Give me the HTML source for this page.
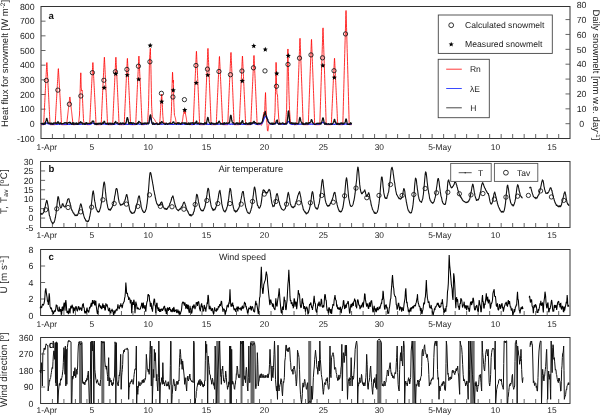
<!DOCTYPE html>
<html><head><meta charset="utf-8"><style>
html,body{margin:0;padding:0;background:#fff;width:600px;height:415px;overflow:hidden}
svg{display:block;filter:blur(0.3px)}
text{font-family:"Liberation Sans",sans-serif;text-rendering:geometricPrecision}
</style></head><body>
<svg width="600" height="415" viewBox="0 0 600 415">
<rect x="41.0" y="6.5" width="529.00" height="132.00" fill="none" stroke="#333" stroke-width="1"/>
<path d="M52.41 138.5v-4.5M63.91 138.5v-4.5M75.42 138.5v-4.5M86.93 138.5v-4.5M98.43 138.5v-4.5M109.94 138.5v-4.5M121.45 138.5v-4.5M132.95 138.5v-4.5M144.46 138.5v-4.5M155.97 138.5v-4.5M167.47 138.5v-4.5M178.98 138.5v-4.5M190.48 138.5v-4.5M201.99 138.5v-4.5M213.50 138.5v-4.5M225.00 138.5v-4.5M236.51 138.5v-4.5M248.02 138.5v-4.5M259.52 138.5v-4.5M271.03 138.5v-4.5M282.54 138.5v-4.5M294.04 138.5v-4.5M305.55 138.5v-4.5M317.06 138.5v-4.5M328.56 138.5v-4.5M340.07 138.5v-4.5M351.58 138.5v-4.5M363.08 138.5v-4.5M374.59 138.5v-4.5M386.10 138.5v-4.5M397.60 138.5v-4.5M409.11 138.5v-4.5M420.62 138.5v-4.5M432.12 138.5v-4.5M443.63 138.5v-4.5M455.13 138.5v-4.5M466.64 138.5v-4.5M478.15 138.5v-4.5M489.65 138.5v-4.5M501.16 138.5v-4.5M512.67 138.5v-4.5M524.17 138.5v-4.5M535.68 138.5v-4.5M547.19 138.5v-4.5M558.69 138.5v-4.5" stroke="#555" stroke-width="0.9" fill="none"/>
<text x="46.85" y="149.50" text-anchor="middle" font-size="8.4" fill="#222">1-Apr</text>
<text x="91.80" y="149.50" text-anchor="middle" font-size="8.4" fill="#222">5</text>
<text x="148.15" y="149.50" text-anchor="middle" font-size="8.4" fill="#222">10</text>
<text x="206.45" y="149.50" text-anchor="middle" font-size="8.4" fill="#222">15</text>
<text x="264.50" y="149.50" text-anchor="middle" font-size="8.4" fill="#222">20</text>
<text x="323.35" y="149.50" text-anchor="middle" font-size="8.4" fill="#222">25</text>
<text x="379.30" y="149.50" text-anchor="middle" font-size="8.4" fill="#222">30</text>
<text x="439.80" y="149.50" text-anchor="middle" font-size="8.4" fill="#222">5-May</text>
<text x="495.40" y="149.50" text-anchor="middle" font-size="8.4" fill="#222">10</text>
<text x="551.90" y="149.50" text-anchor="middle" font-size="8.4" fill="#222">15</text>
<rect x="40.6" y="161.5" width="529.40" height="66.00" fill="none" stroke="#333" stroke-width="1"/>
<path d="M52.41 227.5v-4.5M63.91 227.5v-4.5M75.42 227.5v-4.5M86.93 227.5v-4.5M98.43 227.5v-4.5M109.94 227.5v-4.5M121.45 227.5v-4.5M132.95 227.5v-4.5M144.46 227.5v-4.5M155.97 227.5v-4.5M167.47 227.5v-4.5M178.98 227.5v-4.5M190.48 227.5v-4.5M201.99 227.5v-4.5M213.50 227.5v-4.5M225.00 227.5v-4.5M236.51 227.5v-4.5M248.02 227.5v-4.5M259.52 227.5v-4.5M271.03 227.5v-4.5M282.54 227.5v-4.5M294.04 227.5v-4.5M305.55 227.5v-4.5M317.06 227.5v-4.5M328.56 227.5v-4.5M340.07 227.5v-4.5M351.58 227.5v-4.5M363.08 227.5v-4.5M374.59 227.5v-4.5M386.10 227.5v-4.5M397.60 227.5v-4.5M409.11 227.5v-4.5M420.62 227.5v-4.5M432.12 227.5v-4.5M443.63 227.5v-4.5M455.13 227.5v-4.5M466.64 227.5v-4.5M478.15 227.5v-4.5M489.65 227.5v-4.5M501.16 227.5v-4.5M512.67 227.5v-4.5M524.17 227.5v-4.5M535.68 227.5v-4.5M547.19 227.5v-4.5M558.69 227.5v-4.5" stroke="#555" stroke-width="0.9" fill="none"/>
<text x="46.85" y="237.60" text-anchor="middle" font-size="8.4" fill="#222">1-Apr</text>
<text x="91.80" y="237.60" text-anchor="middle" font-size="8.4" fill="#222">5</text>
<text x="148.15" y="237.60" text-anchor="middle" font-size="8.4" fill="#222">10</text>
<text x="206.45" y="237.60" text-anchor="middle" font-size="8.4" fill="#222">15</text>
<text x="264.50" y="237.60" text-anchor="middle" font-size="8.4" fill="#222">20</text>
<text x="323.35" y="237.60" text-anchor="middle" font-size="8.4" fill="#222">25</text>
<text x="379.30" y="237.60" text-anchor="middle" font-size="8.4" fill="#222">30</text>
<text x="439.80" y="237.60" text-anchor="middle" font-size="8.4" fill="#222">5-May</text>
<text x="495.40" y="237.60" text-anchor="middle" font-size="8.4" fill="#222">10</text>
<text x="551.90" y="237.60" text-anchor="middle" font-size="8.4" fill="#222">15</text>
<rect x="40.6" y="249.5" width="529.40" height="66.00" fill="none" stroke="#333" stroke-width="1"/>
<path d="M52.41 315.5v-4.5M63.91 315.5v-4.5M75.42 315.5v-4.5M86.93 315.5v-4.5M98.43 315.5v-4.5M109.94 315.5v-4.5M121.45 315.5v-4.5M132.95 315.5v-4.5M144.46 315.5v-4.5M155.97 315.5v-4.5M167.47 315.5v-4.5M178.98 315.5v-4.5M190.48 315.5v-4.5M201.99 315.5v-4.5M213.50 315.5v-4.5M225.00 315.5v-4.5M236.51 315.5v-4.5M248.02 315.5v-4.5M259.52 315.5v-4.5M271.03 315.5v-4.5M282.54 315.5v-4.5M294.04 315.5v-4.5M305.55 315.5v-4.5M317.06 315.5v-4.5M328.56 315.5v-4.5M340.07 315.5v-4.5M351.58 315.5v-4.5M363.08 315.5v-4.5M374.59 315.5v-4.5M386.10 315.5v-4.5M397.60 315.5v-4.5M409.11 315.5v-4.5M420.62 315.5v-4.5M432.12 315.5v-4.5M443.63 315.5v-4.5M455.13 315.5v-4.5M466.64 315.5v-4.5M478.15 315.5v-4.5M489.65 315.5v-4.5M501.16 315.5v-4.5M512.67 315.5v-4.5M524.17 315.5v-4.5M535.68 315.5v-4.5M547.19 315.5v-4.5M558.69 315.5v-4.5" stroke="#555" stroke-width="0.9" fill="none"/>
<text x="46.85" y="326.70" text-anchor="middle" font-size="8.4" fill="#222">1-Apr</text>
<text x="91.80" y="326.70" text-anchor="middle" font-size="8.4" fill="#222">5</text>
<text x="148.15" y="326.70" text-anchor="middle" font-size="8.4" fill="#222">10</text>
<text x="206.45" y="326.70" text-anchor="middle" font-size="8.4" fill="#222">15</text>
<text x="264.50" y="326.70" text-anchor="middle" font-size="8.4" fill="#222">20</text>
<text x="323.35" y="326.70" text-anchor="middle" font-size="8.4" fill="#222">25</text>
<text x="379.30" y="326.70" text-anchor="middle" font-size="8.4" fill="#222">30</text>
<text x="439.80" y="326.70" text-anchor="middle" font-size="8.4" fill="#222">5-May</text>
<text x="495.40" y="326.70" text-anchor="middle" font-size="8.4" fill="#222">10</text>
<text x="551.90" y="326.70" text-anchor="middle" font-size="8.4" fill="#222">15</text>
<rect x="40.6" y="337.5" width="529.40" height="66.00" fill="none" stroke="#333" stroke-width="1"/>
<path d="M52.41 403.5v-4.5M63.91 403.5v-4.5M75.42 403.5v-4.5M86.93 403.5v-4.5M98.43 403.5v-4.5M109.94 403.5v-4.5M121.45 403.5v-4.5M132.95 403.5v-4.5M144.46 403.5v-4.5M155.97 403.5v-4.5M167.47 403.5v-4.5M178.98 403.5v-4.5M190.48 403.5v-4.5M201.99 403.5v-4.5M213.50 403.5v-4.5M225.00 403.5v-4.5M236.51 403.5v-4.5M248.02 403.5v-4.5M259.52 403.5v-4.5M271.03 403.5v-4.5M282.54 403.5v-4.5M294.04 403.5v-4.5M305.55 403.5v-4.5M317.06 403.5v-4.5M328.56 403.5v-4.5M340.07 403.5v-4.5M351.58 403.5v-4.5M363.08 403.5v-4.5M374.59 403.5v-4.5M386.10 403.5v-4.5M397.60 403.5v-4.5M409.11 403.5v-4.5M420.62 403.5v-4.5M432.12 403.5v-4.5M443.63 403.5v-4.5M455.13 403.5v-4.5M466.64 403.5v-4.5M478.15 403.5v-4.5M489.65 403.5v-4.5M501.16 403.5v-4.5M512.67 403.5v-4.5M524.17 403.5v-4.5M535.68 403.5v-4.5M547.19 403.5v-4.5M558.69 403.5v-4.5" stroke="#555" stroke-width="0.9" fill="none"/>
<text x="46.85" y="413.00" text-anchor="middle" font-size="8.4" fill="#222">1-Apr</text>
<text x="91.80" y="413.00" text-anchor="middle" font-size="8.4" fill="#222">5</text>
<text x="148.15" y="413.00" text-anchor="middle" font-size="8.4" fill="#222">10</text>
<text x="206.45" y="413.00" text-anchor="middle" font-size="8.4" fill="#222">15</text>
<text x="264.50" y="413.00" text-anchor="middle" font-size="8.4" fill="#222">20</text>
<text x="323.35" y="413.00" text-anchor="middle" font-size="8.4" fill="#222">25</text>
<text x="379.30" y="413.00" text-anchor="middle" font-size="8.4" fill="#222">30</text>
<text x="439.80" y="413.00" text-anchor="middle" font-size="8.4" fill="#222">5-May</text>
<text x="495.40" y="413.00" text-anchor="middle" font-size="8.4" fill="#222">10</text>
<text x="551.90" y="413.00" text-anchor="middle" font-size="8.4" fill="#222">15</text>
<text x="34.6" y="141.70" text-anchor="end" font-size="8.8" fill="#222">-100</text>
<text x="34.6" y="127.03" text-anchor="end" font-size="8.8" fill="#222">0</text>
<text x="34.6" y="112.37" text-anchor="end" font-size="8.8" fill="#222">100</text>
<text x="34.6" y="97.70" text-anchor="end" font-size="8.8" fill="#222">200</text>
<text x="34.6" y="83.03" text-anchor="end" font-size="8.8" fill="#222">300</text>
<text x="34.6" y="68.37" text-anchor="end" font-size="8.8" fill="#222">400</text>
<text x="34.6" y="53.70" text-anchor="end" font-size="8.8" fill="#222">500</text>
<text x="34.6" y="39.03" text-anchor="end" font-size="8.8" fill="#222">600</text>
<text x="34.6" y="24.37" text-anchor="end" font-size="8.8" fill="#222">700</text>
<text x="34.6" y="9.70" text-anchor="end" font-size="8.8" fill="#222">800</text>
<path d="M41.0 123.83h4.5M41.0 109.17h4.5M41.0 94.50h4.5M41.0 79.83h4.5M41.0 65.17h4.5M41.0 50.50h4.5M41.0 35.83h4.5M41.0 21.17h4.5" stroke="#555" stroke-width="0.9" fill="none"/>
<text x="33.5" y="230.70" text-anchor="end" font-size="8.8" fill="#222">-5</text>
<text x="33.5" y="221.27" text-anchor="end" font-size="8.8" fill="#222">0</text>
<text x="33.5" y="211.84" text-anchor="end" font-size="8.8" fill="#222">5</text>
<text x="33.5" y="202.41" text-anchor="end" font-size="8.8" fill="#222">10</text>
<text x="33.5" y="192.99" text-anchor="end" font-size="8.8" fill="#222">15</text>
<text x="33.5" y="183.56" text-anchor="end" font-size="8.8" fill="#222">20</text>
<text x="33.5" y="174.13" text-anchor="end" font-size="8.8" fill="#222">25</text>
<text x="33.5" y="164.70" text-anchor="end" font-size="8.8" fill="#222">30</text>
<path d="M40.6 218.07h4.5M40.6 208.64h4.5M40.6 199.21h4.5M40.6 189.79h4.5M40.6 180.36h4.5M40.6 170.93h4.5" stroke="#555" stroke-width="0.9" fill="none"/>
<text x="33.5" y="318.70" text-anchor="end" font-size="8.8" fill="#222">0</text>
<text x="33.5" y="302.20" text-anchor="end" font-size="8.8" fill="#222">2</text>
<text x="33.5" y="285.70" text-anchor="end" font-size="8.8" fill="#222">4</text>
<text x="33.5" y="269.20" text-anchor="end" font-size="8.8" fill="#222">6</text>
<text x="33.5" y="252.70" text-anchor="end" font-size="8.8" fill="#222">8</text>
<path d="M40.6 299.00h4.5M40.6 282.50h4.5M40.6 266.00h4.5" stroke="#555" stroke-width="0.9" fill="none"/>
<text x="33.5" y="406.70" text-anchor="end" font-size="8.8" fill="#222">0</text>
<text x="33.5" y="390.20" text-anchor="end" font-size="8.8" fill="#222">90</text>
<text x="33.5" y="373.70" text-anchor="end" font-size="8.8" fill="#222">180</text>
<text x="33.5" y="357.20" text-anchor="end" font-size="8.8" fill="#222">270</text>
<text x="33.5" y="340.70" text-anchor="end" font-size="8.8" fill="#222">360</text>
<path d="M40.6 387.00h4.5M40.6 370.50h4.5M40.6 354.00h4.5" stroke="#555" stroke-width="0.9" fill="none"/>
<text x="581.6" y="126.90" text-anchor="middle" font-size="8.8" fill="#222">0</text>
<text x="581.6" y="112.03" text-anchor="middle" font-size="8.8" fill="#222">10</text>
<text x="581.6" y="97.15" text-anchor="middle" font-size="8.8" fill="#222">20</text>
<text x="581.6" y="82.28" text-anchor="middle" font-size="8.8" fill="#222">30</text>
<text x="581.6" y="67.40" text-anchor="middle" font-size="8.8" fill="#222">40</text>
<text x="581.6" y="52.53" text-anchor="middle" font-size="8.8" fill="#222">50</text>
<text x="581.6" y="37.65" text-anchor="middle" font-size="8.8" fill="#222">60</text>
<text x="581.6" y="22.78" text-anchor="middle" font-size="8.8" fill="#222">70</text>
<text x="581.6" y="7.90" text-anchor="middle" font-size="8.8" fill="#222">80</text>
<path d="M570 123.70h-4.5M570 108.83h-4.5M570 93.95h-4.5M570 79.08h-4.5M570 64.20h-4.5M570 49.33h-4.5M570 34.45h-4.5M570 19.58h-4.5" stroke="#555" stroke-width="0.9" fill="none"/>
<text transform="translate(7.8,63.5) rotate(-90)" text-anchor="middle" font-size="9.5" fill="#222">Heat flux for snowmelt [W m<tspan dy="-3.2" font-size="6.5">-2</tspan><tspan dy="3.2">]</tspan></text>
<text transform="translate(593.2,74.9) rotate(90)" text-anchor="middle" font-size="9.5" fill="#222">Daily snowmelt [mm w.e. day<tspan dy="-3.2" font-size="6.5">-1</tspan><tspan dy="3.2">]</tspan></text>
<text transform="translate(7.0,191.5) rotate(-90)" text-anchor="middle" font-size="9.6" letter-spacing="0.35" fill="#222">T, T<tspan dy="1.0" font-size="6.6">av</tspan><tspan dy="-1.0"> [ºC]</tspan></text>
<text transform="translate(7.2,274.6) rotate(-90)" text-anchor="middle" font-size="9.8" fill="#222">U [m s<tspan dy="-3.4" font-size="6.8">-1</tspan><tspan dy="3.4" dx="0.6">]</tspan></text>
<text transform="translate(7.3,369.8) rotate(-90)" text-anchor="middle" font-size="9.9" fill="#222">Wind direction [º]</text>
<text x="218.5" y="171.8" font-size="9.4" fill="#222">Air temperature</text>
<text x="218.9" y="259.8" font-size="8.95" fill="#222">Wind speed</text>
<polyline points="40.90,124.71 41.02,124.71 41.14,124.71 41.26,124.71 41.38,124.71 41.50,124.71 41.62,124.71 41.74,124.71 41.86,124.71 41.98,124.71 42.10,124.71 42.22,124.71 42.34,124.71 42.46,124.71 42.58,124.71 42.70,124.71 42.82,124.71 42.94,124.71 43.06,124.71 43.18,124.71 43.30,124.71 43.42,124.71 43.54,124.71 43.66,124.71 43.78,122.44 43.90,119.80 44.02,117.23 44.14,114.71 44.26,112.23 44.38,109.77 44.50,107.33 44.62,104.91 44.74,102.50 44.86,100.11 44.98,97.73 45.10,95.37 45.21,93.01 45.33,90.66 45.45,88.32 45.57,85.99 45.69,83.66 45.81,81.34 45.93,79.03 46.05,76.73 46.17,74.43 46.29,72.13 46.41,69.85 46.53,67.56 46.65,65.28 46.77,63.01 46.89,62.55 47.01,64.83 47.13,67.11 47.25,69.39 47.37,71.68 47.49,73.97 47.61,76.27 47.73,78.57 47.85,80.88 47.97,83.20 48.09,85.52 48.21,87.85 48.33,90.19 48.45,92.54 48.57,94.89 48.69,97.26 48.81,99.64 48.93,102.02 49.05,104.43 49.17,106.84 49.29,109.28 49.41,111.73 49.53,114.21 49.65,116.72 49.77,119.28 49.89,121.90 50.01,124.71 50.13,124.71 50.25,124.71 50.37,124.71 50.49,124.71 50.61,124.71 50.73,124.71 50.85,124.71 50.97,124.71 51.09,124.71 51.21,124.71 51.33,124.71 51.45,124.71 51.57,124.71 51.69,124.71 51.81,124.71 51.93,124.71 52.05,124.71 52.17,124.71 52.29,124.71 52.41,124.71 52.53,124.71 52.65,124.71 52.77,124.71 52.89,124.71 53.01,124.71 53.13,124.71 53.25,124.71 53.37,124.71 53.49,124.71 53.61,124.71 53.72,124.71 53.84,124.71 53.96,124.71 54.08,124.71 54.20,124.71 54.32,124.71 54.44,124.71 54.56,124.71 54.68,124.71 54.80,124.71 54.92,124.71 55.04,124.71 55.16,124.71 55.28,122.66 55.40,120.28 55.52,117.96 55.64,115.69 55.76,113.45 55.88,111.23 56.00,109.03 56.12,106.84 56.24,104.67 56.36,102.52 56.48,100.37 56.60,98.23 56.72,96.11 56.84,93.99 56.96,91.87 57.08,89.77 57.20,87.67 57.32,85.58 57.44,83.50 57.56,81.41 57.68,79.34 57.80,77.27 57.92,75.21 58.04,73.14 58.16,71.09 58.28,69.04 58.40,68.63 58.52,70.68 58.64,72.73 58.76,74.79 58.88,76.86 59.00,78.93 59.12,81.00 59.24,83.08 59.36,85.16 59.48,87.25 59.60,89.35 59.72,91.45 59.84,93.56 59.96,95.68 60.08,97.81 60.20,99.94 60.32,102.09 60.44,104.24 60.56,106.41 60.68,108.59 60.80,110.79 60.92,113.00 61.04,115.24 61.16,117.50 61.28,119.81 61.40,122.17 61.52,124.71 61.64,124.71 61.76,124.71 61.88,124.71 62.00,124.71 62.12,124.71 62.24,124.71 62.35,124.71 62.47,124.71 62.59,124.71 62.71,124.71 62.83,124.71 62.95,124.71 63.07,124.71 63.19,124.71 63.31,124.71 63.43,124.71 63.55,124.71 63.67,124.71 63.79,124.71 63.91,124.71 64.03,124.71 64.15,124.71 64.27,124.71 64.39,124.71 64.51,124.71 64.63,124.71 64.75,124.71 64.87,124.71 64.99,124.71 65.11,124.71 65.23,124.71 65.35,124.71 65.47,124.71 65.59,124.71 65.71,124.71 65.83,124.71 65.95,124.71 66.07,124.71 66.19,124.71 66.31,124.71 66.43,124.71 66.55,124.71 66.67,124.71 66.79,123.70 66.91,122.52 67.03,121.37 67.15,120.25 67.27,119.14 67.39,118.04 67.51,116.95 67.63,115.87 67.75,114.80 67.87,113.73 67.99,112.67 68.11,111.61 68.23,110.56 68.35,109.51 68.47,108.46 68.59,107.42 68.71,106.38 68.83,105.35 68.95,104.32 69.07,103.29 69.19,102.26 69.31,101.24 69.43,100.21 69.55,99.19 69.67,98.18 69.79,97.16 69.91,96.96 70.03,97.97 70.15,98.99 70.27,100.01 70.39,101.03 70.51,102.06 70.63,103.08 70.75,104.11 70.86,105.14 70.98,106.18 71.10,107.21 71.22,108.25 71.34,109.30 71.46,110.35 71.58,111.40 71.70,112.45 71.82,113.52 71.94,114.58 72.06,115.66 72.18,116.73 72.30,117.82 72.42,118.92 72.54,120.02 72.66,121.15 72.78,122.29 72.90,123.46 73.02,124.71 73.14,124.71 73.26,124.71 73.38,124.71 73.50,124.71 73.62,124.71 73.74,124.71 73.86,124.71 73.98,124.71 74.10,124.71 74.22,124.71 74.34,124.71 74.46,124.71 74.58,124.71 74.70,124.71 74.82,124.71 74.94,124.71 75.06,124.71 75.18,124.71 75.30,124.71 75.42,123.83 75.54,123.83 75.66,123.83 75.78,123.83 75.90,123.83 76.02,123.83 76.14,123.83 76.26,123.83 76.38,123.83 76.50,123.83 76.62,123.83 76.74,123.83 76.86,123.83 76.98,123.83 77.10,123.83 77.22,123.83 77.34,123.83 77.46,123.83 77.58,123.83 77.70,123.83 77.82,123.83 77.94,123.83 78.06,123.83 78.18,123.83 78.30,123.83 78.42,123.83 78.54,123.83 78.66,122.73 78.78,121.63 78.90,120.53 79.02,119.43 79.14,118.33 79.26,117.23 79.37,116.13 79.49,115.03 79.61,110.63 79.73,106.23 79.85,101.83 79.97,97.43 80.09,93.03 80.21,88.63 80.33,84.23 80.45,79.83 80.57,77.50 80.69,75.16 80.81,72.82 80.93,76.59 81.05,81.88 81.17,87.17 81.29,88.08 81.41,89.00 81.53,89.92 81.65,90.83 81.77,90.65 81.89,90.47 82.01,90.28 82.13,90.10 82.25,92.79 82.37,95.48 82.49,98.17 82.61,100.86 82.73,103.54 82.85,106.23 82.97,108.68 83.09,111.12 83.21,113.57 83.33,116.01 83.45,118.46 83.57,120.90 83.69,121.39 83.81,121.88 83.93,122.37 84.05,122.86 84.17,123.34 84.29,123.83 84.41,123.83 84.53,123.83 84.65,123.83 84.77,123.83 84.89,123.83 85.01,123.83 85.13,123.83 85.25,123.83 85.37,123.83 85.49,123.83 85.61,123.83 85.73,123.83 85.85,123.83 85.97,123.83 86.09,123.83 86.21,123.83 86.33,123.83 86.45,123.83 86.57,123.83 86.69,123.83 86.81,123.83 86.93,124.71 87.05,124.71 87.17,124.71 87.29,124.71 87.41,124.71 87.53,124.71 87.65,124.71 87.77,124.71 87.88,124.71 88.00,124.71 88.12,124.71 88.24,124.71 88.36,124.71 88.48,124.71 88.60,124.71 88.72,124.71 88.84,124.71 88.96,124.71 89.08,124.71 89.20,124.71 89.32,124.71 89.44,124.71 89.56,124.71 89.68,124.71 89.80,122.44 89.92,119.80 90.04,117.23 90.16,114.71 90.28,112.23 90.40,109.77 90.52,107.33 90.64,104.91 90.76,102.50 90.88,100.11 91.00,97.73 91.12,95.37 91.24,93.01 91.36,90.66 91.48,88.32 91.60,85.99 91.72,83.66 91.84,81.34 91.96,79.03 92.08,76.73 92.20,74.43 92.32,72.13 92.44,69.85 92.56,67.56 92.68,65.28 92.80,63.01 92.92,62.55 93.04,64.83 93.16,67.11 93.28,69.39 93.40,71.68 93.52,73.97 93.64,76.27 93.76,78.57 93.88,80.88 94.00,83.20 94.12,85.52 94.24,87.85 94.36,90.19 94.48,92.54 94.60,94.89 94.72,97.26 94.84,99.64 94.96,102.02 95.08,104.43 95.20,106.84 95.32,109.28 95.44,111.73 95.56,114.21 95.68,116.72 95.80,119.28 95.92,121.90 96.04,124.71 96.16,124.71 96.28,124.71 96.39,124.71 96.51,124.71 96.63,124.71 96.75,124.71 96.87,124.71 96.99,124.71 97.11,124.71 97.23,124.71 97.35,124.71 97.47,124.71 97.59,124.71 97.71,124.71 97.83,124.71 97.95,124.71 98.07,124.71 98.19,124.71 98.31,124.71 98.43,124.71 98.55,124.71 98.67,124.71 98.79,124.71 98.91,124.71 99.03,124.71 99.15,124.71 99.27,124.71 99.39,124.71 99.51,124.71 99.63,124.71 99.75,124.71 99.87,124.71 99.99,124.71 100.11,124.71 100.23,124.71 100.35,124.71 100.47,124.71 100.59,124.71 100.71,124.71 100.83,124.71 100.95,124.71 101.07,124.71 101.19,124.71 101.31,122.24 101.43,119.37 101.55,116.59 101.67,113.85 101.79,111.15 101.91,108.48 102.03,105.83 102.15,103.20 102.27,100.59 102.39,98.00 102.51,95.41 102.63,92.84 102.75,90.28 102.87,87.73 102.99,85.19 103.11,82.66 103.23,80.13 103.35,77.61 103.47,75.10 103.59,72.60 103.71,70.10 103.83,67.61 103.95,65.12 104.07,62.64 104.19,60.17 104.31,57.70 104.43,57.21 104.55,59.68 104.67,62.15 104.79,64.63 104.91,67.11 105.02,69.60 105.14,72.10 105.26,74.60 105.38,77.11 105.50,79.63 105.62,82.15 105.74,84.68 105.86,87.22 105.98,89.77 106.10,92.33 106.22,94.90 106.34,97.48 106.46,100.07 106.58,102.68 106.70,105.31 106.82,107.95 106.94,110.62 107.06,113.31 107.18,116.04 107.30,118.81 107.42,121.66 107.54,124.71 107.66,124.71 107.78,124.71 107.90,124.71 108.02,124.71 108.14,124.71 108.26,124.71 108.38,124.71 108.50,124.71 108.62,124.71 108.74,124.71 108.86,124.71 108.98,124.71 109.10,124.71 109.22,124.71 109.34,124.71 109.46,124.71 109.58,124.71 109.70,124.71 109.82,124.71 109.94,124.71 110.06,124.71 110.18,124.71 110.30,124.71 110.42,124.71 110.54,124.71 110.66,124.71 110.78,124.71 110.90,124.71 111.02,124.71 111.14,124.71 111.26,124.71 111.38,124.71 111.50,124.71 111.62,124.71 111.74,124.71 111.86,124.71 111.98,124.71 112.10,124.71 112.22,124.71 112.34,124.71 112.46,124.71 112.58,124.71 112.70,124.71 112.82,122.24 112.94,119.37 113.06,116.59 113.18,113.85 113.30,111.15 113.42,108.48 113.53,105.83 113.65,103.20 113.77,100.59 113.89,98.00 114.01,95.41 114.13,92.84 114.25,90.28 114.37,87.73 114.49,85.19 114.61,82.66 114.73,80.13 114.85,77.61 114.97,75.10 115.09,72.60 115.21,70.10 115.33,67.61 115.45,65.12 115.57,62.64 115.69,60.17 115.81,57.70 115.93,57.21 116.05,59.68 116.17,62.15 116.29,64.63 116.41,67.11 116.53,69.60 116.65,72.10 116.77,74.60 116.89,77.11 117.01,79.63 117.13,82.15 117.25,84.68 117.37,87.22 117.49,89.77 117.61,92.33 117.73,94.90 117.85,97.48 117.97,100.07 118.09,102.68 118.21,105.31 118.33,107.95 118.45,110.62 118.57,113.31 118.69,116.04 118.81,118.81 118.93,121.66 119.05,124.71 119.17,124.71 119.29,124.71 119.41,124.71 119.53,124.71 119.65,124.71 119.77,124.71 119.89,124.71 120.01,124.71 120.13,124.71 120.25,124.71 120.37,124.71 120.49,124.71 120.61,124.71 120.73,124.71 120.85,124.71 120.97,124.71 121.09,124.71 121.21,124.71 121.33,124.71 121.45,124.71 121.57,124.71 121.69,124.71 121.81,124.71 121.93,124.71 122.04,124.71 122.16,124.71 122.28,124.71 122.40,124.71 122.52,124.71 122.64,124.71 122.76,124.71 122.88,124.71 123.00,124.71 123.12,124.71 123.24,124.71 123.36,124.71 123.48,124.71 123.60,124.71 123.72,124.71 123.84,124.71 123.96,124.71 124.08,124.71 124.20,124.71 124.32,122.28 124.44,119.46 124.56,116.73 124.68,114.04 124.80,111.38 124.92,108.76 125.04,106.16 125.16,103.57 125.28,101.01 125.40,98.45 125.52,95.91 125.64,93.39 125.76,90.87 125.88,88.36 126.00,85.87 126.12,83.38 126.24,80.89 126.36,78.42 126.48,75.95 126.60,73.49 126.72,71.04 126.84,68.59 126.96,66.15 127.08,63.71 127.20,61.28 127.32,58.85 127.44,58.36 127.56,60.79 127.68,63.22 127.80,65.66 127.92,68.10 128.04,70.55 128.16,73.00 128.28,75.46 128.40,77.93 128.52,80.40 128.64,82.88 128.76,85.37 128.88,87.86 129.00,90.37 129.12,92.88 129.24,95.41 129.36,97.95 129.48,100.49 129.60,103.06 129.72,105.64 129.84,108.24 129.96,110.86 130.08,113.50 130.20,116.18 130.32,118.91 130.44,121.71 130.55,124.71 130.67,124.71 130.79,124.71 130.91,124.71 131.03,124.71 131.15,124.71 131.27,124.71 131.39,124.71 131.51,124.71 131.63,124.71 131.75,124.71 131.87,124.71 131.99,124.71 132.11,124.71 132.23,124.71 132.35,124.71 132.47,124.71 132.59,124.71 132.71,124.71 132.83,124.71 132.95,124.71 133.07,124.71 133.19,124.71 133.31,124.71 133.43,124.71 133.55,124.71 133.67,124.71 133.79,124.71 133.91,124.71 134.03,124.71 134.15,124.71 134.27,124.71 134.39,124.71 134.51,124.71 134.63,124.71 134.75,124.71 134.87,124.71 134.99,124.71 135.11,124.71 135.23,124.71 135.35,124.71 135.47,124.71 135.59,124.71 135.71,124.71 135.83,122.20 135.95,119.28 136.07,116.45 136.19,113.67 136.31,110.92 136.43,108.20 136.55,105.51 136.67,102.84 136.79,100.18 136.91,97.54 137.03,94.91 137.15,92.30 137.27,89.69 137.39,87.10 137.51,84.51 137.63,81.93 137.75,79.37 137.87,76.81 137.99,74.25 138.11,71.71 138.23,69.17 138.35,66.63 138.47,64.10 138.59,61.58 138.71,59.06 138.83,56.55 138.95,56.05 139.07,58.56 139.18,61.08 139.30,63.60 139.42,66.13 139.54,68.66 139.66,71.20 139.78,73.74 139.90,76.29 140.02,78.85 140.14,81.42 140.26,84.00 140.38,86.58 140.50,89.17 140.62,91.77 140.74,94.39 140.86,97.01 140.98,99.65 141.10,102.30 141.22,104.97 141.34,107.66 141.46,110.37 141.58,113.11 141.70,115.89 141.82,118.71 141.94,121.61 142.06,124.71 142.18,124.71 142.30,124.71 142.42,124.71 142.54,124.71 142.66,124.71 142.78,124.71 142.90,124.71 143.02,124.71 143.14,124.71 143.26,124.71 143.38,124.71 143.50,124.71 143.62,124.71 143.74,124.71 143.86,124.71 143.98,124.71 144.10,124.71 144.22,124.71 144.34,124.71 144.46,123.83 144.58,123.83 144.70,123.83 144.82,123.83 144.94,123.83 145.06,123.83 145.18,123.83 145.30,123.83 145.42,123.83 145.54,123.83 145.66,123.83 145.78,123.83 145.90,123.83 146.02,123.83 146.14,123.83 146.26,123.83 146.38,123.83 146.50,123.83 146.62,123.83 146.74,123.83 146.86,123.83 146.98,123.83 147.10,123.83 147.22,123.83 147.34,123.83 147.46,123.83 147.58,123.83 147.69,121.63 147.81,119.43 147.93,117.23 148.05,115.03 148.17,112.83 148.29,110.63 148.41,108.43 148.53,106.23 148.65,100.37 148.77,94.50 148.89,88.63 149.01,82.77 149.13,76.90 149.25,71.03 149.37,65.17 149.49,59.30 149.61,57.73 149.73,56.16 149.85,54.59 149.97,53.03 150.09,51.46 150.21,49.89 150.33,48.32 150.45,51.36 150.57,55.54 150.69,59.73 150.81,63.91 150.93,68.10 151.05,74.46 151.17,80.81 151.29,87.17 151.41,93.52 151.53,99.88 151.65,106.23 151.77,108.37 151.89,110.51 152.01,112.65 152.13,114.79 152.25,116.54 152.37,116.74 152.49,116.95 152.61,117.15 152.73,117.36 152.85,117.56 152.97,117.76 153.09,117.97 153.21,118.09 153.33,118.21 153.45,118.33 153.57,118.46 153.69,118.58 153.81,118.70 153.93,118.82 154.05,118.94 154.17,119.07 154.29,119.19 154.41,119.31 154.53,119.43 154.65,119.68 154.77,119.92 154.89,120.17 155.01,120.41 155.13,120.66 155.25,120.90 155.37,121.14 155.49,121.39 155.61,121.63 155.73,121.88 155.85,122.12 155.97,122.37 156.09,122.44 156.20,122.51 156.32,122.59 156.44,122.66 156.56,122.73 156.68,122.81 156.80,122.88 156.92,122.95 157.04,123.03 157.16,123.10 157.28,123.17 157.40,123.25 157.52,123.32 157.64,123.39 157.76,123.47 157.88,123.54 158.00,123.61 158.12,123.69 158.24,123.76 158.36,123.83 158.48,123.71 158.60,123.59 158.72,123.47 158.84,123.34 158.96,123.22 159.08,123.10 159.20,122.98 159.32,122.86 159.44,122.73 159.56,122.61 159.68,122.49 159.80,122.37 159.92,120.53 160.04,118.70 160.16,116.87 160.28,115.03 160.40,112.83 160.52,110.63 160.64,108.43 160.76,106.23 160.88,104.03 161.00,101.83 161.12,100.54 161.24,99.24 161.36,97.95 161.48,96.65 161.60,95.36 161.72,94.06 161.84,96.00 161.96,97.95 162.08,99.89 162.20,101.83 162.32,104.58 162.44,107.33 162.56,110.08 162.68,112.83 162.80,115.32 162.92,116.73 163.04,118.14 163.16,119.55 163.28,120.96 163.40,122.37 163.52,122.41 163.64,122.45 163.76,122.50 163.88,122.54 164.00,122.58 164.12,122.63 164.24,122.67 164.36,122.71 164.48,122.75 164.60,122.80 164.71,122.84 164.83,122.88 164.95,122.93 165.07,122.97 165.19,123.01 165.31,123.06 165.43,123.10 165.55,123.14 165.67,123.19 165.79,123.23 165.91,123.27 166.03,123.32 166.15,123.36 166.27,123.40 166.39,123.45 166.51,123.49 166.63,123.53 166.75,123.57 166.87,123.62 166.99,123.66 167.11,123.70 167.23,123.75 167.35,123.79 167.47,123.83 167.59,123.83 167.71,123.83 167.83,123.83 167.95,123.83 168.07,123.83 168.19,123.83 168.31,123.83 168.43,123.83 168.55,123.83 168.67,123.83 168.79,123.83 168.91,123.83 169.03,123.83 169.15,123.83 169.27,123.83 169.39,123.83 169.51,123.83 169.63,123.83 169.75,123.83 169.87,123.83 169.99,123.83 170.11,123.83 170.23,123.83 170.35,123.83 170.47,123.83 170.59,123.83 170.71,122.11 170.83,120.38 170.95,118.66 171.07,116.93 171.19,115.21 171.31,113.48 171.43,111.14 171.55,106.35 171.67,101.55 171.79,96.76 171.91,91.96 172.03,87.17 172.15,83.43 172.27,79.70 172.39,75.97 172.51,72.23 172.63,72.99 172.75,76.75 172.87,80.51 172.99,82.44 173.11,81.63 173.23,80.81 173.34,80.00 173.46,84.72 173.58,90.83 173.70,96.94 173.82,102.34 173.94,104.88 174.06,107.42 174.18,109.96 174.30,112.49 174.42,115.03 174.54,115.40 174.66,115.77 174.78,116.13 174.90,116.50 175.02,116.87 175.14,117.23 175.26,117.60 175.38,117.97 175.50,118.70 175.62,119.43 175.74,120.17 175.86,120.90 175.98,121.63 176.10,122.37 176.22,122.43 176.34,122.49 176.46,122.55 176.58,122.61 176.70,122.67 176.82,122.73 176.94,122.79 177.06,122.86 177.18,122.92 177.30,122.98 177.42,123.04 177.54,123.10 177.66,123.16 177.78,123.22 177.90,123.28 178.02,123.34 178.14,123.41 178.26,123.47 178.38,123.53 178.50,123.59 178.62,123.65 178.74,123.71 178.86,123.77 178.98,123.83 179.10,123.83 179.22,123.83 179.34,123.83 179.46,123.83 179.58,123.83 179.70,123.83 179.82,123.83 179.94,123.83 180.06,123.83 180.18,123.83 180.30,123.83 180.42,123.83 180.54,123.83 180.66,123.83 180.78,123.83 180.90,123.83 181.02,123.83 181.14,123.83 181.26,123.83 181.38,123.83 181.50,123.83 181.62,123.83 181.74,123.83 181.85,123.83 181.97,123.22 182.09,122.61 182.21,122.00 182.33,121.39 182.45,120.78 182.57,120.17 182.69,119.31 182.81,118.46 182.93,117.60 183.05,116.74 183.17,115.89 183.29,115.03 183.41,114.48 183.53,113.93 183.65,113.38 183.77,112.83 183.89,112.10 184.01,111.37 184.13,110.63 184.25,109.90 184.37,109.58 184.49,110.91 184.61,112.24 184.73,113.57 184.85,113.02 184.97,112.47 185.09,111.92 185.21,111.37 185.33,112.28 185.45,113.20 185.57,114.12 185.69,115.03 185.81,115.60 185.93,116.16 186.05,116.73 186.17,117.29 186.29,117.85 186.41,118.70 186.53,119.62 186.65,120.53 186.77,121.45 186.89,122.37 187.01,122.61 187.13,122.86 187.25,123.10 187.37,123.34 187.49,123.59 187.61,123.83 187.73,123.83 187.85,123.83 187.97,123.83 188.09,123.83 188.21,123.83 188.33,123.83 188.45,123.83 188.57,123.83 188.69,123.83 188.81,123.83 188.93,123.83 189.05,123.83 189.17,123.83 189.29,123.83 189.41,123.83 189.53,123.83 189.65,123.83 189.77,123.83 189.89,123.83 190.01,123.83 190.13,123.83 190.25,123.83 190.36,123.83 190.48,124.71 190.60,124.71 190.72,124.71 190.84,124.71 190.96,124.71 191.08,124.71 191.20,124.71 191.32,124.71 191.44,124.71 191.56,124.71 191.68,124.71 191.80,124.71 191.92,124.71 192.04,124.71 192.16,124.71 192.28,124.71 192.40,124.71 192.52,124.71 192.64,124.71 192.76,124.71 192.88,124.71 193.00,124.71 193.12,124.71 193.24,124.71 193.36,122.02 193.48,118.90 193.60,115.87 193.72,112.90 193.84,109.96 193.96,107.06 194.08,104.18 194.20,101.32 194.32,98.48 194.44,95.65 194.56,92.84 194.68,90.04 194.80,87.26 194.92,84.48 195.04,81.72 195.16,78.96 195.28,76.22 195.40,73.48 195.52,70.75 195.64,68.02 195.76,65.31 195.88,62.60 196.00,59.89 196.12,57.20 196.24,54.50 196.36,51.82 196.48,51.28 196.60,53.97 196.72,56.66 196.84,59.35 196.96,62.06 197.08,64.76 197.20,67.48 197.32,70.20 197.44,72.93 197.56,75.67 197.68,78.41 197.80,81.17 197.92,83.93 198.04,86.70 198.16,89.48 198.28,92.28 198.40,95.09 198.52,97.91 198.64,100.75 198.76,103.60 198.87,106.48 198.99,109.38 199.11,112.31 199.23,115.27 199.35,118.29 199.47,121.39 199.59,124.71 199.71,124.71 199.83,124.71 199.95,124.71 200.07,124.71 200.19,124.71 200.31,124.71 200.43,124.71 200.55,124.71 200.67,124.71 200.79,124.71 200.91,124.71 201.03,124.71 201.15,124.71 201.27,124.71 201.39,124.71 201.51,124.71 201.63,124.71 201.75,124.71 201.87,124.71 201.99,124.71 202.11,124.71 202.23,124.71 202.35,124.71 202.47,124.71 202.59,124.71 202.71,124.71 202.83,124.71 202.95,124.71 203.07,124.71 203.19,124.71 203.31,124.71 203.43,124.71 203.55,124.71 203.67,124.71 203.79,124.71 203.91,124.71 204.03,124.71 204.15,124.71 204.27,124.71 204.39,124.71 204.51,124.71 204.63,124.71 204.75,124.71 204.87,121.92 204.99,118.67 205.11,115.52 205.23,112.43 205.35,109.38 205.47,106.36 205.59,103.37 205.71,100.40 205.83,97.44 205.95,94.51 206.07,91.59 206.19,88.68 206.31,85.78 206.43,82.90 206.55,80.03 206.67,77.16 206.79,74.31 206.91,71.46 207.03,68.62 207.15,65.79 207.27,62.97 207.38,60.15 207.50,57.34 207.62,54.54 207.74,51.74 207.86,48.95 207.98,48.39 208.10,51.18 208.22,53.98 208.34,56.78 208.46,59.59 208.58,62.40 208.70,65.23 208.82,68.06 208.94,70.89 209.06,73.74 209.18,76.59 209.30,79.45 209.42,82.32 209.54,85.21 209.66,88.10 209.78,91.00 209.90,93.92 210.02,96.85 210.14,99.80 210.26,102.77 210.38,105.76 210.50,108.77 210.62,111.82 210.74,114.90 210.86,118.04 210.98,121.26 211.10,124.71 211.22,124.71 211.34,124.71 211.46,124.71 211.58,124.71 211.70,124.71 211.82,124.71 211.94,124.71 212.06,124.71 212.18,124.71 212.30,124.71 212.42,124.71 212.54,124.71 212.66,124.71 212.78,124.71 212.90,124.71 213.02,124.71 213.14,124.71 213.26,124.71 213.38,124.71 213.50,124.71 213.62,124.71 213.74,124.71 213.86,124.71 213.98,124.71 214.10,124.71 214.22,124.71 214.34,124.71 214.46,124.71 214.58,124.71 214.70,124.71 214.82,124.71 214.94,124.71 215.06,124.71 215.18,124.71 215.30,124.71 215.42,124.71 215.54,124.71 215.66,124.71 215.78,124.71 215.90,124.71 216.01,124.71 216.13,124.71 216.25,124.71 216.37,122.21 216.49,119.32 216.61,116.50 216.73,113.73 216.85,111.01 216.97,108.31 217.09,105.63 217.21,102.97 217.33,100.33 217.45,97.71 217.57,95.10 217.69,92.50 217.81,89.91 217.93,87.33 218.05,84.77 218.17,82.21 218.29,79.65 218.41,77.11 218.53,74.57 218.65,72.04 218.77,69.52 218.89,67.00 219.01,64.49 219.13,61.98 219.25,59.48 219.37,56.98 219.49,56.48 219.61,58.98 219.73,61.48 219.85,63.99 219.97,66.50 220.09,69.01 220.21,71.54 220.33,74.06 220.45,76.60 220.57,79.14 220.69,81.69 220.81,84.25 220.93,86.82 221.05,89.40 221.17,91.98 221.29,94.58 221.41,97.19 221.53,99.81 221.65,102.45 221.77,105.10 221.89,107.77 222.01,110.46 222.13,113.19 222.25,115.94 222.37,118.75 222.49,121.62 222.61,124.71 222.73,124.71 222.85,124.71 222.97,124.71 223.09,124.71 223.21,124.71 223.33,124.71 223.45,124.71 223.57,124.71 223.69,124.71 223.81,124.71 223.93,124.71 224.05,124.71 224.17,124.71 224.29,124.71 224.41,124.71 224.52,124.71 224.64,124.71 224.76,124.71 224.88,124.71 225.00,124.71 225.12,124.71 225.24,124.71 225.36,124.71 225.48,124.71 225.60,124.71 225.72,124.71 225.84,124.71 225.96,124.71 226.08,124.71 226.20,124.71 226.32,124.71 226.44,124.71 226.56,124.71 226.68,124.71 226.80,124.71 226.92,124.71 227.04,124.71 227.16,124.71 227.28,124.71 227.40,124.71 227.52,124.71 227.64,124.71 227.76,124.71 227.88,122.07 228.00,118.99 228.12,116.01 228.24,113.08 228.36,110.19 228.48,107.33 228.60,104.50 228.72,101.68 228.84,98.89 228.96,96.11 229.08,93.34 229.20,90.59 229.32,87.85 229.44,85.12 229.56,82.40 229.68,79.68 229.80,76.98 229.92,74.28 230.04,71.60 230.16,68.92 230.28,66.24 230.40,63.58 230.52,60.91 230.64,58.26 230.76,55.61 230.88,52.96 231.00,52.44 231.12,55.08 231.24,57.73 231.36,60.38 231.48,63.04 231.60,65.71 231.72,68.38 231.84,71.06 231.96,73.75 232.08,76.44 232.20,79.14 232.32,81.85 232.44,84.57 232.56,87.30 232.68,90.04 232.80,92.79 232.92,95.55 233.03,98.33 233.15,101.12 233.27,103.93 233.39,106.77 233.51,109.62 233.63,112.50 233.75,115.42 233.87,118.39 233.99,121.44 234.11,124.71 234.23,124.71 234.35,124.71 234.47,124.71 234.59,124.71 234.71,124.71 234.83,124.71 234.95,124.71 235.07,124.71 235.19,124.71 235.31,124.71 235.43,124.71 235.55,124.71 235.67,124.71 235.79,124.71 235.91,124.71 236.03,124.71 236.15,124.71 236.27,124.71 236.39,124.71 236.51,124.71 236.63,124.71 236.75,124.71 236.87,124.71 236.99,124.71 237.11,124.71 237.23,124.71 237.35,124.71 237.47,124.71 237.59,124.71 237.71,124.71 237.83,124.71 237.95,124.71 238.07,124.71 238.19,124.71 238.31,124.71 238.43,124.71 238.55,124.71 238.67,124.71 238.79,124.71 238.91,124.71 239.03,124.71 239.15,124.71 239.27,124.71 239.39,122.20 239.51,119.28 239.63,116.45 239.75,113.67 239.87,110.92 239.99,108.20 240.11,105.51 240.23,102.84 240.35,100.18 240.47,97.54 240.59,94.91 240.71,92.30 240.83,89.69 240.95,87.10 241.07,84.51 241.19,81.93 241.31,79.37 241.43,76.81 241.54,74.25 241.66,71.71 241.78,69.17 241.90,66.63 242.02,64.10 242.14,61.58 242.26,59.06 242.38,56.55 242.50,56.05 242.62,58.56 242.74,61.08 242.86,63.60 242.98,66.13 243.10,68.66 243.22,71.20 243.34,73.74 243.46,76.29 243.58,78.85 243.70,81.42 243.82,84.00 243.94,86.58 244.06,89.17 244.18,91.77 244.30,94.39 244.42,97.01 244.54,99.65 244.66,102.30 244.78,104.97 244.90,107.66 245.02,110.37 245.14,113.11 245.26,115.89 245.38,118.71 245.50,121.61 245.62,124.71 245.74,124.71 245.86,124.71 245.98,124.71 246.10,124.71 246.22,124.71 246.34,124.71 246.46,124.71 246.58,124.71 246.70,124.71 246.82,124.71 246.94,124.71 247.06,124.71 247.18,124.71 247.30,124.71 247.42,124.71 247.54,124.71 247.66,124.71 247.78,124.71 247.90,124.71 248.02,124.71 248.14,124.71 248.26,124.71 248.38,124.71 248.50,124.71 248.62,124.71 248.74,124.71 248.86,124.71 248.98,124.71 249.10,124.71 249.22,124.71 249.34,124.71 249.46,124.71 249.58,124.71 249.70,124.71 249.82,124.71 249.94,124.71 250.06,124.71 250.17,124.71 250.29,124.71 250.41,124.71 250.53,124.71 250.65,124.71 250.77,124.71 250.89,122.18 251.01,119.23 251.13,116.38 251.25,113.57 251.37,110.80 251.49,108.06 251.61,105.35 251.73,102.65 251.85,99.97 251.97,97.31 252.09,94.66 252.21,92.02 252.33,89.40 252.45,86.78 252.57,84.17 252.69,81.57 252.81,78.98 252.93,76.40 253.05,73.83 253.17,71.26 253.29,68.70 253.41,66.14 253.53,63.59 253.65,61.05 253.77,58.51 253.89,55.98 254.01,55.47 254.13,58.00 254.25,60.54 254.37,63.08 254.49,65.63 254.61,68.19 254.73,70.75 254.85,73.31 254.97,75.89 255.09,78.47 255.21,81.06 255.33,83.65 255.45,86.26 255.57,88.87 255.69,91.50 255.81,94.13 255.93,96.78 256.05,99.44 256.17,102.11 256.29,104.81 256.41,107.52 256.53,110.25 256.65,113.02 256.77,115.81 256.89,118.66 257.01,121.58 257.13,124.71 257.25,124.71 257.37,124.71 257.49,124.71 257.61,124.71 257.73,124.71 257.85,124.71 257.97,124.71 258.09,124.71 258.21,124.71 258.33,124.71 258.45,124.71 258.57,124.71 258.68,124.71 258.80,124.71 258.92,124.71 259.04,124.71 259.16,124.71 259.28,124.71 259.40,124.71 259.52,123.83 259.64,123.93 259.76,124.02 259.88,124.11 260.00,124.20 260.12,124.29 260.24,124.38 260.36,124.48 260.48,124.57 260.60,124.66 260.72,124.75 260.84,124.84 260.96,124.93 261.08,125.03 261.20,125.12 261.32,125.21 261.44,125.30 261.56,125.01 261.68,124.71 261.80,124.42 261.92,124.13 262.04,123.83 262.16,123.54 262.28,123.25 262.40,122.95 262.52,122.66 262.64,122.37 262.76,121.14 262.88,119.92 263.00,118.70 263.12,117.48 263.24,116.26 263.36,115.03 263.48,114.54 263.60,114.06 263.72,113.57 263.84,113.08 263.96,112.59 264.08,112.10 264.20,113.20 264.32,114.30 264.44,115.40 264.56,116.50 264.68,112.83 264.80,109.17 264.92,105.50 265.04,101.83 265.16,99.52 265.28,97.21 265.40,94.90 265.52,92.59 265.64,96.00 265.76,99.41 265.88,102.82 266.00,106.23 266.12,109.17 266.24,112.10 266.36,115.03 266.48,117.97 266.60,119.43 266.72,120.90 266.84,122.37 266.96,123.83 267.08,125.48 267.19,127.13 267.31,128.78 267.43,130.43 267.55,130.62 267.67,130.80 267.79,130.98 267.91,131.17 268.03,130.07 268.15,128.97 268.27,127.87 268.39,126.77 268.51,126.28 268.63,125.79 268.75,125.30 268.87,124.81 268.99,124.32 269.11,123.83 269.23,123.83 269.35,123.83 269.47,123.83 269.59,123.83 269.71,123.83 269.83,123.83 269.95,123.83 270.07,123.83 270.19,123.83 270.31,123.83 270.43,123.83 270.55,123.83 270.67,123.83 270.79,123.83 270.91,123.83 271.03,123.83 271.15,123.83 271.27,123.83 271.39,123.83 271.51,123.83 271.63,123.83 271.75,123.83 271.87,123.83 271.99,123.83 272.11,123.83 272.23,123.83 272.35,123.83 272.47,123.83 272.59,123.83 272.71,123.83 272.83,123.83 272.95,123.83 273.07,123.83 273.19,123.83 273.31,123.83 273.43,123.83 273.55,123.83 273.67,123.83 273.79,123.83 273.91,123.83 274.03,123.83 274.15,123.83 274.27,122.20 274.39,120.57 274.51,118.94 274.63,117.31 274.75,115.69 274.87,114.06 274.99,112.43 275.11,107.80 275.23,102.42 275.35,97.04 275.47,91.66 275.59,86.29 275.70,80.91 275.82,74.85 275.94,68.61 276.06,62.38 276.18,63.98 276.30,70.80 276.42,77.62 276.54,84.44 276.66,88.39 276.78,90.43 276.90,92.46 277.02,94.50 277.14,94.54 277.26,94.57 277.38,94.61 277.50,94.65 277.62,97.54 277.74,100.44 277.86,103.34 277.98,106.23 278.10,108.19 278.22,110.14 278.34,112.10 278.46,114.06 278.58,116.01 278.70,117.97 278.82,118.94 278.94,119.92 279.06,120.90 279.18,121.88 279.30,122.86 279.42,123.83 279.54,123.83 279.66,123.83 279.78,123.83 279.90,123.83 280.02,123.83 280.14,123.83 280.26,123.83 280.38,123.83 280.50,123.83 280.62,123.83 280.74,123.83 280.86,123.83 280.98,123.83 281.10,123.83 281.22,123.83 281.34,123.83 281.46,123.83 281.58,123.83 281.70,123.83 281.82,123.83 281.94,123.83 282.06,123.83 282.18,123.83 282.30,123.83 282.42,123.83 282.54,123.83 282.66,123.83 282.78,123.83 282.90,123.83 283.02,123.83 283.14,123.83 283.26,123.83 283.38,123.83 283.50,123.83 283.62,123.83 283.74,123.83 283.86,123.83 283.98,123.83 284.10,123.83 284.21,123.83 284.33,123.83 284.45,123.83 284.57,123.83 284.69,123.83 284.81,123.83 284.93,123.83 285.05,123.83 285.17,123.83 285.29,123.83 285.41,123.83 285.53,123.83 285.65,123.83 285.77,122.00 285.89,120.17 286.01,118.33 286.13,116.50 286.25,114.67 286.37,112.83 286.49,111.00 286.61,109.17 286.73,102.32 286.85,95.48 286.97,88.63 287.09,81.79 287.21,74.94 287.33,68.10 287.45,63.88 287.57,59.67 287.69,55.45 287.81,51.23 287.93,48.98 288.05,54.58 288.17,60.18 288.29,65.78 288.41,71.38 288.53,76.41 288.65,81.30 288.77,86.19 288.89,90.83 289.01,94.50 289.13,98.17 289.25,101.83 289.37,105.50 289.49,109.17 289.61,111.00 289.73,112.83 289.85,114.67 289.97,116.50 290.09,118.33 290.21,120.17 290.33,122.00 290.45,123.83 290.57,123.83 290.69,123.83 290.81,123.83 290.93,123.83 291.05,123.83 291.17,123.83 291.29,123.83 291.41,123.83 291.53,123.83 291.65,123.83 291.77,123.83 291.89,123.83 292.01,123.83 292.13,123.83 292.25,123.83 292.37,123.83 292.49,123.83 292.61,123.83 292.73,123.83 292.84,123.83 292.96,123.83 293.08,123.83 293.20,123.83 293.32,123.83 293.44,123.83 293.56,123.83 293.68,123.83 293.80,123.83 293.92,123.83 294.04,124.71 294.16,124.71 294.28,124.71 294.40,124.71 294.52,124.71 294.64,124.71 294.76,124.71 294.88,124.71 295.00,124.71 295.12,124.71 295.24,124.71 295.36,124.71 295.48,124.71 295.60,124.71 295.72,124.71 295.84,124.71 295.96,124.71 296.08,124.71 296.20,124.71 296.32,124.71 296.44,124.71 296.56,124.71 296.68,124.71 296.80,124.71 296.92,121.55 297.04,117.87 297.16,114.31 297.28,110.80 297.40,107.35 297.52,103.93 297.64,100.54 297.76,97.17 297.88,93.83 298.00,90.50 298.12,87.19 298.24,83.90 298.36,80.62 298.48,77.36 298.60,74.10 298.72,70.86 298.84,67.62 298.96,64.40 299.08,61.19 299.20,57.98 299.32,54.78 299.44,51.59 299.56,48.41 299.68,45.23 299.80,42.06 299.92,38.90 300.04,38.27 300.16,41.43 300.28,44.60 300.40,47.77 300.52,50.96 300.64,54.14 300.76,57.34 300.88,60.54 301.00,63.76 301.12,66.98 301.24,70.21 301.35,73.45 301.47,76.70 301.59,79.97 301.71,83.24 301.83,86.53 301.95,89.84 302.07,93.16 302.19,96.50 302.31,99.86 302.43,103.25 302.55,106.66 302.67,110.11 302.79,113.60 302.91,117.15 303.03,120.80 303.15,124.71 303.27,124.71 303.39,124.71 303.51,124.71 303.63,124.71 303.75,124.71 303.87,124.71 303.99,124.71 304.11,124.71 304.23,124.71 304.35,124.71 304.47,124.71 304.59,124.71 304.71,124.71 304.83,124.71 304.95,124.71 305.07,124.71 305.19,124.71 305.31,124.71 305.43,124.71 305.55,124.71 305.67,124.71 305.79,124.71 305.91,124.71 306.03,124.71 306.15,124.71 306.27,124.71 306.39,124.71 306.51,124.71 306.63,124.71 306.75,124.71 306.87,124.71 306.99,124.71 307.11,124.71 307.23,124.71 307.35,124.71 307.47,124.71 307.59,124.71 307.71,124.71 307.83,124.71 307.95,124.71 308.07,124.71 308.19,124.71 308.31,124.71 308.43,121.59 308.55,117.97 308.67,114.45 308.79,110.99 308.91,107.58 309.03,104.21 309.15,100.86 309.27,97.54 309.39,94.24 309.51,90.96 309.63,87.70 309.75,84.45 309.86,81.21 309.98,77.99 310.10,74.78 310.22,71.58 310.34,68.39 310.46,65.21 310.58,62.04 310.70,58.87 310.82,55.72 310.94,52.57 311.06,49.43 311.18,46.30 311.30,43.17 311.42,40.05 311.54,39.43 311.66,42.55 311.78,45.67 311.90,48.80 312.02,51.94 312.14,55.09 312.26,58.24 312.38,61.40 312.50,64.57 312.62,67.75 312.74,70.94 312.86,74.14 312.98,77.35 313.10,80.57 313.22,83.80 313.34,87.04 313.46,90.31 313.58,93.58 313.70,96.88 313.82,100.19 313.94,103.53 314.06,106.90 314.18,110.30 314.30,113.75 314.42,117.26 314.54,120.85 314.66,124.71 314.78,124.71 314.90,124.71 315.02,124.71 315.14,124.71 315.26,124.71 315.38,124.71 315.50,124.71 315.62,124.71 315.74,124.71 315.86,124.71 315.98,124.71 316.10,124.71 316.22,124.71 316.34,124.71 316.46,124.71 316.58,124.71 316.70,124.71 316.82,124.71 316.94,124.71 317.06,124.71 317.18,124.71 317.30,124.71 317.42,124.71 317.54,124.71 317.66,124.71 317.78,124.71 317.90,124.71 318.02,124.71 318.14,124.71 318.26,124.71 318.37,124.71 318.49,124.71 318.61,124.71 318.73,124.71 318.85,124.71 318.97,124.71 319.09,124.71 319.21,124.71 319.33,124.71 319.45,124.71 319.57,124.71 319.69,124.71 319.81,124.71 319.93,121.17 320.05,117.05 320.17,113.05 320.29,109.13 320.41,105.26 320.53,101.42 320.65,97.63 320.77,93.86 320.89,90.11 321.01,86.38 321.13,82.68 321.25,78.99 321.37,75.31 321.49,71.65 321.61,68.01 321.73,64.37 321.85,60.75 321.97,57.14 322.09,53.54 322.21,49.95 322.33,46.36 322.45,42.79 322.57,39.22 322.69,35.66 322.81,32.11 322.93,28.57 323.05,27.86 323.17,31.40 323.29,34.95 323.41,38.51 323.53,42.07 323.65,45.65 323.77,49.23 323.89,52.82 324.01,56.42 324.13,60.03 324.25,63.65 324.37,67.28 324.49,70.92 324.61,74.58 324.73,78.25 324.85,81.94 324.97,85.64 325.09,89.36 325.21,93.10 325.33,96.87 325.45,100.66 325.57,104.49 325.69,108.35 325.81,112.26 325.93,116.24 326.05,120.33 326.17,124.71 326.29,124.71 326.41,124.71 326.53,124.71 326.65,124.71 326.77,124.71 326.89,124.71 327.00,124.71 327.12,124.71 327.24,124.71 327.36,124.71 327.48,124.71 327.60,124.71 327.72,124.71 327.84,124.71 327.96,124.71 328.08,124.71 328.20,124.71 328.32,124.71 328.44,124.71 328.56,124.71 328.68,124.71 328.80,124.71 328.92,124.71 329.04,124.71 329.16,124.71 329.28,124.71 329.40,124.71 329.52,124.71 329.64,124.71 329.76,124.71 329.88,124.71 330.00,124.71 330.12,124.71 330.24,124.71 330.36,124.71 330.48,124.71 330.60,124.71 330.72,124.71 330.84,124.71 330.96,124.71 331.08,124.71 331.20,124.71 331.32,124.71 331.44,122.28 331.56,119.45 331.68,116.71 331.80,114.01 331.92,111.36 332.04,108.72 332.16,106.12 332.28,103.53 332.40,100.95 332.52,98.40 332.64,95.85 332.76,93.32 332.88,90.80 333.00,88.28 333.12,85.78 333.24,83.29 333.36,80.80 333.48,78.32 333.60,75.85 333.72,73.38 333.84,70.92 333.96,68.47 334.08,66.02 334.20,63.57 334.32,61.14 334.44,58.70 334.56,58.22 334.68,60.65 334.80,63.09 334.92,65.53 335.04,67.98 335.16,70.43 335.28,72.89 335.40,75.35 335.51,77.82 335.63,80.30 335.75,82.79 335.87,85.28 335.99,87.78 336.11,90.29 336.23,92.81 336.35,95.34 336.47,97.89 336.59,100.44 336.71,103.01 336.83,105.60 336.95,108.20 337.07,110.83 337.19,113.48 337.31,116.17 337.43,118.90 337.55,121.70 337.67,124.71 337.79,124.71 337.91,124.71 338.03,124.71 338.15,124.71 338.27,124.71 338.39,124.71 338.51,124.71 338.63,124.71 338.75,124.71 338.87,124.71 338.99,124.71 339.11,124.71 339.23,124.71 339.35,124.71 339.47,124.71 339.59,124.71 339.71,124.71 339.83,124.71 339.95,124.71 340.07,124.71 340.19,124.71 340.31,124.71 340.43,124.71 340.55,124.71 340.67,124.71 340.79,124.71 340.91,124.71 341.03,124.71 341.15,124.71 341.27,124.71 341.39,124.71 341.51,124.71 341.63,124.71 341.75,124.71 341.87,124.71 341.99,124.71 342.11,124.71 342.23,124.71 342.35,124.71 342.47,124.71 342.59,124.71 342.71,124.71 342.83,124.71 342.95,120.53 343.07,115.68 343.19,110.97 343.31,106.34 343.43,101.77 343.55,97.25 343.67,92.77 343.79,88.33 343.91,83.91 344.02,79.52 344.14,75.15 344.26,70.80 344.38,66.46 344.50,62.15 344.62,57.85 344.74,53.57 344.86,49.29 344.98,45.04 345.10,40.79 345.22,36.55 345.34,32.33 345.46,28.12 345.58,23.91 345.70,19.71 345.82,15.53 345.94,11.35 346.06,10.52 346.18,14.69 346.30,18.88 346.42,23.07 346.54,27.27 346.66,31.49 346.78,35.71 346.90,39.94 347.02,44.19 347.14,48.44 347.26,52.71 347.38,56.99 347.50,61.29 347.62,65.60 347.74,69.93 347.86,74.28 347.98,78.64 348.10,83.03 348.22,87.44 348.34,91.88 348.46,96.36 348.58,100.87 348.70,105.42 348.82,110.03 348.94,114.73 349.06,119.54 349.18,124.71 349.30,124.71 349.42,124.71 349.54,124.71 349.66,124.71 349.78,124.71 349.90,124.71 350.02,124.71 350.14,124.71 350.26,124.71 350.38,124.71 350.50,124.71 350.62,124.71 350.74,124.71 350.86,124.71 350.98,124.71 351.10,124.71 351.22,124.71 351.34,124.71 351.46,124.71 351.58,124.71" fill="none" stroke="#ff0a0a" stroke-width="0.85" stroke-linejoin="round" />
<polyline points="40.90,123.90 41.02,123.88 41.14,123.86 41.26,123.84 41.38,123.82 41.50,123.82 41.62,123.81 41.74,123.81 41.86,123.80 41.98,123.97 42.10,124.14 42.22,124.30 42.34,124.47 42.46,124.42 42.58,124.37 42.70,124.32 42.82,124.27 42.94,124.21 43.06,124.16 43.18,124.10 43.30,124.05 43.42,123.99 43.54,123.92 43.66,123.86 43.78,123.80 43.90,123.95 44.02,124.11 44.14,124.26 44.26,124.42 44.38,124.37 44.50,124.32 44.62,124.27 44.74,124.22 44.86,124.09 44.98,123.96 45.10,123.82 45.21,123.66 45.33,123.74 45.45,123.80 45.57,123.86 45.69,123.91 45.81,123.76 45.93,123.61 46.05,123.46 46.17,123.31 46.29,123.23 46.41,123.17 46.53,123.12 46.65,123.09 46.77,123.01 46.89,122.96 47.01,122.92 47.13,122.91 47.25,122.93 47.37,122.97 47.49,123.02 47.61,123.07 47.73,123.31 47.85,123.55 47.97,123.78 48.09,124.00 48.21,123.97 48.33,123.93 48.45,123.88 48.57,123.82 48.69,123.86 48.81,123.88 48.93,123.90 49.05,123.92 49.17,123.91 49.29,123.90 49.41,123.89 49.53,123.87 49.65,123.93 49.77,123.98 49.89,124.03 50.01,124.09 50.13,124.02 50.25,123.95 50.37,123.88 50.49,123.82 50.61,123.92 50.73,124.02 50.85,124.12 50.97,124.23 51.09,124.22 51.21,124.21 51.33,124.20 51.45,124.19 51.57,124.22 51.69,124.26 51.81,124.29 51.93,124.33 52.05,124.22 52.17,124.12 52.29,124.02 52.41,123.92 52.53,123.98 52.65,124.03 52.77,124.09 52.89,124.14 53.01,124.18 53.13,124.22 53.25,124.26 53.37,124.30 53.49,124.31 53.61,124.33 53.72,124.35 53.84,124.37 53.96,124.27 54.08,124.17 54.20,124.07 54.32,123.96 54.44,123.99 54.56,124.01 54.68,124.03 54.80,124.05 54.92,124.03 55.04,124.01 55.16,123.99 55.28,123.97 55.40,124.03 55.52,124.09 55.64,124.15 55.76,124.21 55.88,124.19 56.00,124.17 56.12,124.15 56.24,124.14 56.36,124.20 56.48,124.26 56.60,124.32 56.72,124.38 56.84,124.28 56.96,124.18 57.08,124.07 57.20,123.97 57.32,124.10 57.44,124.22 57.56,124.35 57.68,124.48 57.80,124.40 57.92,124.31 58.04,124.23 58.16,124.15 58.28,124.10 58.40,124.04 58.52,123.99 58.64,123.94 58.76,123.95 58.88,123.97 59.00,123.98 59.12,124.00 59.24,124.10 59.36,124.21 59.48,124.32 59.60,124.42 59.72,124.40 59.84,124.37 59.96,124.35 60.08,124.32 60.20,124.21 60.32,124.10 60.44,123.99 60.56,123.87 60.68,123.91 60.80,123.95 60.92,123.99 61.04,124.02 61.16,123.98 61.28,123.94 61.40,123.89 61.52,123.85 61.64,123.85 61.76,123.85 61.88,123.85 62.00,123.85 62.12,123.93 62.24,124.01 62.35,124.09 62.47,124.16 62.59,124.08 62.71,124.00 62.83,123.92 62.95,123.84 63.07,123.87 63.19,123.90 63.31,123.93 63.43,123.96 63.55,124.03 63.67,124.10 63.79,124.18 63.91,124.25 64.03,124.24 64.15,124.24 64.27,124.23 64.39,124.22 64.51,124.28 64.63,124.33 64.75,124.39 64.87,124.44 64.99,124.38 65.11,124.32 65.23,124.26 65.35,124.20 65.47,124.10 65.59,124.00 65.71,123.89 65.83,123.79 65.95,123.95 66.07,124.10 66.19,124.26 66.31,124.42 66.43,124.33 66.55,124.25 66.67,124.16 66.79,124.08 66.91,124.16 67.03,124.24 67.15,124.33 67.27,124.41 67.39,124.42 67.51,124.42 67.63,124.43 67.75,124.43 67.87,124.33 67.99,124.23 68.11,124.12 68.23,124.02 68.35,124.09 68.47,124.17 68.59,124.24 68.71,124.32 68.83,124.35 68.95,124.39 69.07,124.42 69.19,124.46 69.31,124.44 69.43,124.42 69.55,124.40 69.67,124.38 69.79,124.29 69.91,124.20 70.03,124.11 70.15,124.02 70.27,124.03 70.39,124.04 70.51,124.05 70.63,124.06 70.75,124.17 70.86,124.27 70.98,124.38 71.10,124.48 71.22,124.44 71.34,124.40 71.46,124.36 71.58,124.32 71.70,124.19 71.82,124.05 71.94,123.92 72.06,123.78 72.18,123.92 72.30,124.06 72.42,124.19 72.54,124.33 72.66,124.27 72.78,124.21 72.90,124.14 73.02,124.08 73.14,124.11 73.26,124.13 73.38,124.16 73.50,124.19 73.62,124.12 73.74,124.05 73.86,123.99 73.98,123.92 74.10,123.95 74.22,123.99 74.34,124.02 74.46,124.05 74.58,124.02 74.70,123.98 74.82,123.95 74.94,123.91 75.06,123.96 75.18,124.01 75.30,124.05 75.42,124.10 75.54,124.16 75.66,124.23 75.78,124.29 75.90,124.36 76.02,124.36 76.14,124.36 76.26,124.36 76.38,124.36 76.50,124.38 76.62,124.40 76.74,124.42 76.86,124.44 76.98,124.30 77.10,124.16 77.22,124.02 77.34,123.89 77.46,124.02 77.58,124.15 77.70,124.28 77.82,124.41 77.94,124.43 78.06,124.44 78.18,124.46 78.30,124.48 78.42,124.30 78.54,124.13 78.66,123.96 78.78,123.78 78.90,123.93 79.02,124.07 79.14,124.21 79.26,124.35 79.37,124.22 79.49,124.09 79.61,123.97 79.73,123.84 79.85,123.99 79.97,124.13 80.09,124.28 80.21,124.43 80.33,124.36 80.45,124.29 80.57,124.22 80.69,124.15 80.81,124.20 80.93,124.24 81.05,124.29 81.17,124.33 81.29,124.22 81.41,124.11 81.53,124.00 81.65,123.89 81.77,123.92 81.89,123.96 82.01,124.00 82.13,124.04 82.25,124.04 82.37,124.03 82.49,124.03 82.61,124.02 82.73,124.00 82.85,123.98 82.97,123.96 83.09,123.93 83.21,123.91 83.33,123.89 83.45,123.87 83.57,123.85 83.69,123.95 83.81,124.05 83.93,124.14 84.05,124.24 84.17,124.19 84.29,124.15 84.41,124.10 84.53,124.05 84.65,124.08 84.77,124.11 84.89,124.14 85.01,124.17 85.13,124.23 85.25,124.29 85.37,124.35 85.49,124.41 85.61,124.28 85.73,124.15 85.85,124.01 85.97,123.88 86.09,123.92 86.21,123.97 86.33,124.01 86.45,124.06 86.57,124.02 86.69,123.98 86.81,123.94 86.93,123.90 87.05,124.01 87.17,124.12 87.29,124.23 87.41,124.34 87.53,124.28 87.65,124.22 87.77,124.16 87.88,124.10 88.00,124.11 88.12,124.13 88.24,124.14 88.36,124.15 88.48,124.10 88.60,124.06 88.72,124.01 88.84,123.96 88.96,124.08 89.08,124.20 89.20,124.32 89.32,124.44 89.44,124.39 89.56,124.34 89.68,124.29 89.80,124.24 89.92,124.21 90.04,124.18 90.16,124.15 90.28,124.12 90.40,124.19 90.52,124.26 90.64,124.32 90.76,124.38 90.88,124.27 91.00,124.15 91.12,124.02 91.24,123.88 91.36,123.79 91.48,123.69 91.60,123.57 91.72,123.45 91.84,123.41 91.96,123.37 92.08,123.33 92.20,123.29 92.32,123.16 92.44,123.04 92.56,122.94 92.68,122.86 92.80,122.85 92.92,122.87 93.04,122.91 93.16,122.96 93.28,123.11 93.40,123.26 93.52,123.43 93.64,123.60 93.76,123.67 93.88,123.75 94.00,123.81 94.12,123.87 94.24,123.83 94.36,123.77 94.48,123.71 94.60,123.63 94.72,123.79 94.84,123.94 94.96,124.08 95.08,124.21 95.20,124.21 95.32,124.20 95.44,124.18 95.56,124.17 95.68,124.24 95.80,124.30 95.92,124.37 96.04,124.43 96.16,124.41 96.28,124.38 96.39,124.36 96.51,124.33 96.63,124.34 96.75,124.35 96.87,124.36 96.99,124.37 97.11,124.23 97.23,124.09 97.35,123.95 97.47,123.81 97.59,123.85 97.71,123.89 97.83,123.92 97.95,123.96 98.07,123.93 98.19,123.91 98.31,123.88 98.43,123.85 98.55,123.83 98.67,123.81 98.79,123.79 98.91,123.77 99.03,123.84 99.15,123.91 99.27,123.98 99.39,124.04 99.51,123.99 99.63,123.93 99.75,123.87 99.87,123.81 99.99,123.88 100.11,123.96 100.23,124.03 100.35,124.10 100.47,124.12 100.59,124.14 100.71,124.16 100.83,124.19 100.95,124.09 101.07,123.99 101.19,123.90 101.31,123.80 101.43,123.81 101.55,123.81 101.67,123.82 101.79,123.83 101.91,123.82 102.03,123.81 102.15,123.81 102.27,123.80 102.39,123.88 102.51,123.97 102.63,124.05 102.75,124.14 102.87,124.09 102.99,124.03 103.11,123.98 103.23,123.93 103.35,123.99 103.47,124.06 103.59,124.13 103.71,124.19 103.83,124.09 103.95,123.98 104.07,123.87 104.19,123.76 104.31,123.78 104.43,123.79 104.55,123.80 104.67,123.82 104.79,123.93 104.91,124.05 105.02,124.16 105.14,124.28 105.26,124.16 105.38,124.04 105.50,123.93 105.62,123.81 105.74,123.95 105.86,124.08 105.98,124.22 106.10,124.36 106.22,124.37 106.34,124.39 106.46,124.41 106.58,124.42 106.70,124.31 106.82,124.19 106.94,124.08 107.06,123.96 107.18,124.04 107.30,124.12 107.42,124.20 107.54,124.28 107.66,124.24 107.78,124.19 107.90,124.15 108.02,124.11 108.14,124.09 108.26,124.07 108.38,124.05 108.50,124.02 108.62,124.13 108.74,124.24 108.86,124.35 108.98,124.46 109.10,124.33 109.22,124.21 109.34,124.08 109.46,123.95 109.58,124.03 109.70,124.12 109.82,124.20 109.94,124.29 110.06,124.26 110.18,124.23 110.30,124.20 110.42,124.18 110.54,124.19 110.66,124.21 110.78,124.22 110.90,124.24 111.02,124.17 111.14,124.09 111.26,124.02 111.38,123.95 111.50,123.95 111.62,123.95 111.74,123.95 111.86,123.95 111.98,124.03 112.10,124.11 112.22,124.20 112.34,124.28 112.46,124.32 112.58,124.35 112.70,124.38 112.82,124.42 112.94,124.38 113.06,124.35 113.18,124.31 113.30,124.27 113.42,124.25 113.53,124.23 113.65,124.21 113.77,124.19 113.89,124.25 114.01,124.31 114.13,124.38 114.25,124.44 114.37,124.42 114.49,124.41 114.61,124.39 114.73,124.38 114.85,124.27 114.97,124.16 115.09,124.05 115.21,123.93 115.33,123.95 115.45,123.96 115.57,123.97 115.69,123.98 115.81,123.93 115.93,123.88 116.05,123.83 116.17,123.78 116.29,123.78 116.41,123.78 116.53,123.78 116.65,123.77 116.77,123.79 116.89,123.81 117.01,123.83 117.13,123.85 117.25,123.94 117.37,124.04 117.49,124.13 117.61,124.22 117.73,124.26 117.85,124.30 117.97,124.34 118.09,124.38 118.21,124.35 118.33,124.32 118.45,124.29 118.57,124.26 118.69,124.24 118.81,124.21 118.93,124.18 119.05,124.15 119.17,124.14 119.29,124.13 119.41,124.12 119.53,124.11 119.65,124.10 119.77,124.10 119.89,124.10 120.01,124.10 120.13,124.13 120.25,124.16 120.37,124.20 120.49,124.23 120.61,124.14 120.73,124.05 120.85,123.96 120.97,123.87 121.09,123.97 121.21,124.08 121.33,124.18 121.45,124.28 121.57,124.25 121.69,124.22 121.81,124.19 121.93,124.15 122.04,124.08 122.16,124.00 122.28,123.92 122.40,123.84 122.52,123.86 122.64,123.87 122.76,123.89 122.88,123.90 123.00,123.99 123.12,124.09 123.24,124.18 123.36,124.28 123.48,124.29 123.60,124.30 123.72,124.31 123.84,124.32 123.96,124.21 124.08,124.11 124.20,124.01 124.32,123.90 124.44,124.05 124.56,124.19 124.68,124.34 124.80,124.49 124.92,124.46 125.04,124.44 125.16,124.42 125.28,124.40 125.40,124.32 125.52,124.25 125.64,124.18 125.76,124.10 125.88,124.10 126.00,124.10 126.12,124.10 126.24,124.10 126.36,124.17 126.48,124.24 126.60,124.30 126.72,124.37 126.84,124.39 126.96,124.41 127.08,124.44 127.20,124.46 127.32,124.43 127.44,124.40 127.56,124.37 127.68,124.34 127.80,124.24 127.92,124.14 128.04,124.03 128.16,123.93 128.28,123.98 128.40,124.04 128.52,124.10 128.64,124.15 128.76,124.06 128.88,123.96 129.00,123.87 129.12,123.78 129.24,123.81 129.36,123.85 129.48,123.88 129.60,123.92 129.72,123.88 129.84,123.85 129.96,123.81 130.08,123.78 130.20,123.95 130.32,124.12 130.44,124.29 130.55,124.47 130.67,124.44 130.79,124.41 130.91,124.39 131.03,124.36 131.15,124.39 131.27,124.42 131.39,124.45 131.51,124.48 131.63,124.41 131.75,124.33 131.87,124.25 131.99,124.18 132.11,124.19 132.23,124.21 132.35,124.23 132.47,124.25 132.59,124.30 132.71,124.35 132.83,124.40 132.95,124.46 133.07,124.37 133.19,124.27 133.31,124.18 133.43,124.09 133.55,124.18 133.67,124.26 133.79,124.34 133.91,124.42 134.03,124.38 134.15,124.34 134.27,124.30 134.39,124.26 134.51,124.28 134.63,124.29 134.75,124.30 134.87,124.31 134.99,124.21 135.11,124.11 135.23,124.01 135.35,123.91 135.47,123.98 135.59,124.05 135.71,124.12 135.83,124.19 135.95,124.22 136.07,124.24 136.19,124.27 136.31,124.30 136.43,124.34 136.55,124.38 136.67,124.42 136.79,124.46 136.91,124.39 137.03,124.32 137.15,124.25 137.27,124.18 137.39,124.14 137.51,124.11 137.63,124.07 137.75,124.03 137.87,124.02 137.99,124.02 138.11,124.01 138.23,124.00 138.35,123.95 138.47,123.91 138.59,123.87 138.71,123.82 138.83,123.84 138.95,123.86 139.07,123.88 139.18,123.90 139.30,124.00 139.42,124.11 139.54,124.21 139.66,124.31 139.78,124.33 139.90,124.35 140.02,124.37 140.14,124.39 140.26,124.28 140.38,124.17 140.50,124.05 140.62,123.94 140.74,123.93 140.86,123.93 140.98,123.92 141.10,123.91 141.22,123.97 141.34,124.02 141.46,124.07 141.58,124.12 141.70,124.06 141.82,124.00 141.94,123.94 142.06,123.88 142.18,123.94 142.30,123.99 142.42,124.04 142.54,124.09 142.66,124.14 142.78,124.19 142.90,124.24 143.02,124.29 143.14,124.31 143.26,124.33 143.38,124.35 143.50,124.37 143.62,124.40 143.74,124.43 143.86,124.45 143.98,124.48 144.10,124.37 144.22,124.25 144.34,124.14 144.46,124.02 144.58,123.98 144.70,123.93 144.82,123.88 144.94,123.84 145.06,123.83 145.18,123.83 145.30,123.83 145.42,123.83 145.54,123.91 145.66,123.99 145.78,124.07 145.90,124.15 146.02,124.11 146.14,124.08 146.26,124.04 146.38,124.01 146.50,123.96 146.62,123.91 146.74,123.86 146.86,123.81 146.98,123.83 147.10,123.85 147.22,123.87 147.34,123.88 147.46,123.92 147.58,123.94 147.69,123.96 147.81,123.98 147.93,123.97 148.05,123.95 148.17,123.91 148.29,123.85 148.41,123.69 148.53,123.50 148.65,123.25 148.77,122.96 148.89,122.69 149.01,122.36 149.13,121.97 149.25,121.54 149.37,121.00 149.49,120.43 149.61,119.87 149.73,119.32 149.85,118.73 149.97,118.22 150.09,117.80 150.21,117.49 150.33,117.34 150.45,117.32 150.57,117.43 150.69,117.66 150.81,118.13 150.93,118.69 151.05,119.30 151.17,119.94 151.29,120.53 151.41,121.10 151.53,121.64 151.65,122.14 151.77,122.56 151.89,122.93 152.01,123.24 152.13,123.50 152.25,123.67 152.37,123.81 152.49,123.90 152.61,123.97 152.73,123.97 152.85,123.94 152.97,123.91 153.09,123.87 153.21,123.95 153.33,124.02 153.45,124.09 153.57,124.16 153.69,124.07 153.81,123.97 153.93,123.88 154.05,123.79 154.17,123.94 154.29,124.08 154.41,124.23 154.53,124.38 154.65,124.35 154.77,124.32 154.89,124.29 155.01,124.26 155.13,124.22 155.25,124.19 155.37,124.15 155.49,124.11 155.61,124.13 155.73,124.15 155.85,124.17 155.97,124.19 156.09,124.11 156.20,124.03 156.32,123.95 156.44,123.87 156.56,123.87 156.68,123.88 156.80,123.88 156.92,123.89 157.04,123.87 157.16,123.85 157.28,123.83 157.40,123.81 157.52,123.87 157.64,123.93 157.76,123.99 157.88,124.04 158.00,124.15 158.12,124.26 158.24,124.36 158.36,124.47 158.48,124.37 158.60,124.27 158.72,124.17 158.84,124.07 158.96,124.08 159.08,124.08 159.20,124.09 159.32,124.09 159.44,124.10 159.56,124.11 159.68,124.12 159.80,124.14 159.92,124.17 160.04,124.21 160.16,124.25 160.28,124.29 160.40,124.21 160.52,124.13 160.64,124.05 160.76,123.97 160.88,123.94 161.00,123.90 161.12,123.86 161.24,123.82 161.36,123.97 161.48,124.12 161.60,124.27 161.72,124.42 161.84,124.31 161.96,124.21 162.08,124.11 162.20,124.00 162.32,124.06 162.44,124.11 162.56,124.17 162.68,124.22 162.80,124.19 162.92,124.17 163.04,124.14 163.16,124.12 163.28,124.05 163.40,123.98 163.52,123.91 163.64,123.84 163.76,123.82 163.88,123.81 164.00,123.80 164.12,123.79 164.24,123.85 164.36,123.91 164.48,123.96 164.60,124.02 164.71,124.10 164.83,124.19 164.95,124.27 165.07,124.35 165.19,124.22 165.31,124.08 165.43,123.95 165.55,123.82 165.67,123.95 165.79,124.09 165.91,124.22 166.03,124.36 166.15,124.32 166.27,124.29 166.39,124.25 166.51,124.21 166.63,124.13 166.75,124.05 166.87,123.97 166.99,123.89 167.11,123.98 167.23,124.07 167.35,124.17 167.47,124.26 167.59,124.27 167.71,124.28 167.83,124.29 167.95,124.29 168.07,124.17 168.19,124.05 168.31,123.92 168.43,123.80 168.55,123.80 168.67,123.80 168.79,123.80 168.91,123.80 169.03,123.92 169.15,124.03 169.27,124.15 169.39,124.26 169.51,124.25 169.63,124.23 169.75,124.22 169.87,124.21 169.99,124.23 170.11,124.25 170.23,124.27 170.35,124.29 170.47,124.31 170.59,124.34 170.71,124.37 170.83,124.40 170.95,124.38 171.07,124.35 171.19,124.33 171.31,124.31 171.43,124.18 171.55,124.04 171.67,123.91 171.79,123.77 171.91,123.94 172.03,124.10 172.15,124.27 172.27,124.44 172.39,124.41 172.51,124.38 172.63,124.35 172.75,124.32 172.87,124.33 172.99,124.34 173.11,124.34 173.23,124.35 173.34,124.37 173.46,124.39 173.58,124.41 173.70,124.44 173.82,124.35 173.94,124.27 174.06,124.19 174.18,124.11 174.30,124.07 174.42,124.03 174.54,123.99 174.66,123.95 174.78,123.93 174.90,123.91 175.02,123.90 175.14,123.88 175.26,123.92 175.38,123.95 175.50,123.99 175.62,124.03 175.74,124.00 175.86,123.96 175.98,123.93 176.10,123.89 176.22,124.04 176.34,124.19 176.46,124.34 176.58,124.49 176.70,124.44 176.82,124.39 176.94,124.34 177.06,124.29 177.18,124.16 177.30,124.04 177.42,123.91 177.54,123.79 177.66,123.95 177.78,124.12 177.90,124.28 178.02,124.44 178.14,124.41 178.26,124.37 178.38,124.33 178.50,124.30 178.62,124.26 178.74,124.22 178.86,124.18 178.98,124.14 179.10,124.18 179.22,124.22 179.34,124.26 179.46,124.30 179.58,124.25 179.70,124.19 179.82,124.14 179.94,124.09 180.06,124.18 180.18,124.28 180.30,124.37 180.42,124.46 180.54,124.42 180.66,124.39 180.78,124.35 180.90,124.32 181.02,124.19 181.14,124.06 181.26,123.92 181.38,123.79 181.50,123.94 181.62,124.09 181.74,124.24 181.85,124.39 181.97,124.25 182.09,124.11 182.21,123.97 182.33,123.83 182.45,123.96 182.57,124.10 182.69,124.23 182.81,124.36 182.93,124.21 183.05,124.06 183.17,123.91 183.29,123.77 183.41,123.82 183.53,123.88 183.65,123.94 183.77,124.00 183.89,124.00 184.01,124.01 184.13,124.01 184.25,124.02 184.37,124.11 184.49,124.20 184.61,124.30 184.73,124.39 184.85,124.41 184.97,124.42 185.09,124.44 185.21,124.45 185.33,124.32 185.45,124.19 185.57,124.07 185.69,123.94 185.81,124.04 185.93,124.15 186.05,124.26 186.17,124.36 186.29,124.36 186.41,124.36 186.53,124.36 186.65,124.35 186.77,124.24 186.89,124.12 187.01,124.01 187.13,123.89 187.25,123.88 187.37,123.87 187.49,123.86 187.61,123.85 187.73,124.00 187.85,124.15 187.97,124.31 188.09,124.46 188.21,124.29 188.33,124.12 188.45,123.96 188.57,123.79 188.69,123.87 188.81,123.94 188.93,124.02 189.05,124.10 189.17,124.13 189.29,124.16 189.41,124.18 189.53,124.21 189.65,124.26 189.77,124.31 189.89,124.36 190.01,124.41 190.13,124.36 190.25,124.31 190.36,124.26 190.48,124.21 190.60,124.10 190.72,123.99 190.84,123.88 190.96,123.77 191.08,123.90 191.20,124.03 191.32,124.16 191.44,124.29 191.56,124.31 191.68,124.34 191.80,124.37 191.92,124.40 192.04,124.39 192.16,124.39 192.28,124.39 192.40,124.39 192.52,124.39 192.64,124.39 192.76,124.40 192.88,124.40 193.00,124.36 193.12,124.32 193.24,124.28 193.36,124.23 193.48,124.13 193.60,124.03 193.72,123.93 193.84,123.82 193.96,123.98 194.08,124.13 194.20,124.28 194.32,124.44 194.44,124.42 194.56,124.39 194.68,124.37 194.80,124.35 194.92,124.22 195.04,124.08 195.16,123.94 195.28,123.80 195.40,123.79 195.52,123.78 195.64,123.77 195.76,123.76 195.88,123.77 196.00,123.77 196.12,123.77 196.24,123.77 196.36,123.91 196.48,124.04 196.60,124.18 196.72,124.31 196.84,124.29 196.96,124.27 197.08,124.25 197.20,124.23 197.32,124.12 197.44,124.01 197.56,123.91 197.68,123.80 197.80,123.88 197.92,123.97 198.04,124.05 198.16,124.14 198.28,124.10 198.40,124.06 198.52,124.02 198.64,123.98 198.76,124.05 198.87,124.12 198.99,124.19 199.11,124.26 199.23,124.32 199.35,124.37 199.47,124.42 199.59,124.48 199.71,124.42 199.83,124.36 199.95,124.30 200.07,124.24 200.19,124.17 200.31,124.09 200.43,124.02 200.55,123.94 200.67,123.94 200.79,123.93 200.91,123.93 201.03,123.92 201.15,123.96 201.27,124.00 201.39,124.04 201.51,124.08 201.63,124.10 201.75,124.11 201.87,124.13 201.99,124.15 202.11,124.14 202.23,124.13 202.35,124.11 202.47,124.10 202.59,124.12 202.71,124.13 202.83,124.15 202.95,124.17 203.07,124.15 203.19,124.14 203.31,124.12 203.43,124.10 203.55,124.05 203.67,123.99 203.79,123.94 203.91,123.88 204.03,124.00 204.15,124.11 204.27,124.23 204.39,124.35 204.51,124.27 204.63,124.20 204.75,124.13 204.87,124.06 204.99,124.00 205.11,123.93 205.23,123.87 205.35,123.81 205.47,123.82 205.59,123.84 205.71,123.86 205.83,123.87 205.95,123.99 206.07,124.12 206.19,124.24 206.31,124.36 206.43,124.22 206.55,124.07 206.67,123.93 206.79,123.79 206.91,123.81 207.03,123.83 207.15,123.85 207.27,123.88 207.38,124.00 207.50,124.12 207.62,124.25 207.74,124.37 207.86,124.35 207.98,124.33 208.10,124.32 208.22,124.30 208.34,124.31 208.46,124.32 208.58,124.33 208.70,124.34 208.82,124.37 208.94,124.40 209.06,124.43 209.18,124.45 209.30,124.28 209.42,124.12 209.54,123.95 209.66,123.78 209.78,123.88 209.90,123.98 210.02,124.09 210.14,124.19 210.26,124.11 210.38,124.02 210.50,123.94 210.62,123.85 210.74,123.99 210.86,124.13 210.98,124.27 211.10,124.41 211.22,124.43 211.34,124.45 211.46,124.46 211.58,124.48 211.70,124.33 211.82,124.17 211.94,124.01 212.06,123.86 212.18,123.87 212.30,123.88 212.42,123.90 212.54,123.91 212.66,123.87 212.78,123.84 212.90,123.80 213.02,123.77 213.14,123.82 213.26,123.88 213.38,123.93 213.50,123.99 213.62,124.02 213.74,124.05 213.86,124.08 213.98,124.11 214.10,124.06 214.22,124.02 214.34,123.98 214.46,123.93 214.58,124.06 214.70,124.18 214.82,124.30 214.94,124.43 215.06,124.34 215.18,124.26 215.30,124.18 215.42,124.10 215.54,124.12 215.66,124.13 215.78,124.15 215.90,124.17 216.01,124.22 216.13,124.28 216.25,124.33 216.37,124.39 216.49,124.30 216.61,124.22 216.73,124.14 216.85,124.05 216.97,124.10 217.09,124.15 217.21,124.21 217.33,124.26 217.45,124.22 217.57,124.19 217.69,124.16 217.81,124.12 217.93,124.15 218.05,124.17 218.17,124.20 218.29,124.22 218.41,124.23 218.53,124.24 218.65,124.25 218.77,124.26 218.89,124.25 219.01,124.25 219.13,124.24 219.25,124.23 219.37,124.19 219.49,124.14 219.61,124.10 219.73,124.05 219.85,123.98 219.97,123.91 220.09,123.84 220.21,123.77 220.33,123.78 220.45,123.79 220.57,123.80 220.69,123.81 220.81,123.82 220.93,123.83 221.05,123.85 221.17,123.86 221.29,123.87 221.41,123.87 221.53,123.88 221.65,123.88 221.77,123.98 221.89,124.08 222.01,124.18 222.13,124.28 222.25,124.16 222.37,124.03 222.49,123.90 222.61,123.78 222.73,123.91 222.85,124.04 222.97,124.17 223.09,124.30 223.21,124.32 223.33,124.35 223.45,124.38 223.57,124.40 223.69,124.33 223.81,124.26 223.93,124.20 224.05,124.13 224.17,124.08 224.29,124.04 224.41,124.00 224.52,123.96 224.64,124.03 224.76,124.10 224.88,124.17 225.00,124.24 225.12,124.19 225.24,124.13 225.36,124.08 225.48,124.02 225.60,124.09 225.72,124.15 225.84,124.22 225.96,124.29 226.08,124.16 226.20,124.04 226.32,123.91 226.44,123.78 226.56,123.88 226.68,123.97 226.80,124.07 226.92,124.16 227.04,124.16 227.16,124.15 227.28,124.15 227.40,124.14 227.52,124.13 227.64,124.12 227.76,124.11 227.88,124.10 228.00,124.04 228.12,123.98 228.24,123.91 228.36,123.85 228.48,123.83 228.60,123.81 228.72,123.79 228.84,123.77 228.96,123.85 229.08,123.94 229.20,124.02 229.32,124.11 229.44,124.12 229.56,124.14 229.68,124.15 229.80,124.17 229.92,124.14 230.04,124.10 230.16,124.07 230.28,124.04 230.40,124.14 230.52,124.24 230.64,124.34 230.76,124.44 230.88,124.38 231.00,124.31 231.12,124.25 231.24,124.18 231.36,124.10 231.48,124.03 231.60,123.95 231.72,123.87 231.84,123.88 231.96,123.90 232.08,123.91 232.20,123.92 232.32,124.05 232.44,124.19 232.56,124.32 232.68,124.45 232.80,124.30 232.92,124.16 233.03,124.01 233.15,123.87 233.27,123.95 233.39,124.04 233.51,124.13 233.63,124.21 233.75,124.10 233.87,123.99 233.99,123.88 234.11,123.77 234.23,123.89 234.35,124.00 234.47,124.11 234.59,124.22 234.71,124.25 234.83,124.28 234.95,124.31 235.07,124.34 235.19,124.27 235.31,124.21 235.43,124.15 235.55,124.09 235.67,124.03 235.79,123.97 235.91,123.91 236.03,123.85 236.15,123.93 236.27,124.01 236.39,124.09 236.51,124.18 236.63,124.10 236.75,124.02 236.87,123.94 236.99,123.86 237.11,123.89 237.23,123.91 237.35,123.94 237.47,123.97 237.59,124.04 237.71,124.10 237.83,124.16 237.95,124.23 238.07,124.24 238.19,124.25 238.31,124.26 238.43,124.27 238.55,124.24 238.67,124.20 238.79,124.16 238.91,124.12 239.03,124.14 239.15,124.16 239.27,124.18 239.39,124.20 239.51,124.21 239.63,124.21 239.75,124.22 239.87,124.22 239.99,124.17 240.11,124.12 240.23,124.07 240.35,124.02 240.47,123.97 240.59,123.93 240.71,123.89 240.83,123.85 240.95,123.90 241.07,123.96 241.19,124.01 241.31,124.06 241.43,124.15 241.54,124.23 241.66,124.31 241.78,124.39 241.90,124.37 242.02,124.36 242.14,124.35 242.26,124.33 242.38,124.30 242.50,124.28 242.62,124.25 242.74,124.22 242.86,124.18 242.98,124.13 243.10,124.09 243.22,124.04 243.34,124.13 243.46,124.22 243.58,124.30 243.70,124.39 243.82,124.40 243.94,124.41 244.06,124.42 244.18,124.43 244.30,124.39 244.42,124.35 244.54,124.30 244.66,124.26 244.78,124.27 244.90,124.27 245.02,124.28 245.14,124.29 245.26,124.33 245.38,124.38 245.50,124.43 245.62,124.47 245.74,124.38 245.86,124.28 245.98,124.19 246.10,124.10 246.22,124.03 246.34,123.96 246.46,123.89 246.58,123.82 246.70,123.89 246.82,123.96 246.94,124.03 247.06,124.10 247.18,124.06 247.30,124.03 247.42,123.99 247.54,123.95 247.66,123.94 247.78,123.92 247.90,123.90 248.02,123.89 248.14,123.88 248.26,123.88 248.38,123.88 248.50,123.88 248.62,123.87 248.74,123.85 248.86,123.84 248.98,123.82 249.10,123.91 249.22,124.00 249.34,124.08 249.46,124.17 249.58,124.13 249.70,124.08 249.82,124.04 249.94,123.99 250.06,124.10 250.17,124.20 250.29,124.30 250.41,124.40 250.53,124.27 250.65,124.13 250.77,123.99 250.89,123.85 251.01,123.94 251.13,124.03 251.25,124.11 251.37,124.20 251.49,124.17 251.61,124.14 251.73,124.11 251.85,124.07 251.97,123.96 252.09,123.85 252.21,123.72 252.33,123.58 252.45,123.62 252.57,123.64 252.69,123.65 252.81,123.65 252.93,123.55 253.05,123.45 253.17,123.34 253.29,123.23 253.41,123.01 253.53,122.80 253.65,122.61 253.77,122.44 253.89,122.46 254.01,122.51 254.13,122.59 254.25,122.70 254.37,122.88 254.49,123.08 254.61,123.29 254.73,123.51 254.85,123.64 254.97,123.78 255.09,123.90 255.21,124.02 255.33,124.05 255.45,124.07 255.57,124.08 255.69,124.07 255.81,124.18 255.93,124.27 256.05,124.36 256.17,124.45 256.29,124.31 256.41,124.17 256.53,124.02 256.65,123.87 256.77,124.00 256.89,124.12 257.01,124.24 257.13,124.36 257.25,124.34 257.37,124.33 257.49,124.31 257.61,124.29 257.73,124.27 257.85,124.25 257.97,124.23 258.09,124.21 258.21,124.19 258.33,124.16 258.45,124.14 258.57,124.12 258.68,124.13 258.80,124.15 258.92,124.16 259.04,124.18 259.16,124.14 259.28,124.10 259.40,124.07 259.52,124.12 259.64,124.11 259.76,124.11 259.88,124.11 260.00,124.10 260.12,124.09 260.24,124.09 260.36,124.07 260.48,124.06 260.60,124.04 260.72,124.02 260.84,123.99 260.96,123.97 261.08,123.95 261.20,123.93 261.32,123.88 261.44,123.80 261.56,123.71 261.68,123.60 261.80,123.49 261.92,123.38 262.04,123.26 262.16,123.13 262.28,122.97 262.40,122.78 262.52,122.57 262.64,122.34 262.76,122.11 262.88,121.89 263.00,121.65 263.12,121.40 263.24,121.13 263.36,120.83 263.48,120.51 263.60,120.18 263.72,119.76 263.84,119.25 263.96,118.72 264.08,118.16 264.20,117.87 264.32,117.81 264.44,117.81 264.56,117.86 264.68,117.70 264.80,117.40 264.92,117.12 265.04,116.86 265.16,116.72 265.28,116.68 265.40,116.67 265.52,116.70 265.64,116.68 265.76,116.62 265.88,116.60 266.00,116.61 266.12,116.43 266.24,116.15 266.36,115.92 266.48,115.74 266.60,116.12 266.72,116.84 266.84,117.54 266.96,118.24 267.08,118.48 267.19,118.48 267.31,118.52 267.43,118.61 267.55,118.97 267.67,119.49 267.79,119.97 267.91,120.43 268.03,120.71 268.15,120.91 268.27,121.11 268.39,121.31 268.51,121.59 268.63,121.89 268.75,122.17 268.87,122.42 268.99,122.64 269.11,122.84 269.23,123.01 269.35,123.17 269.47,123.30 269.59,123.41 269.71,123.51 269.83,123.60 269.95,123.70 270.07,123.79 270.19,123.87 270.31,123.93 270.43,123.96 270.55,123.99 270.67,124.01 270.79,124.03 270.91,124.05 271.03,124.47 271.15,124.31 271.27,124.14 271.39,123.97 271.51,123.81 271.63,123.88 271.75,123.96 271.87,124.03 271.99,124.11 272.11,124.10 272.23,124.09 272.35,124.08 272.47,124.07 272.59,124.16 272.71,124.25 272.83,124.34 272.95,124.43 273.07,124.40 273.19,124.38 273.31,124.35 273.43,124.32 273.55,124.28 273.67,124.24 273.79,124.19 273.91,124.15 274.03,124.07 274.15,124.00 274.27,123.93 274.39,123.85 274.51,123.90 274.63,123.94 274.75,123.99 274.87,124.02 274.99,124.04 275.11,124.05 275.23,124.04 275.35,124.03 275.47,123.83 275.59,123.61 275.70,123.38 275.82,123.14 275.94,123.08 276.06,123.02 276.18,122.95 276.30,122.89 276.42,122.80 276.54,122.73 276.66,122.68 276.78,122.66 276.90,122.70 277.02,122.77 277.14,122.87 277.26,122.99 277.38,123.06 277.50,123.14 277.62,123.24 277.74,123.35 277.86,123.37 277.98,123.38 278.10,123.38 278.22,123.38 278.34,123.61 278.46,123.83 278.58,124.04 278.70,124.23 278.82,124.20 278.94,124.16 279.06,124.11 279.18,124.06 279.30,124.06 279.42,124.05 279.54,124.04 279.66,124.03 279.78,124.08 279.90,124.13 280.02,124.18 280.14,124.23 280.26,124.16 280.38,124.08 280.50,124.01 280.62,123.93 280.74,123.90 280.86,123.88 280.98,123.85 281.10,123.83 281.22,123.84 281.34,123.85 281.46,123.85 281.58,123.86 281.70,123.89 281.82,123.91 281.94,123.93 282.06,123.95 282.18,124.05 282.30,124.15 282.42,124.25 282.54,124.34 282.66,124.37 282.78,124.40 282.90,124.42 283.02,124.45 283.14,124.38 283.26,124.31 283.38,124.24 283.50,124.18 283.62,124.20 283.74,124.22 283.86,124.24 283.98,124.26 284.10,124.29 284.21,124.31 284.33,124.33 284.45,124.35 284.57,124.23 284.69,124.10 284.81,123.98 284.93,123.85 285.05,123.97 285.17,124.09 285.29,124.21 285.41,124.33 285.53,124.22 285.65,124.10 285.77,123.98 285.89,123.86 286.01,123.82 286.13,123.77 286.25,123.72 286.37,123.65 286.49,123.74 286.61,123.81 286.73,123.87 286.85,123.89 286.97,123.60 287.09,123.28 287.21,122.93 287.33,122.57 287.45,122.42 287.57,122.27 287.69,122.11 287.81,121.96 287.93,121.78 288.05,121.62 288.17,121.51 288.29,121.45 288.41,121.41 288.53,121.43 288.65,121.51 288.77,121.64 288.89,121.84 289.01,122.08 289.13,122.34 289.25,122.62 289.37,122.78 289.49,122.94 289.61,123.09 289.73,123.21 289.85,123.42 289.97,123.60 290.09,123.75 290.21,123.88 290.33,123.88 290.45,123.87 290.57,123.83 290.69,123.78 290.81,123.81 290.93,123.84 291.05,123.85 291.17,123.87 291.29,124.01 291.41,124.16 291.53,124.31 291.65,124.45 291.77,124.39 291.89,124.32 292.01,124.26 292.13,124.20 292.25,124.20 292.37,124.20 292.49,124.21 292.61,124.21 292.73,124.25 292.84,124.29 292.96,124.32 293.08,124.36 293.20,124.35 293.32,124.34 293.44,124.32 293.56,124.31 293.68,124.31 293.80,124.30 293.92,124.30 294.04,124.30 294.16,124.22 294.28,124.14 294.40,124.06 294.52,123.98 294.64,124.05 294.76,124.11 294.88,124.18 295.00,124.24 295.12,124.29 295.24,124.33 295.36,124.37 295.48,124.41 295.60,124.39 295.72,124.37 295.84,124.35 295.96,124.33 296.08,124.29 296.20,124.25 296.32,124.21 296.44,124.17 296.56,124.15 296.68,124.12 296.80,124.10 296.92,124.08 297.04,124.14 297.16,124.20 297.28,124.25 297.40,124.31 297.52,124.23 297.64,124.15 297.76,124.06 297.88,123.98 298.00,124.07 298.12,124.16 298.24,124.25 298.36,124.34 298.48,124.25 298.60,124.17 298.72,124.08 298.84,124.00 298.96,124.01 299.08,124.02 299.20,124.04 299.32,124.05 299.44,124.13 299.56,124.21 299.68,124.28 299.80,124.36 299.92,124.26 300.04,124.15 300.16,124.05 300.28,123.94 300.40,124.01 300.52,124.07 300.64,124.14 300.76,124.20 300.88,124.18 301.00,124.15 301.12,124.12 301.24,124.10 301.35,124.09 301.47,124.08 301.59,124.07 301.71,124.05 301.83,124.05 301.95,124.04 302.07,124.04 302.19,124.03 302.31,124.07 302.43,124.10 302.55,124.13 302.67,124.17 302.79,124.24 302.91,124.31 303.03,124.38 303.15,124.45 303.27,124.32 303.39,124.18 303.51,124.05 303.63,123.92 303.75,123.90 303.87,123.89 303.99,123.88 304.11,123.86 304.23,123.93 304.35,124.00 304.47,124.07 304.59,124.13 304.71,124.12 304.83,124.10 304.95,124.09 305.07,124.07 305.19,124.13 305.31,124.18 305.43,124.24 305.55,124.30 305.67,124.18 305.79,124.07 305.91,123.95 306.03,123.83 306.15,123.87 306.27,123.91 306.39,123.95 306.51,123.99 306.63,124.08 306.75,124.16 306.87,124.25 306.99,124.33 307.11,124.22 307.23,124.11 307.35,124.00 307.47,123.89 307.59,123.86 307.71,123.83 307.83,123.80 307.95,123.77 308.07,123.89 308.19,124.00 308.31,124.12 308.43,124.24 308.55,124.12 308.67,124.00 308.79,123.88 308.91,123.76 309.03,123.86 309.15,123.95 309.27,124.05 309.39,124.14 309.51,124.19 309.63,124.25 309.75,124.31 309.86,124.36 309.98,124.26 310.10,124.16 310.22,124.07 310.34,123.97 310.46,124.04 310.58,124.11 310.70,124.18 310.82,124.24 310.94,124.17 311.06,124.10 311.18,124.03 311.30,123.96 311.42,123.98 311.54,124.01 311.66,124.04 311.78,124.07 311.90,124.15 312.02,124.24 312.14,124.33 312.26,124.41 312.38,124.34 312.50,124.26 312.62,124.18 312.74,124.11 312.86,124.05 312.98,123.99 313.10,123.93 313.22,123.87 313.34,123.94 313.46,124.01 313.58,124.07 313.70,124.14 313.82,124.13 313.94,124.12 314.06,124.11 314.18,124.10 314.30,124.04 314.42,123.98 314.54,123.92 314.66,123.86 314.78,123.94 314.90,124.01 315.02,124.09 315.14,124.17 315.26,124.16 315.38,124.15 315.50,124.14 315.62,124.13 315.74,124.12 315.86,124.10 315.98,124.08 316.10,124.07 316.22,124.02 316.34,123.98 316.46,123.93 316.58,123.89 316.70,124.00 316.82,124.12 316.94,124.23 317.06,124.34 317.18,124.36 317.30,124.38 317.42,124.40 317.54,124.42 317.66,124.30 317.78,124.18 317.90,124.06 318.02,123.94 318.14,123.97 318.26,124.01 318.37,124.05 318.49,124.09 318.61,124.13 318.73,124.18 318.85,124.23 318.97,124.27 319.09,124.16 319.21,124.06 319.33,123.95 319.45,123.84 319.57,123.84 319.69,123.84 319.81,123.84 319.93,123.84 320.05,123.90 320.17,123.96 320.29,124.02 320.41,124.07 320.53,123.98 320.65,123.88 320.77,123.77 320.89,123.65 321.01,123.64 321.13,123.61 321.25,123.56 321.37,123.50 321.49,123.40 321.61,123.28 321.73,123.15 321.85,123.00 321.97,122.91 322.09,122.80 322.21,122.70 322.33,122.60 322.45,122.49 322.57,122.40 322.69,122.34 322.81,122.32 322.93,122.16 323.05,122.05 323.17,121.99 323.29,121.96 323.41,122.08 323.53,122.23 323.65,122.39 323.77,122.57 323.89,122.83 324.01,123.08 324.13,123.32 324.25,123.55 324.37,123.67 324.49,123.76 324.61,123.84 324.73,123.90 324.85,123.94 324.97,123.98 325.09,124.00 325.21,124.01 325.33,124.09 325.45,124.16 325.57,124.23 325.69,124.30 325.81,124.22 325.93,124.14 326.05,124.06 326.17,123.98 326.29,124.01 326.41,124.03 326.53,124.06 326.65,124.08 326.77,124.11 326.89,124.15 327.00,124.18 327.12,124.21 327.24,124.26 327.36,124.31 327.48,124.36 327.60,124.41 327.72,124.33 327.84,124.25 327.96,124.17 328.08,124.09 328.20,124.13 328.32,124.17 328.44,124.22 328.56,124.26 328.68,124.18 328.80,124.11 328.92,124.04 329.04,123.96 329.16,124.06 329.28,124.16 329.40,124.27 329.52,124.37 329.64,124.33 329.76,124.29 329.88,124.24 330.00,124.20 330.12,124.24 330.24,124.28 330.36,124.31 330.48,124.35 330.60,124.31 330.72,124.27 330.84,124.23 330.96,124.19 331.08,124.16 331.20,124.13 331.32,124.10 331.44,124.07 331.56,124.16 331.68,124.24 331.80,124.33 331.92,124.41 332.04,124.42 332.16,124.43 332.28,124.44 332.40,124.45 332.52,124.37 332.64,124.30 332.76,124.22 332.88,124.14 333.00,124.19 333.12,124.24 333.24,124.29 333.36,124.35 333.48,124.29 333.60,124.23 333.72,124.18 333.84,124.12 333.96,124.18 334.08,124.25 334.20,124.31 334.32,124.37 334.44,124.38 334.56,124.40 334.68,124.41 334.80,124.42 334.92,124.34 335.04,124.26 335.16,124.18 335.28,124.10 335.40,124.03 335.51,123.96 335.63,123.89 335.75,123.82 335.87,123.83 335.99,123.84 336.11,123.85 336.23,123.86 336.35,123.92 336.47,123.99 336.59,124.05 336.71,124.12 336.83,124.14 336.95,124.16 337.07,124.18 337.19,124.20 337.31,124.26 337.43,124.32 337.55,124.38 337.67,124.44 337.79,124.41 337.91,124.37 338.03,124.33 338.15,124.29 338.27,124.28 338.39,124.28 338.51,124.27 338.63,124.26 338.75,124.15 338.87,124.03 338.99,123.92 339.11,123.80 339.23,123.95 339.35,124.11 339.47,124.26 339.59,124.41 339.71,124.26 339.83,124.10 339.95,123.95 340.07,123.80 340.19,123.88 340.31,123.97 340.43,124.06 340.55,124.14 340.67,124.15 340.79,124.16 340.91,124.17 341.03,124.18 341.15,124.21 341.27,124.24 341.39,124.27 341.51,124.30 341.63,124.17 341.75,124.04 341.87,123.92 341.99,123.79 342.11,123.93 342.23,124.07 342.35,124.21 342.47,124.36 342.59,124.29 342.71,124.22 342.83,124.14 342.95,124.07 343.07,124.09 343.19,124.10 343.31,124.11 343.43,124.12 343.55,124.18 343.67,124.23 343.79,124.29 343.91,124.35 344.02,124.34 344.14,124.34 344.26,124.33 344.38,124.33 344.50,124.19 344.62,124.05 344.74,123.91 344.86,123.77 344.98,123.81 345.10,123.84 345.22,123.88 345.34,123.91 345.46,123.92 345.58,123.93 345.70,123.94 345.82,123.96 345.94,123.92 346.06,123.89 346.18,123.86 346.30,123.83 346.42,123.98 346.54,124.13 346.66,124.27 346.78,124.42 346.90,124.31 347.02,124.20 347.14,124.09 347.26,123.98 347.38,123.97 347.50,123.96 347.62,123.95 347.74,123.94 347.86,124.04 347.98,124.14 348.10,124.23 348.22,124.33 348.34,124.29 348.46,124.24 348.58,124.20 348.70,124.16 348.82,124.06 348.94,123.97 349.06,123.87 349.18,123.78 349.30,123.90 349.42,124.02 349.54,124.13 349.66,124.25 349.78,124.17 349.90,124.09 350.02,124.01 350.14,123.93 350.26,124.04 350.38,124.15 350.50,124.26 350.62,124.37 350.74,124.28 350.86,124.19 350.98,124.10 351.10,124.00 351.22,124.08 351.34,124.15 351.46,124.22 351.58,124.30" fill="none" stroke="#1a1aff" stroke-width="1.1" stroke-linejoin="round" />
<polyline points="40.90,124.04 41.02,123.89 41.14,123.75 41.26,123.60 41.38,123.46 41.50,123.54 41.62,123.62 41.74,123.70 41.86,123.79 41.98,123.68 42.10,123.56 42.22,123.45 42.34,123.34 42.46,123.33 42.58,123.32 42.70,123.31 42.82,123.30 42.94,123.57 43.06,123.83 43.18,124.10 43.30,124.37 43.42,124.39 43.54,124.42 43.66,124.44 43.78,124.47 43.90,124.07 44.02,123.68 44.14,123.29 44.26,122.89 44.38,123.16 44.50,123.43 44.62,123.70 44.74,123.95 44.86,123.93 44.98,123.90 45.10,123.83 45.21,123.74 45.33,123.23 45.45,122.66 45.57,122.03 45.69,121.34 45.81,121.20 45.93,121.01 46.05,120.77 46.17,120.52 46.29,119.86 46.41,119.25 46.53,118.72 46.65,118.31 46.77,118.38 46.89,118.60 47.01,118.95 47.13,119.43 47.25,119.76 47.37,120.16 47.49,120.58 47.61,121.00 47.73,121.69 47.85,122.34 47.97,122.93 48.09,123.45 48.21,123.44 48.33,123.38 48.45,123.27 48.57,123.13 48.69,123.08 48.81,123.00 48.93,122.92 49.05,122.82 49.17,122.99 49.29,123.16 49.41,123.33 49.53,123.49 49.65,123.39 49.77,123.29 49.89,123.18 50.01,123.08 50.13,123.11 50.25,123.15 50.37,123.18 50.49,123.21 50.61,123.50 50.73,123.79 50.85,124.08 50.97,124.37 51.09,124.04 51.21,123.71 51.33,123.38 51.45,123.05 51.57,123.13 51.69,123.21 51.81,123.29 51.93,123.37 52.05,123.50 52.17,123.64 52.29,123.78 52.41,123.92 52.53,124.05 52.65,124.18 52.77,124.31 52.89,124.43 53.01,124.04 53.13,123.64 53.25,123.24 53.37,122.84 53.49,123.03 53.61,123.22 53.72,123.40 53.84,123.59 53.96,123.47 54.08,123.36 54.20,123.24 54.32,123.12 54.44,123.05 54.56,122.97 54.68,122.89 54.80,122.82 54.92,122.90 55.04,122.97 55.16,123.05 55.28,123.13 55.40,123.03 55.52,122.93 55.64,122.84 55.76,122.74 55.88,122.99 56.00,123.23 56.12,123.48 56.24,123.73 56.36,123.53 56.48,123.32 56.60,123.11 56.72,122.89 56.84,123.02 56.96,123.14 57.08,123.24 57.20,123.33 57.32,123.00 57.44,122.66 57.56,122.30 57.68,121.94 57.80,121.85 57.92,121.76 58.04,121.70 58.16,121.67 58.28,122.02 58.40,122.40 58.52,122.82 58.64,123.27 58.76,123.35 58.88,123.45 59.00,123.56 59.12,123.66 59.24,123.74 59.36,123.81 59.48,123.86 59.60,123.89 59.72,123.59 59.84,123.28 59.96,122.95 60.08,122.61 60.20,122.88 60.32,123.14 60.44,123.40 60.56,123.66 60.68,123.57 60.80,123.48 60.92,123.39 61.04,123.30 61.16,123.45 61.28,123.61 61.40,123.76 61.52,123.92 61.64,123.82 61.76,123.72 61.88,123.62 62.00,123.53 62.12,123.58 62.24,123.64 62.35,123.70 62.47,123.76 62.59,123.77 62.71,123.79 62.83,123.81 62.95,123.82 63.07,123.71 63.19,123.60 63.31,123.49 63.43,123.38 63.55,123.38 63.67,123.38 63.79,123.38 63.91,123.38 64.03,123.23 64.15,123.07 64.27,122.92 64.39,122.77 64.51,122.88 64.63,122.98 64.75,123.09 64.87,123.19 64.99,123.08 65.11,122.96 65.23,122.84 65.35,122.72 65.47,122.76 65.59,122.79 65.71,122.83 65.83,122.86 65.95,122.80 66.07,122.73 66.19,122.67 66.31,122.60 66.43,122.76 66.55,122.91 66.67,123.06 66.79,123.21 66.91,123.46 67.03,123.70 67.15,123.94 67.27,124.18 67.39,123.85 67.51,123.51 67.63,123.18 67.75,122.84 67.87,122.79 67.99,122.73 68.11,122.67 68.23,122.60 68.35,122.60 68.47,122.59 68.59,122.57 68.71,122.53 68.83,122.62 68.95,122.70 69.07,122.77 69.19,122.83 69.31,122.67 69.43,122.52 69.55,122.39 69.67,122.27 69.79,122.49 69.91,122.74 70.03,123.01 70.15,123.31 70.27,123.09 70.39,122.89 70.51,122.68 70.63,122.48 70.75,122.69 70.86,122.89 70.98,123.08 71.10,123.26 71.22,123.44 71.34,123.61 71.46,123.77 71.58,123.92 71.70,124.04 71.82,124.15 71.94,124.26 72.06,124.37 72.18,123.99 72.30,123.62 72.42,123.24 72.54,122.86 72.66,122.80 72.78,122.74 72.90,122.67 73.02,122.61 73.14,123.04 73.26,123.47 73.38,123.89 73.50,124.32 73.62,123.99 73.74,123.65 73.86,123.31 73.98,122.97 74.10,123.15 74.22,123.34 74.34,123.52 74.46,123.71 74.58,123.83 74.70,123.96 74.82,124.08 74.94,124.21 75.06,124.14 75.18,124.07 75.30,124.00 75.42,123.93 75.54,123.71 75.66,123.48 75.78,123.25 75.90,123.03 76.02,122.98 76.14,122.93 76.26,122.88 76.38,122.83 76.50,123.22 76.62,123.62 76.74,124.01 76.86,124.41 76.98,124.14 77.10,123.87 77.22,123.59 77.34,123.32 77.46,123.59 77.58,123.86 77.70,124.14 77.82,124.41 77.94,124.09 78.06,123.77 78.18,123.44 78.30,123.12 78.42,123.31 78.54,123.49 78.66,123.68 78.78,123.86 78.90,123.60 79.02,123.33 79.14,123.07 79.26,122.80 79.37,122.74 79.49,122.68 79.61,122.61 79.73,122.53 79.85,122.71 79.97,122.87 80.09,123.01 80.21,123.14 80.33,122.78 80.45,122.41 80.57,122.02 80.69,121.63 80.81,121.80 80.93,122.00 81.05,122.21 81.17,122.47 81.29,122.55 81.41,122.67 81.53,122.84 81.65,123.05 81.77,122.93 81.89,122.82 82.01,122.73 82.13,122.64 82.25,123.05 82.37,123.45 82.49,123.84 82.61,124.20 82.73,124.19 82.85,124.16 82.97,124.12 83.09,124.07 83.21,123.99 83.33,123.90 83.45,123.81 83.57,123.71 83.69,123.62 83.81,123.52 83.93,123.43 84.05,123.33 84.17,123.55 84.29,123.76 84.41,123.98 84.53,124.20 84.65,124.25 84.77,124.30 84.89,124.36 85.01,124.41 85.13,124.02 85.25,123.63 85.37,123.23 85.49,122.84 85.61,123.10 85.73,123.37 85.85,123.63 85.97,123.89 86.09,123.59 86.21,123.28 86.33,122.97 86.45,122.67 86.57,122.70 86.69,122.72 86.81,122.75 86.93,122.78 87.05,123.03 87.17,123.28 87.29,123.53 87.41,123.77 87.53,123.73 87.65,123.69 87.77,123.65 87.88,123.62 88.00,123.59 88.12,123.56 88.24,123.53 88.36,123.50 88.48,123.44 88.60,123.38 88.72,123.32 88.84,123.27 88.96,123.29 89.08,123.31 89.20,123.33 89.32,123.36 89.44,123.37 89.56,123.39 89.68,123.41 89.80,123.43 89.92,123.40 90.04,123.37 90.16,123.34 90.28,123.31 90.40,123.15 90.52,123.00 90.64,122.84 90.76,122.67 90.88,122.86 91.00,123.03 91.12,123.19 91.24,123.33 91.36,123.28 91.48,123.19 91.60,123.06 91.72,122.89 91.84,122.51 91.96,122.09 92.08,121.65 92.20,121.20 92.32,121.12 92.44,121.08 92.56,121.09 92.68,121.17 92.80,121.08 92.92,121.08 93.04,121.16 93.16,121.32 93.28,121.26 93.40,121.23 93.52,121.22 93.64,121.20 93.76,121.71 93.88,122.19 94.00,122.63 94.12,123.03 94.24,123.15 94.36,123.25 94.48,123.31 94.60,123.35 94.72,123.64 94.84,123.92 94.96,124.19 95.08,124.46 95.20,124.27 95.32,124.08 95.44,123.89 95.56,123.70 95.68,123.62 95.80,123.54 95.92,123.47 96.04,123.39 96.16,123.65 96.28,123.92 96.39,124.19 96.51,124.46 96.63,124.17 96.75,123.89 96.87,123.60 96.99,123.32 97.11,123.31 97.23,123.30 97.35,123.30 97.47,123.29 97.59,123.56 97.71,123.83 97.83,124.11 97.95,124.38 98.07,124.11 98.19,123.84 98.31,123.57 98.43,123.30 98.55,123.37 98.67,123.45 98.79,123.53 98.91,123.60 99.03,123.50 99.15,123.40 99.27,123.30 99.39,123.20 99.51,123.35 99.63,123.51 99.75,123.67 99.87,123.82 99.99,123.65 100.11,123.48 100.23,123.31 100.35,123.15 100.47,123.13 100.59,123.12 100.71,123.10 100.83,123.09 100.95,123.43 101.07,123.77 101.19,124.11 101.31,124.45 101.43,124.43 101.55,124.41 101.67,124.40 101.79,124.38 101.91,124.08 102.03,123.78 102.15,123.49 102.27,123.18 102.39,123.03 102.51,122.87 102.63,122.70 102.75,122.51 102.87,122.78 102.99,123.03 103.11,123.24 103.23,123.43 103.35,123.15 103.47,122.84 103.59,122.51 103.71,122.18 103.83,121.89 103.95,121.62 104.07,121.39 104.19,121.21 104.31,121.29 104.43,121.45 104.55,121.66 104.67,121.94 104.79,122.11 104.91,122.31 105.02,122.52 105.14,122.73 105.26,122.97 105.38,123.19 105.50,123.38 105.62,123.54 105.74,123.62 105.86,123.67 105.98,123.70 106.10,123.72 106.22,123.64 106.34,123.55 106.46,123.45 106.58,123.35 106.70,123.49 106.82,123.64 106.94,123.78 107.06,123.92 107.18,123.88 107.30,123.85 107.42,123.81 107.54,123.77 107.66,123.59 107.78,123.40 107.90,123.21 108.02,123.02 108.14,123.38 108.26,123.73 108.38,124.09 108.50,124.44 108.62,124.18 108.74,123.92 108.86,123.67 108.98,123.41 109.10,123.33 109.22,123.25 109.34,123.17 109.46,123.09 109.58,123.29 109.70,123.50 109.82,123.70 109.94,123.90 110.06,123.94 110.18,123.99 110.30,124.03 110.42,124.07 110.54,123.79 110.66,123.51 110.78,123.24 110.90,122.96 111.02,123.23 111.14,123.50 111.26,123.77 111.38,124.04 111.50,124.06 111.62,124.09 111.74,124.11 111.86,124.14 111.98,124.02 112.10,123.90 112.22,123.78 112.34,123.66 112.46,123.54 112.58,123.41 112.70,123.29 112.82,123.16 112.94,123.45 113.06,123.73 113.18,124.01 113.30,124.30 113.42,124.19 113.53,124.08 113.65,123.98 113.77,123.87 113.89,123.85 114.01,123.83 114.13,123.80 114.25,123.76 114.37,123.48 114.49,123.17 114.61,122.85 114.73,122.51 114.85,122.58 114.97,122.63 115.09,122.66 115.21,122.70 115.33,122.35 115.45,122.01 115.57,121.70 115.69,121.43 115.81,121.72 115.93,122.06 116.05,122.45 116.17,122.87 116.29,122.92 116.41,122.99 116.53,123.06 116.65,123.14 116.77,123.14 116.89,123.12 117.01,123.08 117.13,123.02 117.25,122.98 117.37,122.92 117.49,122.84 117.61,122.76 117.73,122.98 117.85,123.20 117.97,123.42 118.09,123.63 118.21,123.74 118.33,123.85 118.45,123.96 118.57,124.06 118.69,124.11 118.81,124.16 118.93,124.21 119.05,124.26 119.17,124.07 119.29,123.87 119.41,123.68 119.53,123.48 119.65,123.65 119.77,123.81 119.89,123.97 120.01,124.13 120.13,123.84 120.25,123.54 120.37,123.25 120.49,122.96 120.61,122.94 120.73,122.92 120.85,122.91 120.97,122.89 121.09,123.21 121.21,123.52 121.33,123.83 121.45,124.14 121.57,124.10 121.69,124.05 121.81,124.01 121.93,123.96 122.04,123.71 122.16,123.46 122.28,123.21 122.40,122.95 122.52,123.03 122.64,123.11 122.76,123.19 122.88,123.27 123.00,123.19 123.12,123.11 123.24,123.03 123.36,122.96 123.48,123.18 123.60,123.40 123.72,123.62 123.84,123.83 123.96,123.94 124.08,124.04 124.20,124.14 124.32,124.25 124.44,124.17 124.56,124.09 124.68,124.01 124.80,123.93 124.92,123.69 125.04,123.44 125.16,123.18 125.28,122.92 125.40,123.13 125.52,123.31 125.64,123.46 125.76,123.57 125.88,123.34 126.00,123.04 126.12,122.66 126.24,122.19 126.36,121.65 126.48,121.03 126.60,120.35 126.72,119.66 126.84,119.02 126.96,118.45 127.08,117.98 127.20,117.67 127.32,117.54 127.44,117.60 127.56,117.85 127.68,118.26 127.80,118.55 127.92,118.93 128.04,119.34 128.16,119.75 128.28,120.72 128.40,121.63 128.52,122.46 128.64,123.20 128.76,123.57 128.88,123.86 129.00,124.10 129.12,124.28 129.24,123.91 129.36,123.51 129.48,123.10 129.60,122.67 129.72,122.71 129.84,122.75 129.96,122.78 130.08,122.81 130.20,122.76 130.32,122.71 130.44,122.66 130.55,122.61 130.67,122.87 130.79,123.14 130.91,123.40 131.03,123.67 131.15,123.42 131.27,123.17 131.39,122.93 131.51,122.68 131.63,122.69 131.75,122.70 131.87,122.71 131.99,122.73 132.11,123.06 132.23,123.40 132.35,123.73 132.47,124.07 132.59,123.82 132.71,123.57 132.83,123.32 132.95,123.07 133.07,123.03 133.19,122.98 133.31,122.94 133.43,122.90 133.55,122.98 133.67,123.06 133.79,123.15 133.91,123.23 134.03,123.30 134.15,123.37 134.27,123.44 134.39,123.50 134.51,123.61 134.63,123.72 134.75,123.83 134.87,123.94 134.99,123.92 135.11,123.89 135.23,123.87 135.35,123.84 135.47,123.90 135.59,123.95 135.71,124.01 135.83,124.06 135.95,124.14 136.07,124.21 136.19,124.29 136.31,124.36 136.43,124.11 136.55,123.86 136.67,123.61 136.79,123.36 136.91,123.49 137.03,123.62 137.15,123.74 137.27,123.85 137.39,123.55 137.51,123.24 137.63,122.91 137.75,122.56 137.87,122.80 137.99,123.03 138.11,123.24 138.23,123.45 138.35,122.88 138.47,122.34 138.59,121.82 138.71,121.34 138.83,121.40 138.95,121.52 139.07,121.68 139.18,121.87 139.30,121.89 139.42,121.93 139.54,121.97 139.66,122.02 139.78,122.18 139.90,122.32 140.02,122.44 140.14,122.55 140.26,122.62 140.38,122.67 140.50,122.70 140.62,122.73 140.74,122.90 140.86,123.07 140.98,123.23 141.10,123.39 141.22,123.66 141.34,123.93 141.46,124.20 141.58,124.47 141.70,124.12 141.82,123.77 141.94,123.42 142.06,123.07 142.18,123.35 142.30,123.62 142.42,123.89 142.54,124.17 142.66,124.10 142.78,124.04 142.90,123.98 143.02,123.92 143.14,123.75 143.26,123.58 143.38,123.40 143.50,123.23 143.62,123.30 143.74,123.36 143.86,123.43 143.98,123.49 144.10,123.55 144.22,123.60 144.34,123.65 144.46,123.70 144.58,123.45 144.70,123.20 144.82,122.95 144.94,122.70 145.06,122.86 145.18,123.01 145.30,123.17 145.42,123.33 145.54,123.46 145.66,123.58 145.78,123.71 145.90,123.84 146.02,123.88 146.14,123.93 146.26,123.97 146.38,124.01 146.50,123.72 146.62,123.43 146.74,123.14 146.86,122.85 146.98,123.03 147.10,123.22 147.22,123.40 147.34,123.58 147.46,123.44 147.58,123.29 147.69,123.14 147.81,122.99 147.93,123.19 148.05,123.38 148.17,123.57 148.29,123.74 148.41,123.75 148.53,123.73 148.65,123.67 148.77,123.54 148.89,123.10 149.01,122.56 149.13,121.90 149.25,121.13 149.37,120.26 149.49,119.29 149.61,118.24 149.73,117.17 149.85,116.56 149.97,116.05 150.09,115.70 150.21,115.56 150.33,115.08 150.45,114.86 150.57,114.91 150.69,115.20 150.81,115.90 150.93,116.72 151.05,117.60 151.17,118.46 151.29,119.39 151.41,120.22 151.53,120.94 151.65,121.53 151.77,121.95 151.89,122.26 152.01,122.48 152.13,122.64 152.25,123.13 152.37,123.59 152.49,124.03 152.61,124.44 152.73,124.16 152.85,123.88 152.97,123.59 153.09,123.29 153.21,123.18 153.33,123.07 153.45,122.96 153.57,122.85 153.69,123.24 153.81,123.62 153.93,124.01 154.05,124.40 154.17,124.29 154.29,124.19 154.41,124.08 154.53,123.98 154.65,123.98 154.77,123.98 154.89,123.98 155.01,123.98 155.13,123.86 155.25,123.73 155.37,123.61 155.49,123.49 155.61,123.54 155.73,123.59 155.85,123.64 155.97,123.69 156.09,123.66 156.20,123.64 156.32,123.62 156.44,123.59 156.56,123.45 156.68,123.30 156.80,123.16 156.92,123.01 157.04,123.38 157.16,123.75 157.28,124.12 157.40,124.49 157.52,124.46 157.64,124.44 157.76,124.41 157.88,124.39 158.00,124.35 158.12,124.32 158.24,124.29 158.36,124.25 158.48,124.25 158.60,124.25 158.72,124.25 158.84,124.26 158.96,124.28 159.08,124.31 159.20,124.34 159.32,124.36 159.44,123.93 159.56,123.49 159.68,123.05 159.80,122.61 159.92,122.66 160.04,122.69 160.16,122.71 160.28,122.72 160.40,123.02 160.52,123.29 160.64,123.53 160.76,123.74 160.88,123.36 161.00,122.95 161.12,122.53 161.24,122.09 161.36,121.95 161.48,121.84 161.60,121.76 161.72,121.74 161.84,121.69 161.96,121.71 162.08,121.80 162.20,121.95 162.32,122.12 162.44,122.32 162.56,122.54 162.68,122.76 162.80,122.83 162.92,122.89 163.04,122.91 163.16,122.90 163.28,123.04 163.40,123.15 163.52,123.23 163.64,123.30 163.76,123.44 163.88,123.56 164.00,123.68 164.12,123.80 164.24,123.88 164.36,123.96 164.48,124.05 164.60,124.13 164.71,124.06 164.83,124.00 164.95,123.93 165.07,123.87 165.19,123.96 165.31,124.06 165.43,124.16 165.55,124.26 165.67,124.05 165.79,123.85 165.91,123.64 166.03,123.43 166.15,123.36 166.27,123.28 166.39,123.20 166.51,123.13 166.63,123.29 166.75,123.45 166.87,123.61 166.99,123.77 167.11,123.91 167.23,124.05 167.35,124.20 167.47,124.34 167.59,124.29 167.71,124.25 167.83,124.20 167.95,124.15 168.07,124.06 168.19,123.97 168.31,123.87 168.43,123.78 168.55,123.67 168.67,123.56 168.79,123.45 168.91,123.34 169.03,123.26 169.15,123.17 169.27,123.09 169.39,123.00 169.51,123.19 169.63,123.38 169.75,123.58 169.87,123.77 169.99,123.57 170.11,123.37 170.23,123.17 170.35,122.97 170.47,123.05 170.59,123.14 170.71,123.22 170.83,123.30 170.95,123.39 171.07,123.48 171.19,123.57 171.31,123.66 171.43,123.67 171.55,123.69 171.67,123.69 171.79,123.69 171.91,123.58 172.03,123.46 172.15,123.32 172.27,123.16 172.39,122.94 172.51,122.70 172.63,122.45 172.75,122.19 172.87,122.17 172.99,122.17 173.11,122.20 173.23,122.26 173.34,122.10 173.46,121.98 173.58,121.91 173.70,121.87 173.82,122.11 173.94,122.37 174.06,122.64 174.18,122.90 174.30,123.15 174.42,123.38 174.54,123.60 174.66,123.79 174.78,123.72 174.90,123.64 175.02,123.54 175.14,123.42 175.26,123.37 175.38,123.30 175.50,123.23 175.62,123.16 175.74,123.46 175.86,123.76 175.98,124.06 176.10,124.36 176.22,124.19 176.34,124.02 176.46,123.85 176.58,123.68 176.70,123.68 176.82,123.68 176.94,123.68 177.06,123.68 177.18,123.47 177.30,123.25 177.42,123.03 177.54,122.82 177.66,122.79 177.78,122.76 177.90,122.73 178.02,122.71 178.14,122.98 178.26,123.24 178.38,123.51 178.50,123.78 178.62,123.53 178.74,123.28 178.86,123.03 178.98,122.78 179.10,122.83 179.22,122.88 179.34,122.93 179.46,122.99 179.58,123.24 179.70,123.49 179.82,123.74 179.94,123.99 180.06,123.90 180.18,123.80 180.30,123.70 180.42,123.61 180.54,123.77 180.66,123.93 180.78,124.10 180.90,124.26 181.02,123.93 181.14,123.60 181.26,123.27 181.38,122.94 181.50,123.01 181.62,123.09 181.74,123.16 181.85,123.23 181.97,123.12 182.09,123.02 182.21,122.91 182.33,122.80 182.45,122.85 182.57,122.89 182.69,122.93 182.81,122.98 182.93,123.03 183.05,123.08 183.17,123.13 183.29,123.17 183.41,123.12 183.53,123.05 183.65,122.98 183.77,122.90 183.89,122.92 184.01,122.93 184.13,122.94 184.25,122.94 184.37,123.08 184.49,123.23 184.61,123.40 184.73,123.58 184.85,123.33 184.97,123.11 185.09,122.91 185.21,122.72 185.33,123.07 185.45,123.42 185.57,123.77 185.69,124.13 185.81,124.13 185.93,124.13 186.05,124.12 186.17,124.10 186.29,123.84 186.41,123.56 186.53,123.28 186.65,122.99 186.77,123.35 186.89,123.70 187.01,124.06 187.13,124.41 187.25,124.38 187.37,124.36 187.49,124.34 187.61,124.32 187.73,124.31 187.85,124.31 187.97,124.31 188.09,124.30 188.21,123.93 188.33,123.56 188.45,123.19 188.57,122.81 188.69,123.15 188.81,123.48 188.93,123.82 189.05,124.15 189.17,124.23 189.29,124.30 189.41,124.37 189.53,124.45 189.65,124.06 189.77,123.67 189.89,123.28 190.01,122.89 190.13,123.23 190.25,123.58 190.36,123.92 190.48,124.26 190.60,123.92 190.72,123.57 190.84,123.23 190.96,122.88 191.08,122.97 191.20,123.05 191.32,123.13 191.44,123.21 191.56,123.13 191.68,123.05 191.80,122.98 191.92,122.90 192.04,122.84 192.16,122.79 192.28,122.73 192.40,122.68 192.52,122.86 192.64,123.03 192.76,123.21 192.88,123.39 193.00,123.28 193.12,123.18 193.24,123.08 193.36,122.97 193.48,123.33 193.60,123.70 193.72,124.06 193.84,124.42 193.96,124.07 194.08,123.72 194.20,123.37 194.32,123.01 194.44,123.12 194.56,123.23 194.68,123.32 194.80,123.40 194.92,123.25 195.04,123.08 195.16,122.88 195.28,122.66 195.40,122.80 195.52,122.93 195.64,123.03 195.76,123.14 195.88,122.65 196.00,122.18 196.12,121.74 196.24,121.34 196.36,121.22 196.48,121.15 196.60,121.13 196.72,121.15 196.84,121.72 196.96,122.32 197.08,122.92 197.20,123.52 197.32,123.57 197.44,123.60 197.56,123.61 197.68,123.59 197.80,123.56 197.92,123.51 198.04,123.44 198.16,123.36 198.28,123.26 198.40,123.14 198.52,123.03 198.64,122.91 198.76,123.19 198.87,123.47 198.99,123.75 199.11,124.03 199.23,124.06 199.35,124.09 199.47,124.12 199.59,124.15 199.71,124.12 199.83,124.08 199.95,124.05 200.07,124.02 200.19,123.84 200.31,123.67 200.43,123.49 200.55,123.32 200.67,123.25 200.79,123.19 200.91,123.12 201.03,123.06 201.15,123.23 201.27,123.40 201.39,123.57 201.51,123.74 201.63,123.76 201.75,123.77 201.87,123.78 201.99,123.79 202.11,123.78 202.23,123.76 202.35,123.75 202.47,123.74 202.59,123.76 202.71,123.78 202.83,123.80 202.95,123.83 203.07,123.79 203.19,123.76 203.31,123.73 203.43,123.70 203.55,123.86 203.67,124.02 203.79,124.17 203.91,124.33 204.03,124.14 204.15,123.94 204.27,123.74 204.39,123.54 204.51,123.31 204.63,123.09 204.75,122.86 204.87,122.64 204.99,122.90 205.11,123.17 205.23,123.44 205.35,123.70 205.47,123.54 205.59,123.37 205.71,123.19 205.83,123.01 205.95,123.25 206.07,123.47 206.19,123.66 206.31,123.80 206.43,123.36 206.55,122.86 206.67,122.27 206.79,121.61 206.91,121.09 207.03,120.50 207.15,119.87 207.27,119.21 207.38,118.64 207.50,118.13 207.62,117.73 207.74,117.47 207.86,117.42 207.98,117.55 208.10,117.86 208.22,118.32 208.34,118.84 208.46,119.45 208.58,120.09 208.70,120.72 208.82,121.23 208.94,121.67 209.06,122.04 209.18,122.32 209.30,122.48 209.42,122.57 209.54,122.60 209.66,122.59 209.78,123.02 209.90,123.42 210.02,123.81 210.14,124.19 210.26,124.22 210.38,124.25 210.50,124.28 210.62,124.31 210.74,124.00 210.86,123.69 210.98,123.38 211.10,123.07 211.22,122.99 211.34,122.91 211.46,122.83 211.58,122.75 211.70,122.94 211.82,123.13 211.94,123.32 212.06,123.51 212.18,123.54 212.30,123.58 212.42,123.61 212.54,123.65 212.66,123.52 212.78,123.39 212.90,123.25 213.02,123.12 213.14,123.38 213.26,123.63 213.38,123.88 213.50,124.14 213.62,124.10 213.74,124.06 213.86,124.02 213.98,123.98 214.10,124.02 214.22,124.05 214.34,124.08 214.46,124.11 214.58,123.93 214.70,123.75 214.82,123.56 214.94,123.38 215.06,123.51 215.18,123.63 215.30,123.76 215.42,123.89 215.54,123.93 215.66,123.97 215.78,124.01 215.90,124.05 216.01,123.83 216.13,123.61 216.25,123.39 216.37,123.18 216.49,123.05 216.61,122.93 216.73,122.80 216.85,122.67 216.97,122.99 217.09,123.30 217.21,123.60 217.33,123.91 217.45,123.70 217.57,123.48 217.69,123.25 217.81,123.00 217.93,123.07 218.05,123.12 218.17,123.13 218.29,123.12 218.41,122.73 218.53,122.31 218.65,121.87 218.77,121.42 218.89,121.32 219.01,121.25 219.13,121.21 219.25,121.23 219.37,121.33 219.49,121.50 219.61,121.74 219.73,122.04 219.85,122.25 219.97,122.50 220.09,122.75 220.21,123.01 220.33,123.32 220.45,123.61 220.57,123.87 220.69,124.09 220.81,123.98 220.93,123.84 221.05,123.68 221.17,123.51 221.29,123.58 221.41,123.64 221.53,123.70 221.65,123.75 221.77,123.86 221.89,123.96 222.01,124.06 222.13,124.16 222.25,124.07 222.37,123.99 222.49,123.90 222.61,123.81 222.73,123.82 222.85,123.84 222.97,123.86 223.09,123.88 223.21,123.66 223.33,123.45 223.45,123.23 223.57,123.02 223.69,123.32 223.81,123.62 223.93,123.92 224.05,124.22 224.17,123.82 224.29,123.41 224.41,123.01 224.52,122.60 224.64,122.85 224.76,123.09 224.88,123.34 225.00,123.58 225.12,123.52 225.24,123.47 225.36,123.41 225.48,123.35 225.60,123.41 225.72,123.48 225.84,123.54 225.96,123.60 226.08,123.43 226.20,123.25 226.32,123.08 226.44,122.90 226.56,122.91 226.68,122.91 226.80,122.92 226.92,122.93 227.04,123.05 227.16,123.18 227.28,123.31 227.40,123.43 227.52,123.47 227.64,123.50 227.76,123.54 227.88,123.58 228.00,123.46 228.12,123.35 228.24,123.23 228.36,123.11 228.48,123.04 228.60,122.96 228.72,122.88 228.84,122.78 228.96,122.94 229.08,123.06 229.20,123.15 229.32,123.17 229.44,122.74 229.56,122.21 229.68,121.58 229.80,120.83 229.92,120.01 230.04,119.09 230.16,118.10 230.28,117.09 230.40,116.44 230.52,115.88 230.64,115.48 230.76,115.28 230.88,115.21 231.00,115.41 231.12,115.86 231.24,116.53 231.36,117.26 231.48,118.12 231.60,119.02 231.72,119.92 231.84,120.53 231.96,121.05 232.08,121.46 232.20,121.75 232.32,122.18 232.44,122.51 232.56,122.75 232.68,122.93 232.80,122.90 232.92,122.83 233.03,122.74 233.15,122.63 233.27,122.70 233.39,122.76 233.51,122.81 233.63,122.86 233.75,123.16 233.87,123.45 233.99,123.74 234.11,124.03 234.23,124.06 234.35,124.08 234.47,124.11 234.59,124.13 234.71,124.10 234.83,124.07 234.95,124.03 235.07,124.00 235.19,124.03 235.31,124.07 235.43,124.10 235.55,124.14 235.67,123.89 235.79,123.64 235.91,123.40 236.03,123.15 236.15,123.08 236.27,123.00 236.39,122.93 236.51,122.86 236.63,122.84 236.75,122.82 236.87,122.80 236.99,122.78 237.11,123.09 237.23,123.39 237.35,123.70 237.47,124.01 237.59,123.72 237.71,123.43 237.83,123.13 237.95,122.84 238.07,123.11 238.19,123.37 238.31,123.63 238.43,123.90 238.55,123.84 238.67,123.79 238.79,123.74 238.91,123.69 239.03,123.54 239.15,123.39 239.27,123.25 239.39,123.10 239.51,123.41 239.63,123.72 239.75,124.02 239.87,124.33 239.99,124.32 240.11,124.31 240.23,124.30 240.35,124.29 240.47,123.92 240.59,123.54 240.71,123.14 240.83,122.73 240.95,122.90 241.07,123.05 241.19,123.16 241.31,123.23 241.43,122.98 241.54,122.70 241.66,122.40 241.78,122.08 241.90,121.70 242.02,121.35 242.14,121.05 242.26,120.81 242.38,120.70 242.50,120.68 242.62,120.74 242.74,120.87 242.86,121.42 242.98,122.00 243.10,122.60 243.22,123.20 243.34,123.30 243.46,123.38 243.58,123.42 243.70,123.43 243.82,123.51 243.94,123.55 244.06,123.58 244.18,123.58 244.30,123.58 244.42,123.58 244.54,123.57 244.66,123.56 244.78,123.69 244.90,123.83 245.02,123.96 245.14,124.09 245.26,123.91 245.38,123.74 245.50,123.56 245.62,123.38 245.74,123.20 245.86,123.02 245.98,122.85 246.10,122.67 246.22,122.94 246.34,123.21 246.46,123.48 246.58,123.75 246.70,123.67 246.82,123.60 246.94,123.53 247.06,123.46 247.18,123.66 247.30,123.86 247.42,124.06 247.54,124.27 247.66,124.19 247.78,124.12 247.90,124.04 248.02,123.97 248.14,123.78 248.26,123.60 248.38,123.41 248.50,123.22 248.62,123.49 248.74,123.75 248.86,124.02 248.98,124.28 249.10,123.91 249.22,123.54 249.34,123.17 249.46,122.80 249.58,122.79 249.70,122.78 249.82,122.77 249.94,122.76 250.06,123.15 250.17,123.53 250.29,123.92 250.41,124.31 250.53,123.91 250.65,123.50 250.77,123.10 250.89,122.70 251.01,122.97 251.13,123.24 251.25,123.51 251.37,123.78 251.49,123.59 251.61,123.39 251.73,123.20 251.85,123.00 251.97,123.00 252.09,122.99 252.21,122.97 252.33,122.93 252.45,123.10 252.57,123.24 252.69,123.36 252.81,123.46 252.93,123.13 253.05,122.78 253.17,122.42 253.29,122.05 253.41,121.88 253.53,121.73 253.65,121.60 253.77,121.53 253.89,121.41 254.01,121.36 254.13,121.36 254.25,121.40 254.37,121.81 254.49,122.24 254.61,122.69 254.73,123.13 254.85,123.07 254.97,123.00 255.09,122.90 255.21,122.77 255.33,122.76 255.45,122.72 255.57,122.67 255.69,122.60 255.81,122.76 255.93,122.91 256.05,123.06 256.17,123.20 256.29,123.27 256.41,123.34 256.53,123.40 256.65,123.47 256.77,123.67 256.89,123.87 257.01,124.08 257.13,124.28 257.25,124.10 257.37,123.91 257.49,123.73 257.61,123.55 257.73,123.62 257.85,123.69 257.97,123.75 258.09,123.82 258.21,123.65 258.33,123.47 258.45,123.30 258.57,123.12 258.68,123.14 258.80,123.16 258.92,123.18 259.04,123.20 259.16,123.25 259.28,123.31 259.40,123.36 259.52,123.50 259.64,123.49 259.76,123.48 259.88,123.47 260.00,123.45 260.12,123.43 260.24,123.41 260.36,123.38 260.48,123.35 260.60,123.32 260.72,123.29 260.84,123.25 260.96,123.21 261.08,123.13 261.20,123.04 261.32,122.93 261.44,122.79 261.56,122.64 261.68,122.46 261.80,122.25 261.92,122.00 262.04,121.90 262.16,121.80 262.28,121.72 262.40,121.66 262.52,121.16 262.64,120.58 262.76,119.92 262.88,119.16 263.00,118.75 263.12,118.33 263.24,117.89 263.36,117.46 263.48,116.91 263.60,116.35 263.72,115.78 263.84,115.20 263.96,114.91 264.08,114.65 264.20,114.43 264.32,114.27 264.44,113.99 264.56,113.76 264.68,113.58 264.80,113.44 264.92,112.86 265.04,112.32 265.16,111.83 265.28,111.39 265.40,112.23 265.52,113.12 265.64,114.04 265.76,114.98 265.88,115.13 266.00,115.32 266.12,115.54 266.24,115.80 266.36,116.29 266.48,116.79 266.60,117.29 266.72,117.78 266.84,118.09 266.96,118.41 267.08,118.73 267.19,119.05 267.31,119.06 267.43,119.12 267.55,119.23 267.67,119.37 267.79,120.04 267.91,120.64 268.03,121.16 268.15,121.62 268.27,121.68 268.39,121.77 268.51,121.87 268.63,121.98 268.75,122.23 268.87,122.45 268.99,122.64 269.11,122.81 269.23,122.88 269.35,122.95 269.47,123.02 269.59,123.08 269.71,123.16 269.83,123.23 269.95,123.29 270.07,123.34 270.19,123.37 270.31,123.41 270.43,123.43 270.55,123.45 270.67,123.47 270.79,123.48 270.91,123.49 271.03,123.99 271.15,123.93 271.27,123.87 271.39,123.82 271.51,123.76 271.63,123.53 271.75,123.30 271.87,123.06 271.99,122.83 272.11,123.23 272.23,123.62 272.35,124.02 272.47,124.41 272.59,124.19 272.71,123.97 272.83,123.75 272.95,123.53 273.07,123.65 273.19,123.78 273.31,123.90 273.43,124.02 273.55,123.77 273.67,123.52 273.79,123.28 273.91,123.03 274.03,123.22 274.15,123.42 274.27,123.62 274.39,123.82 274.51,123.82 274.63,123.83 274.75,123.83 274.87,123.83 274.99,123.77 275.11,123.70 275.23,123.62 275.35,123.51 275.47,123.34 275.59,123.14 275.70,122.89 275.82,122.60 275.94,122.22 276.06,121.81 276.18,121.36 276.30,120.91 276.42,120.77 276.54,120.67 276.66,120.63 276.78,120.67 276.90,120.36 277.02,120.15 277.14,120.05 277.26,120.02 277.38,120.65 277.50,121.33 277.62,122.02 277.74,122.71 277.86,122.96 277.98,123.17 278.10,123.33 278.22,123.46 278.34,123.69 278.46,123.89 278.58,124.06 278.70,124.20 278.82,124.23 278.94,124.25 279.06,124.26 279.18,124.27 279.30,123.95 279.42,123.64 279.54,123.32 279.66,123.01 279.78,123.03 279.90,123.06 280.02,123.08 280.14,123.11 280.26,123.37 280.38,123.62 280.50,123.88 280.62,124.14 280.74,124.14 280.86,124.14 280.98,124.13 281.10,124.13 281.22,124.02 281.34,123.92 281.46,123.81 281.58,123.70 281.70,123.54 281.82,123.39 281.94,123.23 282.06,123.08 282.18,123.04 282.30,123.01 282.42,122.97 282.54,122.94 282.66,122.97 282.78,123.00 282.90,123.03 283.02,123.07 283.14,123.14 283.26,123.22 283.38,123.29 283.50,123.36 283.62,123.58 283.74,123.79 283.86,124.00 283.98,124.21 284.10,124.09 284.21,123.97 284.33,123.85 284.45,123.73 284.57,123.83 284.69,123.93 284.81,124.03 284.93,124.12 285.05,123.96 285.17,123.81 285.29,123.65 285.41,123.49 285.53,123.47 285.65,123.45 285.77,123.42 285.89,123.40 286.01,123.56 286.13,123.72 286.25,123.87 286.37,123.99 286.49,123.89 286.61,123.74 286.73,123.52 286.85,123.23 286.97,122.59 287.09,121.82 287.21,120.89 287.33,119.80 287.45,119.16 287.57,118.37 287.69,117.48 287.81,116.55 287.93,114.94 288.05,113.45 288.17,112.18 288.29,111.20 288.41,110.90 288.53,110.97 288.65,111.40 288.77,112.15 288.89,113.17 289.01,114.35 289.13,115.60 289.25,116.84 289.37,118.30 289.49,119.64 289.61,120.81 289.73,121.82 289.85,122.32 289.97,122.67 290.09,122.91 290.21,123.05 290.33,123.18 290.45,123.26 290.57,123.31 290.69,123.33 290.81,123.33 290.93,123.32 291.05,123.30 291.17,123.28 291.29,123.12 291.41,122.96 291.53,122.79 291.65,122.63 291.77,122.77 291.89,122.91 292.01,123.05 292.13,123.18 292.25,123.37 292.37,123.55 292.49,123.74 292.61,123.92 292.73,123.66 292.84,123.39 292.96,123.12 293.08,122.85 293.20,123.03 293.32,123.21 293.44,123.39 293.56,123.57 293.68,123.51 293.80,123.46 293.92,123.40 294.04,123.35 294.16,123.29 294.28,123.23 294.40,123.17 294.52,123.11 294.64,123.45 294.76,123.80 294.88,124.14 295.00,124.49 295.12,124.12 295.24,123.76 295.36,123.39 295.48,123.02 295.60,123.08 295.72,123.13 295.84,123.18 295.96,123.23 296.08,123.31 296.20,123.39 296.32,123.47 296.44,123.56 296.56,123.54 296.68,123.53 296.80,123.51 296.92,123.49 297.04,123.52 297.16,123.55 297.28,123.58 297.40,123.61 297.52,123.73 297.64,123.85 297.76,123.96 297.88,124.07 298.00,123.87 298.12,123.65 298.24,123.39 298.36,123.10 298.48,123.15 298.60,123.13 298.72,123.03 298.84,122.86 298.96,122.15 299.08,121.37 299.20,120.54 299.32,119.69 299.44,119.02 299.56,118.40 299.68,117.89 299.80,117.53 299.92,117.49 300.04,117.65 300.16,117.97 300.28,118.46 300.40,118.91 300.52,119.44 300.64,120.00 300.76,120.57 300.88,120.96 301.00,121.29 301.12,121.54 301.24,121.72 301.35,122.03 301.47,122.28 301.59,122.46 301.71,122.60 301.83,123.03 301.95,123.44 302.07,123.83 302.19,124.21 302.31,123.91 302.43,123.60 302.55,123.29 302.67,122.98 302.79,123.06 302.91,123.14 303.03,123.22 303.15,123.30 303.27,123.58 303.39,123.85 303.51,124.12 303.63,124.40 303.75,124.25 303.87,124.10 303.99,123.95 304.11,123.81 304.23,123.87 304.35,123.93 304.47,123.99 304.59,124.05 304.71,124.12 304.83,124.20 304.95,124.27 305.07,124.34 305.19,124.13 305.31,123.91 305.43,123.69 305.55,123.47 305.67,123.28 305.79,123.09 305.91,122.91 306.03,122.72 306.15,123.01 306.27,123.30 306.39,123.59 306.51,123.88 306.63,123.62 306.75,123.36 306.87,123.09 306.99,122.83 307.11,122.92 307.23,123.00 307.35,123.09 307.47,123.17 307.59,123.44 307.71,123.70 307.83,123.97 307.95,124.24 308.07,123.89 308.19,123.55 308.31,123.20 308.43,122.86 308.55,122.98 308.67,123.10 308.79,123.22 308.91,123.34 309.03,123.19 309.15,123.03 309.27,122.86 309.39,122.69 309.51,122.77 309.63,122.84 309.75,122.89 309.86,122.92 309.98,122.80 310.10,122.65 310.22,122.46 310.34,122.22 310.46,122.14 310.58,122.03 310.70,121.88 310.82,121.72 310.94,121.17 311.06,120.65 311.18,120.18 311.30,119.80 311.42,119.67 311.54,119.64 311.66,119.71 311.78,119.86 311.90,120.18 312.02,120.53 312.14,120.91 312.26,121.28 312.38,121.81 312.50,122.29 312.62,122.74 312.74,123.14 312.86,123.14 312.98,123.11 313.10,123.04 313.22,122.94 313.34,123.11 313.46,123.27 313.58,123.42 313.70,123.56 313.82,123.74 313.94,123.92 314.06,124.10 314.18,124.28 314.30,124.32 314.42,124.35 314.54,124.38 314.66,124.41 314.78,124.40 314.90,124.38 315.02,124.36 315.14,124.34 315.26,124.29 315.38,124.23 315.50,124.17 315.62,124.11 315.74,124.13 315.86,124.15 315.98,124.17 316.10,124.19 316.22,124.03 316.34,123.87 316.46,123.71 316.58,123.55 316.70,123.45 316.82,123.35 316.94,123.26 317.06,123.16 317.18,123.24 317.30,123.31 317.42,123.39 317.54,123.47 317.66,123.52 317.78,123.58 317.90,123.63 318.02,123.69 318.14,123.58 318.26,123.47 318.37,123.36 318.49,123.26 318.61,123.42 318.73,123.58 318.85,123.75 318.97,123.91 319.09,123.84 319.21,123.76 319.33,123.68 319.45,123.61 319.57,123.47 319.69,123.33 319.81,123.19 319.93,123.05 320.05,123.22 320.17,123.39 320.29,123.56 320.41,123.72 320.53,123.82 320.65,123.92 320.77,124.01 320.89,124.09 321.01,123.71 321.13,123.31 321.25,122.87 321.37,122.39 321.49,122.29 321.61,122.12 321.73,121.88 321.85,121.56 321.97,121.24 322.09,120.85 322.21,120.41 322.33,119.95 322.45,119.34 322.57,118.79 322.69,118.35 322.81,118.05 322.93,117.85 323.05,117.83 323.17,117.98 323.29,118.29 323.41,118.77 323.53,119.33 323.65,119.92 323.77,120.51 323.89,121.27 324.01,121.96 324.13,122.58 324.25,123.12 324.37,123.51 324.49,123.82 324.61,124.08 324.73,124.30 324.85,124.27 324.97,124.22 325.09,124.15 325.21,124.07 325.33,123.81 325.45,123.54 325.57,123.27 325.69,123.00 325.81,123.30 325.93,123.61 326.05,123.91 326.17,124.22 326.29,124.07 326.41,123.92 326.53,123.77 326.65,123.62 326.77,123.74 326.89,123.87 327.00,123.99 327.12,124.12 327.24,124.11 327.36,124.11 327.48,124.10 327.60,124.09 327.72,124.11 327.84,124.13 327.96,124.15 328.08,124.17 328.20,124.06 328.32,123.95 328.44,123.83 328.56,123.72 328.68,123.84 328.80,123.95 328.92,124.06 329.04,124.17 329.16,124.24 329.28,124.31 329.40,124.37 329.52,124.44 329.64,124.40 329.76,124.36 329.88,124.32 330.00,124.28 330.12,124.26 330.24,124.23 330.36,124.20 330.48,124.17 330.60,124.02 330.72,123.87 330.84,123.71 330.96,123.56 331.08,123.76 331.20,123.97 331.32,124.17 331.44,124.38 331.56,124.40 331.68,124.41 331.80,124.43 331.92,124.45 332.04,124.24 332.16,124.03 332.28,123.82 332.40,123.60 332.52,123.59 332.64,123.56 332.76,123.51 332.88,123.43 333.00,123.14 333.12,122.81 333.24,122.43 333.36,121.98 333.48,121.92 333.60,121.82 333.72,121.67 333.84,121.51 333.96,120.89 334.08,120.31 334.20,119.81 334.32,119.42 334.44,119.33 334.56,119.37 334.68,119.55 334.80,119.84 334.92,120.40 335.04,121.02 335.16,121.66 335.28,122.31 335.40,122.29 335.51,122.24 335.63,122.12 335.75,121.94 335.87,122.51 335.99,123.02 336.11,123.50 336.23,123.93 336.35,124.05 336.47,124.14 336.59,124.22 336.71,124.30 336.83,124.12 336.95,123.95 337.07,123.77 337.19,123.59 337.31,123.74 337.43,123.88 337.55,124.03 337.67,124.18 337.79,123.96 337.91,123.74 338.03,123.52 338.15,123.31 338.27,123.44 338.39,123.57 338.51,123.70 338.63,123.83 338.75,123.94 338.87,124.04 338.99,124.15 339.11,124.26 339.23,124.29 339.35,124.33 339.47,124.36 339.59,124.39 339.71,124.07 339.83,123.75 339.95,123.43 340.07,123.11 340.19,123.32 340.31,123.54 340.43,123.75 340.55,123.97 340.67,123.72 340.79,123.48 340.91,123.24 341.03,122.99 341.15,123.14 341.27,123.30 341.39,123.45 341.51,123.61 341.63,123.38 341.75,123.16 341.87,122.94 341.99,122.71 342.11,123.02 342.23,123.32 342.35,123.62 342.47,123.92 342.59,123.94 342.71,123.97 342.83,123.99 342.95,124.02 343.07,124.01 343.19,124.00 343.31,123.99 343.43,123.98 343.55,123.72 343.67,123.45 343.79,123.18 343.91,122.90 344.02,122.96 344.14,123.01 344.26,123.04 344.38,123.03 344.50,123.04 344.62,123.01 344.74,122.92 344.86,122.78 344.98,122.57 345.10,122.31 345.22,122.02 345.34,121.72 345.46,121.03 345.58,120.38 345.70,119.80 345.82,119.32 345.94,119.10 346.06,119.00 346.18,119.02 346.30,119.14 346.42,119.66 346.54,120.24 346.66,120.84 346.78,121.44 346.90,122.11 347.02,122.74 347.14,123.32 347.26,123.85 347.38,124.02 347.50,124.15 347.62,124.25 347.74,124.31 347.86,124.33 347.98,124.33 348.10,124.32 348.22,124.30 348.34,124.27 348.46,124.24 348.58,124.20 348.70,124.17 348.82,124.23 348.94,124.30 349.06,124.36 349.18,124.42 349.30,124.42 349.42,124.41 349.54,124.40 349.66,124.39 349.78,124.10 349.90,123.82 350.02,123.53 350.14,123.25 350.26,123.13 350.38,123.01 350.50,122.89 350.62,122.78 350.74,123.11 350.86,123.44 350.98,123.78 351.10,124.11 351.22,123.74 351.34,123.37 351.46,123.01 351.58,122.64" fill="none" stroke="#111" stroke-width="1.3" stroke-linejoin="round" />
<circle cx="46.35" cy="80.42" r="2.15" fill="none" stroke="#111" stroke-width="0.85"/>
<circle cx="57.86" cy="90.10" r="2.15" fill="none" stroke="#111" stroke-width="0.85"/>
<circle cx="69.37" cy="104.18" r="2.15" fill="none" stroke="#111" stroke-width="0.85"/>
<circle cx="80.87" cy="95.97" r="2.15" fill="none" stroke="#111" stroke-width="0.85"/>
<circle cx="92.38" cy="72.65" r="2.15" fill="none" stroke="#111" stroke-width="0.85"/>
<circle cx="103.89" cy="80.27" r="2.15" fill="none" stroke="#111" stroke-width="0.85"/>
<circle cx="115.39" cy="71.77" r="2.15" fill="none" stroke="#111" stroke-width="0.85"/>
<circle cx="126.90" cy="69.42" r="2.15" fill="none" stroke="#111" stroke-width="0.85"/>
<circle cx="138.41" cy="66.19" r="2.15" fill="none" stroke="#111" stroke-width="0.85"/>
<circle cx="149.91" cy="61.79" r="2.15" fill="none" stroke="#111" stroke-width="0.85"/>
<circle cx="161.42" cy="93.33" r="2.15" fill="none" stroke="#111" stroke-width="0.85"/>
<circle cx="172.93" cy="96.99" r="2.15" fill="none" stroke="#111" stroke-width="0.85"/>
<circle cx="184.43" cy="99.63" r="2.15" fill="none" stroke="#111" stroke-width="0.85"/>
<circle cx="195.94" cy="65.46" r="2.15" fill="none" stroke="#111" stroke-width="0.85"/>
<circle cx="207.44" cy="69.13" r="2.15" fill="none" stroke="#111" stroke-width="0.85"/>
<circle cx="218.95" cy="71.47" r="2.15" fill="none" stroke="#111" stroke-width="0.85"/>
<circle cx="230.46" cy="74.70" r="2.15" fill="none" stroke="#111" stroke-width="0.85"/>
<circle cx="241.96" cy="71.03" r="2.15" fill="none" stroke="#111" stroke-width="0.85"/>
<circle cx="253.47" cy="67.81" r="2.15" fill="none" stroke="#111" stroke-width="0.85"/>
<circle cx="264.98" cy="70.89" r="2.15" fill="none" stroke="#111" stroke-width="0.85"/>
<circle cx="276.48" cy="86.29" r="2.15" fill="none" stroke="#111" stroke-width="0.85"/>
<circle cx="287.99" cy="64.43" r="2.15" fill="none" stroke="#111" stroke-width="0.85"/>
<circle cx="299.50" cy="58.13" r="2.15" fill="none" stroke="#111" stroke-width="0.85"/>
<circle cx="311.00" cy="54.90" r="2.15" fill="none" stroke="#111" stroke-width="0.85"/>
<circle cx="322.51" cy="57.83" r="2.15" fill="none" stroke="#111" stroke-width="0.85"/>
<circle cx="334.02" cy="70.74" r="2.15" fill="none" stroke="#111" stroke-width="0.85"/>
<circle cx="345.52" cy="33.93" r="2.15" fill="none" stroke="#111" stroke-width="0.85"/>
<polygon points="104.19,85.06 104.90,86.78 106.75,86.93 105.34,88.14 105.77,89.94 104.19,88.98 102.60,89.94 103.03,88.14 101.62,86.93 103.47,86.78" fill="#000"/>
<polygon points="115.69,71.13 116.41,72.84 118.26,72.99 116.85,74.20 117.28,76.01 115.69,75.04 114.11,76.01 114.54,74.20 113.12,72.99 114.98,72.84" fill="#000"/>
<polygon points="127.20,72.45 127.91,74.16 129.77,74.31 128.35,75.52 128.79,77.33 127.20,76.36 125.61,77.33 126.04,75.52 124.63,74.31 126.48,74.16" fill="#000"/>
<polygon points="138.71,76.70 139.42,78.42 141.27,78.57 139.86,79.78 140.29,81.58 138.71,80.61 137.12,81.58 137.55,79.78 136.14,78.57 137.99,78.42" fill="#000"/>
<polygon points="150.21,42.82 150.93,44.54 152.78,44.69 151.37,45.90 151.80,47.70 150.21,46.73 148.62,47.70 149.06,45.90 147.64,44.69 149.50,44.54" fill="#000"/>
<polygon points="161.72,98.99 162.43,100.71 164.29,100.86 162.87,102.07 163.31,103.88 161.72,102.91 160.13,103.88 160.56,102.07 159.15,100.86 161.00,100.71" fill="#000"/>
<polygon points="173.23,87.55 173.94,89.27 175.79,89.42 174.38,90.63 174.81,92.44 173.23,91.47 171.64,92.44 172.07,90.63 170.66,89.42 172.51,89.27" fill="#000"/>
<polygon points="184.73,107.35 185.45,109.07 187.30,109.22 185.89,110.43 186.32,112.24 184.73,111.27 183.14,112.24 183.58,110.43 182.16,109.22 184.02,109.07" fill="#000"/>
<polygon points="196.24,80.22 196.95,81.94 198.81,82.09 197.39,83.30 197.83,85.10 196.24,84.14 194.65,85.10 195.08,83.30 193.67,82.09 195.52,81.94" fill="#000"/>
<polygon points="207.74,72.45 208.46,74.16 210.31,74.31 208.90,75.52 209.33,77.33 207.74,76.36 206.16,77.33 206.59,75.52 205.18,74.31 207.03,74.16" fill="#000"/>
<polygon points="242.26,78.31 242.98,80.03 244.83,80.18 243.42,81.39 243.85,83.20 242.26,82.23 240.68,83.20 241.11,81.39 239.70,80.18 241.55,80.03" fill="#000"/>
<polygon points="253.77,43.26 254.48,44.98 256.34,45.13 254.93,46.34 255.36,48.14 253.77,47.17 252.18,48.14 252.62,46.34 251.20,45.13 253.06,44.98" fill="#000"/>
<polygon points="265.28,46.78 265.99,48.50 267.85,48.65 266.43,49.86 266.86,51.66 265.28,50.70 263.69,51.66 264.12,49.86 262.71,48.65 264.56,48.50" fill="#000"/>
<polygon points="276.78,70.83 277.50,72.55 279.35,72.70 277.94,73.91 278.37,75.72 276.78,74.75 275.20,75.72 275.63,73.91 274.22,72.70 276.07,72.55" fill="#000"/>
<polygon points="288.29,53.09 289.00,54.80 290.86,54.95 289.45,56.16 289.88,57.97 288.29,57.00 286.70,57.97 287.13,56.16 285.72,54.95 287.58,54.80" fill="#000"/>
<polygon points="322.81,62.77 323.52,64.48 325.38,64.63 323.97,65.84 324.40,67.65 322.81,66.68 321.22,67.65 321.65,65.84 320.24,64.63 322.10,64.48" fill="#000"/>
<polygon points="334.32,74.94 335.03,76.66 336.88,76.81 335.47,78.02 335.90,79.82 334.32,78.86 332.73,79.82 333.16,78.02 331.75,76.81 333.60,76.66" fill="#000"/>
<polyline points="40.00,213.83 40.34,213.85 40.68,213.87 41.02,214.07 41.36,213.43 41.70,214.17 42.01,214.17 42.31,213.98 42.62,213.74 42.92,213.42 43.23,212.83 43.54,212.40 43.84,212.23 44.15,210.84 44.45,209.83 44.76,208.70 45.06,207.18 45.37,205.94 45.68,203.87 45.98,202.77 46.29,202.05 46.59,200.43 46.90,200.63 47.20,201.06 47.51,203.31 47.81,204.64 48.12,206.31 48.42,209.00 48.73,210.69 49.03,212.87 49.34,215.33 49.64,216.06 49.95,216.59 50.26,218.59 50.56,218.82 50.87,220.48 51.17,220.95 51.48,221.80 51.78,222.07 52.09,222.60 52.39,223.41 52.70,222.95 53.00,223.78 53.31,222.84 53.61,222.54 53.92,222.16 54.22,222.30 54.53,220.72 54.84,220.19 55.14,218.36 55.45,217.24 55.75,214.96 56.06,213.65 56.36,210.45 56.67,207.83 56.98,204.86 57.28,201.99 57.59,199.20 57.89,196.71 58.20,196.62 58.53,197.31 58.85,199.14 59.17,201.19 59.50,203.66 59.83,205.49 60.15,206.80 60.47,207.31 60.80,207.89 61.10,207.83 61.40,207.24 61.70,206.80 62.00,205.48 62.30,203.86 62.60,204.36 62.94,203.73 63.28,205.20 63.62,205.38 63.96,206.57 64.30,206.56 64.64,206.96 64.98,207.03 65.32,206.24 65.66,206.03 66.00,204.74 66.33,204.17 66.65,202.83 66.97,202.56 67.30,200.85 67.62,199.48 67.95,199.19 68.27,198.92 68.60,198.76 68.90,198.67 69.21,200.17 69.51,201.53 69.82,202.60 70.12,203.08 70.42,205.07 70.73,205.62 71.03,207.27 71.33,209.11 71.64,209.18 71.94,210.52 72.25,210.80 72.55,210.81 72.85,212.15 73.16,212.78 73.46,213.24 73.77,212.87 74.07,214.08 74.37,214.58 74.68,214.69 74.98,215.64 75.28,215.09 75.59,215.00 75.89,215.30 76.20,214.86 76.50,215.31 76.81,215.60 77.11,215.03 77.42,215.43 77.73,214.29 78.04,213.99 78.34,212.96 78.65,211.26 78.96,210.94 79.26,209.22 79.57,208.22 79.88,207.35 80.19,205.27 80.49,204.62 80.80,203.73 81.10,204.69 81.40,204.94 81.70,207.04 82.00,207.82 82.30,208.84 82.60,210.81 82.90,212.72 83.20,213.43 83.50,214.48 83.80,215.63 84.10,216.68 84.40,217.44 84.70,218.73 85.00,218.87 85.30,219.06 85.60,219.95 85.90,220.98 86.20,220.69 86.50,220.71 86.80,221.14 87.10,221.92 87.40,221.32 87.70,221.41 88.01,221.13 88.32,221.33 88.64,220.38 88.95,220.10 89.26,218.80 89.57,216.85 89.88,216.22 90.19,214.00 90.51,212.52 90.82,210.54 91.13,207.59 91.44,204.00 91.75,201.47 92.06,198.66 92.38,195.07 92.69,192.83 93.00,191.39 93.31,190.91 93.61,192.82 93.92,194.64 94.22,197.22 94.53,200.21 94.84,201.68 95.14,202.77 95.45,205.29 95.75,207.24 96.06,208.01 96.36,209.46 96.67,209.90 96.98,210.09 97.28,211.05 97.59,211.67 97.89,211.58 98.20,211.99 98.50,211.59 98.80,212.13 99.10,211.10 99.40,211.33 99.70,210.02 100.00,209.08 100.30,208.24 100.60,207.50 100.90,205.69 101.20,203.93 101.50,202.30 101.80,200.49 102.10,198.01 102.40,195.59 102.70,192.80 103.00,189.13 103.30,187.01 103.60,184.44 103.90,182.61 104.20,181.94 104.51,182.97 104.82,184.49 105.14,187.99 105.45,191.64 105.76,194.14 106.07,197.51 106.38,199.43 106.69,200.93 107.01,203.53 107.32,204.62 107.63,206.51 107.94,208.04 108.25,208.47 108.56,209.64 108.88,209.55 109.19,209.42 109.50,209.96 109.80,209.24 110.11,209.91 110.41,210.27 110.72,209.52 111.02,208.44 111.33,208.79 111.63,207.64 111.93,207.68 112.24,206.80 112.54,206.15 112.85,205.35 113.15,204.17 113.46,203.68 113.76,201.72 114.07,201.09 114.37,198.76 114.67,196.31 114.98,195.30 115.28,193.86 115.59,191.54 115.89,189.50 116.20,188.63 116.50,188.59 116.83,188.63 117.15,189.36 117.47,191.75 117.80,193.71 118.12,196.09 118.45,198.56 118.77,200.11 119.10,202.21 119.42,202.81 119.75,203.21 120.08,204.07 120.40,205.11 120.72,204.58 121.05,205.16 121.38,204.76 121.70,204.68 122.01,204.73 122.31,204.03 122.62,204.45 122.92,204.00 123.23,203.85 123.54,203.79 123.84,202.87 124.15,201.51 124.45,201.45 124.76,201.07 125.06,199.57 125.37,199.27 125.68,197.25 125.98,196.44 126.29,195.02 126.59,194.53 126.90,194.55 127.21,196.21 127.51,197.05 127.82,199.56 128.12,201.08 128.43,203.29 128.74,204.90 129.04,206.41 129.35,207.97 129.65,209.84 129.96,210.28 130.26,211.40 130.57,211.89 130.88,211.79 131.18,212.87 131.49,212.34 131.79,213.33 132.10,213.15 132.40,213.42 132.71,213.03 133.01,213.22 133.32,212.89 133.62,212.77 133.93,213.04 134.23,212.01 134.53,212.30 134.84,210.93 135.14,211.07 135.45,209.49 135.75,207.93 136.06,207.66 136.36,206.26 136.67,205.44 136.97,203.38 137.27,202.79 137.58,202.13 137.88,199.78 138.19,198.02 138.49,196.92 138.80,196.08 139.10,195.89 139.41,196.16 139.71,197.88 140.02,199.93 140.32,201.48 140.63,202.44 140.94,204.94 141.24,207.15 141.55,207.73 141.85,208.78 142.16,209.83 142.46,210.23 142.77,211.29 143.08,211.12 143.38,212.17 143.69,212.02 143.99,212.55 144.30,212.21 144.62,212.41 144.93,211.61 145.25,211.60 145.57,210.17 145.88,209.89 146.20,208.89 146.52,207.09 146.83,204.92 147.15,203.06 147.47,199.87 147.78,197.69 148.10,193.85 148.42,190.93 148.73,187.21 149.05,183.04 149.37,178.64 149.68,175.80 150.00,172.90 150.31,172.52 150.62,172.59 150.93,173.75 151.24,175.02 151.56,176.92 151.87,178.86 152.18,180.42 152.49,182.04 152.80,183.94 153.11,185.52 153.42,187.46 153.73,189.93 154.04,190.98 154.36,192.50 154.67,194.47 154.98,195.33 155.29,197.77 155.60,198.60 155.91,200.56 156.22,201.29 156.53,202.63 156.84,203.61 157.15,204.07 157.45,204.20 157.76,205.01 158.07,205.18 158.38,205.51 158.69,205.71 159.00,205.60 159.32,204.89 159.65,205.18 159.97,205.43 160.30,204.09 160.62,202.91 160.95,202.58 161.28,202.83 161.60,201.92 161.92,202.15 162.24,203.17 162.55,204.29 162.87,205.38 163.19,206.85 163.51,207.24 163.83,207.57 164.15,208.40 164.46,208.75 164.78,208.96 165.10,208.88 165.40,209.11 165.70,208.38 166.00,209.03 166.30,209.33 166.60,208.77 166.90,209.41 167.20,208.35 167.50,208.41 167.80,207.75 168.10,207.07 168.40,206.94 168.70,206.96 169.00,205.92 169.30,205.89 169.60,204.68 169.90,203.28 170.20,203.20 170.50,202.10 170.80,201.48 171.10,200.62 171.40,199.51 171.70,197.80 172.00,197.45 172.30,196.89 172.60,196.10 172.90,195.87 173.21,196.80 173.51,198.47 173.82,199.40 174.12,201.05 174.43,202.41 174.74,203.24 175.04,204.97 175.35,205.33 175.65,206.95 175.96,207.09 176.26,208.39 176.57,209.12 176.88,209.34 177.18,209.51 177.49,209.86 177.79,210.30 178.10,210.06 178.41,210.68 178.71,210.02 179.01,209.95 179.32,209.81 179.62,209.07 179.93,209.42 180.23,208.56 180.54,208.82 180.84,208.08 181.15,208.00 181.45,206.74 181.76,206.94 182.06,206.69 182.37,205.62 182.67,205.43 182.98,204.07 183.28,203.35 183.59,202.56 183.89,202.47 184.20,202.00 184.50,202.83 184.80,203.08 185.10,204.19 185.40,205.10 185.70,205.95 186.00,207.17 186.30,208.14 186.60,209.01 186.90,210.15 187.20,210.59 187.50,210.71 187.80,211.92 188.10,211.67 188.40,213.01 188.70,213.55 189.00,213.87 189.30,214.94 189.60,214.52 189.90,215.56 190.20,214.97 190.50,214.49 190.80,215.24 191.10,216.09 191.40,215.33 191.70,214.95 192.01,215.19 192.31,214.87 192.62,214.66 192.92,214.50 193.23,213.53 193.54,212.22 193.84,211.70 194.15,211.30 194.45,209.06 194.76,208.04 195.06,205.55 195.37,203.54 195.68,201.20 195.98,199.66 196.29,196.68 196.59,194.47 196.90,194.26 197.21,194.96 197.52,195.67 197.84,197.98 198.15,199.28 198.46,201.92 198.77,202.88 199.08,204.22 199.39,205.80 199.71,207.08 200.02,207.99 200.33,208.61 200.64,209.52 200.95,209.79 201.26,210.45 201.58,210.20 201.89,210.87 202.20,210.15 202.50,210.89 202.80,210.44 203.10,210.51 203.40,210.67 203.70,209.67 204.00,209.10 204.30,208.30 204.60,207.94 204.90,206.32 205.20,205.92 205.50,203.69 205.80,202.17 206.10,200.37 206.40,198.07 206.70,196.33 207.00,194.64 207.30,191.85 207.60,190.23 207.90,188.45 208.20,188.31 208.51,188.78 208.81,190.13 209.12,192.73 209.42,195.15 209.73,197.57 210.04,199.57 210.34,201.72 210.65,203.02 210.95,204.95 211.26,206.41 211.56,207.29 211.87,207.66 212.18,208.83 212.48,208.65 212.79,209.68 213.09,210.59 213.40,209.98 213.71,209.24 214.02,209.89 214.33,209.33 214.64,209.44 214.95,209.70 215.26,208.60 215.57,208.10 215.88,207.33 216.19,206.31 216.50,205.58 216.80,203.82 217.11,203.32 217.42,202.20 217.73,200.52 218.04,198.79 218.35,197.16 218.66,194.68 218.97,193.51 219.28,191.44 219.59,190.99 219.90,190.22 220.22,192.01 220.54,193.98 220.86,196.33 221.18,198.60 221.50,201.25 221.82,203.92 222.14,205.30 222.46,206.53 222.78,208.25 223.10,208.80 223.42,210.19 223.74,210.58 224.06,211.25 224.38,211.14 224.70,211.61 225.01,212.06 225.32,211.40 225.63,210.41 225.94,210.62 226.26,209.17 226.57,209.18 226.88,207.38 227.19,207.00 227.50,205.54 227.81,203.99 228.12,201.67 228.43,200.11 228.74,198.14 229.06,195.38 229.37,192.20 229.68,190.63 229.99,188.42 230.30,188.47 230.61,189.40 230.91,190.86 231.22,193.92 231.52,195.78 231.83,198.37 232.14,200.57 232.44,202.55 232.75,204.44 233.05,205.56 233.36,207.36 233.66,208.49 233.97,209.38 234.28,210.89 234.58,210.62 234.89,210.46 235.19,211.21 235.50,212.06 235.80,211.34 236.10,210.78 236.40,211.17 236.70,211.55 237.00,210.75 237.30,210.71 237.60,210.05 237.90,209.10 238.20,209.04 238.50,209.02 238.80,207.70 239.10,207.50 239.40,206.01 239.70,204.99 240.00,203.94 240.30,202.38 240.60,201.49 240.90,199.53 241.20,198.63 241.50,196.73 241.80,195.42 242.10,193.05 242.40,192.42 242.70,191.55 243.00,191.43 243.30,191.43 243.60,193.71 243.90,196.38 244.20,197.79 244.50,200.35 244.80,201.83 245.10,203.57 245.40,205.24 245.70,207.05 246.00,207.99 246.30,208.74 246.60,210.12 246.90,210.72 247.20,211.66 247.50,212.19 247.80,212.68 248.10,212.42 248.40,213.22 248.70,213.24 249.00,213.36 249.31,213.59 249.62,213.05 249.93,212.89 250.24,212.16 250.56,210.86 250.87,210.53 251.18,208.73 251.49,208.06 251.80,206.98 252.11,204.66 252.42,201.99 252.73,200.26 253.04,196.89 253.36,194.91 253.67,192.05 253.98,189.51 254.29,187.53 254.60,186.96 254.92,188.11 255.24,189.39 255.56,191.79 255.88,194.51 256.20,197.07 256.52,199.40 256.84,201.24 257.16,203.15 257.48,205.39 257.80,205.76 258.12,205.87 258.44,207.34 258.76,207.77 259.08,208.04 259.40,208.24 259.72,207.88 260.04,206.93 260.35,206.70 260.67,205.51 260.99,204.17 261.31,202.33 261.63,200.09 261.95,197.25 262.26,194.97 262.58,193.36 262.90,190.90 263.22,189.91 263.54,189.79 263.85,190.25 264.17,190.63 264.49,190.41 264.81,191.66 265.13,191.33 265.45,192.34 265.76,192.92 266.08,192.64 266.40,192.72 266.72,192.64 267.04,193.16 267.35,192.34 267.67,192.16 267.99,191.66 268.31,190.64 268.63,190.62 268.95,189.38 269.26,189.67 269.58,189.75 269.90,190.42 270.24,192.24 270.58,194.12 270.92,197.21 271.26,199.27 271.60,201.38 271.94,203.43 272.28,204.05 272.62,205.64 272.96,206.77 273.30,206.33 273.62,205.78 273.94,205.93 274.25,206.16 274.57,204.50 274.89,203.86 275.21,201.87 275.53,200.57 275.85,198.15 276.16,195.87 276.48,194.56 276.80,193.92 277.10,193.53 277.41,194.47 277.71,195.44 278.02,196.68 278.32,198.36 278.63,200.45 278.93,201.11 279.23,201.94 279.54,203.45 279.84,205.12 280.15,205.40 280.45,206.22 280.76,206.98 281.06,208.05 281.37,208.19 281.67,209.19 281.97,209.07 282.28,209.35 282.58,209.65 282.89,209.95 283.19,209.96 283.50,210.23 283.80,209.99 284.10,210.02 284.40,209.64 284.70,209.21 285.00,208.71 285.30,208.55 285.60,207.03 285.90,206.37 286.20,204.48 286.50,202.62 286.80,200.97 287.10,198.67 287.40,196.76 287.70,194.75 288.00,193.41 288.30,192.35 288.62,193.57 288.95,194.91 289.27,197.13 289.60,198.65 289.93,201.23 290.25,203.38 290.57,204.31 290.90,204.99 291.23,206.20 291.55,206.24 291.88,207.12 292.20,206.64 292.52,207.40 292.85,207.73 293.18,207.37 293.50,207.60 293.82,207.15 294.15,206.22 294.48,206.59 294.80,206.55 295.10,205.36 295.40,203.66 295.70,203.53 296.00,201.85 296.30,201.45 296.60,201.01 296.90,199.33 297.20,198.71 297.50,197.21 297.80,195.77 298.10,195.10 298.40,194.48 298.70,193.13 299.00,193.09 299.30,192.06 299.60,191.70 299.90,193.07 300.21,194.52 300.51,196.01 300.82,197.25 301.12,199.44 301.43,201.70 301.73,202.58 302.03,204.14 302.34,205.27 302.64,206.15 302.95,207.54 303.25,209.34 303.55,209.40 303.86,210.69 304.16,210.88 304.47,211.16 304.77,211.98 305.07,211.71 305.38,212.75 305.68,212.22 305.99,213.22 306.29,214.00 306.60,213.41 306.90,213.40 307.21,213.32 307.52,212.69 307.83,212.82 308.14,212.38 308.46,211.79 308.77,210.71 309.08,210.08 309.39,209.48 309.70,207.63 310.01,206.83 310.32,204.37 310.63,203.09 310.94,200.27 311.26,198.74 311.57,195.60 311.88,193.41 312.19,192.03 312.50,191.58 312.81,192.36 313.12,193.98 313.42,196.38 313.73,199.40 314.04,201.07 314.35,203.59 314.65,204.73 314.96,206.58 315.27,207.14 315.58,207.35 315.88,208.47 316.19,207.96 316.50,208.94 316.80,208.20 317.10,208.76 317.40,209.14 317.70,208.00 318.00,208.13 318.30,206.60 318.60,204.85 318.90,204.45 319.20,203.15 319.50,201.50 319.80,199.26 320.10,197.69 320.40,195.74 320.70,192.96 321.00,190.31 321.30,187.38 321.60,184.46 321.90,181.88 322.20,180.16 322.50,179.42 322.81,180.03 323.11,182.18 323.42,185.70 323.72,187.82 324.03,190.34 324.34,193.32 324.64,195.09 324.95,197.76 325.25,200.10 325.56,201.09 325.86,202.45 326.17,203.42 326.48,203.82 326.78,204.83 327.09,205.41 327.39,205.51 327.70,206.17 328.00,205.69 328.31,206.22 328.61,205.56 328.92,205.39 329.22,205.21 329.53,205.77 329.83,204.62 330.13,203.57 330.44,203.78 330.74,202.74 331.05,202.66 331.35,201.64 331.66,201.24 331.96,199.81 332.27,199.52 332.57,198.31 332.87,197.46 333.18,196.48 333.48,195.13 333.79,193.79 334.09,192.97 334.40,192.40 334.70,192.47 335.00,192.44 335.31,194.66 335.62,195.91 335.92,198.31 336.23,200.56 336.53,201.88 336.83,202.76 337.14,204.89 337.44,205.76 337.75,207.32 338.06,207.85 338.36,209.20 338.67,209.41 338.97,210.56 339.27,211.22 339.58,211.46 339.88,211.07 340.19,211.94 340.50,211.38 340.80,212.01 341.12,211.54 341.43,211.58 341.75,210.65 342.07,210.41 342.38,209.04 342.70,208.30 343.02,207.00 343.33,205.08 343.65,202.65 343.97,200.65 344.28,198.68 344.60,194.92 344.92,191.84 345.23,187.96 345.55,184.34 345.87,180.95 346.18,179.40 346.50,177.72 346.81,178.90 347.13,181.09 347.44,184.18 347.75,188.01 348.07,191.25 348.38,194.57 348.69,197.75 349.01,199.62 349.32,200.80 349.63,203.13 349.95,204.08 350.26,205.27 350.57,206.18 350.89,206.28 351.20,206.19 351.50,206.47 351.80,206.20 352.10,206.03 352.40,205.54 352.70,205.00 353.00,204.42 353.30,203.29 353.60,201.32 353.90,200.84 354.20,199.08 354.50,197.58 354.80,195.29 355.10,193.46 355.40,190.62 355.70,188.44 356.00,184.76 356.30,182.47 356.60,179.95 356.90,175.66 357.20,172.05 357.50,169.30 357.80,167.06 358.10,167.30 358.42,169.40 358.74,172.16 359.05,176.25 359.37,180.05 359.69,184.39 360.01,186.61 360.33,189.48 360.65,190.72 360.96,192.14 361.28,192.70 361.60,193.80 361.92,193.28 362.24,193.67 362.55,193.09 362.87,192.14 363.19,192.46 363.51,191.91 363.83,191.46 364.15,190.92 364.46,190.59 364.78,189.86 365.10,191.29 365.44,192.36 365.78,193.96 366.12,194.49 366.46,196.29 366.80,196.42 367.14,196.39 367.48,195.05 367.82,194.44 368.16,194.08 368.50,192.75 368.80,192.73 369.11,193.79 369.41,194.76 369.72,196.86 370.02,199.33 370.32,200.19 370.63,201.00 370.93,203.16 371.24,205.07 371.54,205.72 371.84,206.89 372.15,207.86 372.45,209.35 372.76,209.63 373.06,210.37 373.36,211.02 373.67,211.39 373.97,212.07 374.28,213.22 374.58,212.79 374.88,212.29 375.19,213.23 375.49,213.48 375.80,213.39 376.10,213.30 376.42,213.18 376.73,212.69 377.05,212.34 377.37,211.83 377.68,210.60 378.00,209.69 378.32,207.75 378.63,205.60 378.95,203.65 379.27,200.99 379.58,198.19 379.90,195.30 380.22,191.32 380.53,187.07 380.85,183.47 381.17,180.21 381.48,177.23 381.80,177.01 382.12,176.97 382.43,179.71 382.75,182.43 383.07,186.56 383.38,188.90 383.70,192.16 384.02,193.77 384.33,195.06 384.65,196.76 384.97,197.83 385.28,198.19 385.60,197.79 385.91,198.51 386.21,197.95 386.52,198.08 386.82,198.39 387.12,197.00 387.43,195.38 387.74,195.23 388.04,193.30 388.35,192.68 388.65,191.82 388.95,189.29 389.26,186.57 389.56,185.00 389.87,182.62 390.18,179.78 390.48,176.91 390.78,173.88 391.09,170.26 391.39,168.79 391.70,167.88 392.01,167.23 392.31,167.99 392.62,169.56 392.93,170.73 393.24,173.54 393.54,175.29 393.85,177.81 394.16,180.01 394.46,182.09 394.77,183.41 395.08,186.31 395.39,187.77 395.69,190.14 396.00,191.54 396.31,192.99 396.62,194.65 396.94,194.79 397.25,195.24 397.56,196.01 397.87,196.59 398.18,196.95 398.49,197.84 398.81,197.67 399.12,198.72 399.43,198.20 399.74,198.34 400.05,198.54 400.36,199.28 400.68,198.69 400.99,198.74 401.30,198.47 401.62,197.79 401.95,197.36 402.27,196.35 402.60,194.76 402.93,193.32 403.25,190.99 403.57,189.25 403.90,188.59 404.20,188.97 404.50,190.03 404.80,191.40 405.10,193.99 405.40,196.09 405.70,198.19 406.00,199.26 406.30,201.87 406.60,202.73 406.90,204.97 407.20,205.91 407.50,207.51 407.80,209.03 408.10,209.52 408.40,210.99 408.70,211.03 409.00,210.95 409.30,212.08 409.60,211.97 409.90,212.72 410.20,212.67 410.50,212.95 410.80,213.12 411.11,212.64 411.43,212.58 411.74,211.46 412.05,210.09 412.37,208.98 412.68,207.06 412.99,204.93 413.31,202.10 413.62,199.11 413.93,195.28 414.25,191.51 414.56,186.85 414.87,183.24 415.19,180.50 415.50,178.11 415.82,178.36 416.13,179.24 416.45,180.70 416.77,184.17 417.08,186.13 417.40,189.33 417.72,190.95 418.03,193.60 418.35,196.15 418.67,196.91 418.98,198.96 419.30,199.30 419.62,200.58 419.93,200.88 420.25,201.52 420.57,201.73 420.88,201.68 421.20,201.88 421.51,202.34 421.83,201.21 422.14,200.38 422.46,199.36 422.77,198.62 423.09,196.01 423.40,194.40 423.71,190.92 424.03,187.38 424.34,184.04 424.66,180.08 424.97,176.45 425.29,173.25 425.60,171.85 425.91,172.08 426.23,173.35 426.54,175.81 426.85,178.62 427.17,181.99 427.48,184.25 427.80,187.08 428.11,189.16 428.42,190.89 428.74,193.24 429.05,194.41 429.36,196.53 429.68,198.61 429.99,199.07 430.30,200.73 430.62,200.92 430.93,201.08 431.25,202.13 431.56,202.32 431.87,202.79 432.19,202.49 432.50,202.98 432.81,203.40 433.12,202.71 433.43,202.51 433.74,201.90 434.06,201.65 434.37,200.41 434.68,198.85 434.99,198.14 435.30,196.91 435.61,195.01 435.92,192.85 436.23,190.97 436.54,187.77 436.86,186.05 437.17,183.73 437.48,181.03 437.79,179.15 438.10,178.45 438.41,178.43 438.73,180.29 439.04,181.67 439.35,184.75 439.67,187.25 439.98,189.38 440.30,191.70 440.61,193.40 440.92,195.84 441.24,196.74 441.55,197.53 441.86,199.43 442.18,201.26 442.49,201.51 442.80,203.05 443.12,203.03 443.43,203.48 443.75,204.02 444.06,204.36 444.37,204.52 444.69,204.24 445.00,204.38 445.31,204.26 445.62,203.07 445.93,201.25 446.24,199.78 446.55,197.91 446.86,193.97 447.17,190.73 447.48,186.39 447.79,182.70 448.10,180.62 448.42,180.35 448.74,179.91 449.05,181.31 449.37,182.35 449.69,183.30 450.01,184.83 450.33,185.41 450.65,186.42 450.96,187.25 451.28,187.17 451.60,187.90 451.92,187.29 452.24,187.40 452.55,186.91 452.87,186.16 453.19,186.04 453.51,185.63 453.83,184.65 454.15,184.46 454.46,182.99 454.78,182.00 455.10,182.08 455.43,182.14 455.75,182.85 456.08,183.03 456.41,184.80 456.74,185.17 457.06,187.06 457.39,187.50 457.72,189.34 458.05,190.55 458.37,191.50 458.70,191.97 459.01,193.38 459.31,194.52 459.62,194.92 459.93,195.91 460.24,196.23 460.54,197.00 460.85,197.39 461.16,197.18 461.46,198.41 461.77,198.21 462.08,199.31 462.39,200.13 462.69,200.07 463.00,200.64 463.31,200.72 463.61,201.22 463.92,201.24 464.23,201.70 464.54,201.66 464.84,202.01 465.15,201.98 465.46,202.29 465.76,202.19 466.07,202.79 466.38,202.32 466.69,202.25 466.99,202.36 467.30,201.82 467.61,202.24 467.91,202.01 468.22,201.82 468.52,200.88 468.83,200.95 469.13,200.21 469.44,199.53 469.74,199.14 470.05,197.49 470.36,195.78 470.66,194.77 470.97,192.50 471.27,191.35 471.58,189.80 471.88,187.47 472.19,186.53 472.49,184.50 472.80,184.14 473.11,184.82 473.41,186.24 473.72,188.29 474.03,190.28 474.34,192.38 474.64,193.36 474.95,195.67 475.26,196.68 475.56,197.97 475.87,198.26 476.18,199.37 476.49,200.52 476.79,200.03 477.10,200.05 477.41,200.10 477.73,199.46 478.04,199.67 478.35,199.96 478.66,198.69 478.98,198.69 479.29,197.10 479.60,195.64 479.91,194.80 480.23,192.69 480.54,191.75 480.85,190.67 481.16,188.07 481.48,185.99 481.79,184.62 482.10,184.10 482.41,182.99 482.72,182.63 483.03,183.50 483.33,183.92 483.64,184.94 483.95,186.16 484.26,186.53 484.57,187.80 484.88,188.12 485.18,188.43 485.49,189.60 485.80,190.22 486.12,190.83 486.44,190.90 486.76,191.82 487.08,192.45 487.40,192.71 487.72,193.45 488.04,193.69 488.36,193.56 488.68,195.26 489.00,196.19 489.31,197.99 489.63,199.63 489.94,201.16 490.26,202.37 490.57,203.36 490.89,203.55 491.20,204.16 491.52,203.74 491.84,203.73 492.16,202.36 492.48,202.09 492.80,200.92 493.12,199.14 493.44,196.71 493.76,195.35 494.08,193.44 494.40,192.74 494.70,191.97 495.00,193.17 495.30,193.77 495.60,195.65 495.90,196.51 496.20,198.46 496.50,199.13 496.80,201.04 497.10,201.44 497.40,203.31 497.70,204.10 498.00,205.30 498.30,206.14 498.60,207.00 498.90,207.39 499.20,208.43 499.50,208.54 499.80,209.61 500.10,210.24 500.40,210.54 500.70,211.05 501.00,211.24 501.30,212.11 501.60,211.72 501.90,211.48 502.20,212.01 502.50,211.25 502.80,212.08 503.10,212.20 503.41,211.75 503.71,211.89 504.02,210.65 504.33,210.18 504.64,208.37 504.94,206.82 505.25,204.63 505.56,202.52 505.86,199.29 506.17,195.25 506.48,192.60 506.79,190.04 507.09,186.64 507.40,185.50 507.72,185.15 508.04,187.05 508.35,188.43 508.67,190.54 508.99,193.13 509.31,194.84 509.62,197.26 509.94,199.52 510.26,200.46 510.58,202.47 510.89,202.79 511.21,203.72 511.53,204.32 511.85,204.67 512.16,205.15 512.48,204.65 512.80,205.40 513.10,206.11 513.40,205.11 513.70,205.41 514.00,204.20 514.30,204.01 514.60,202.55 514.90,201.88 515.20,200.02 515.50,198.86 515.80,196.55 516.10,194.08 516.40,192.14 516.70,189.56 517.00,187.45 517.30,186.12 517.60,184.68 517.91,185.24 518.23,185.59 518.54,187.39 518.85,188.64 519.16,190.80 519.48,191.71 519.79,192.58 520.10,194.15 520.41,195.44 520.73,195.92 521.04,196.49 521.35,197.08 521.66,196.90 521.98,197.69 522.29,197.89 522.60,197.95" fill="none" stroke="#111" stroke-width="1.1" stroke-linejoin="round" />
<polyline points="529.50,188.25 529.85,187.63 530.20,187.21 530.52,187.39 530.84,187.25 531.15,188.97 531.47,190.23 531.79,191.40 532.11,192.55 532.42,193.60 532.74,194.37 533.06,195.32 533.38,196.53 533.69,196.56 534.01,197.00 534.33,197.38 534.65,197.43 534.96,197.83 535.28,197.44 535.60,197.98 535.91,198.65 536.22,197.89 536.53,198.08 536.83,197.54 537.14,197.96 537.45,196.92 537.76,195.96 538.07,195.96 538.38,195.02 538.69,194.64 539.00,194.62 539.30,192.94 539.61,191.12 539.92,190.83 540.23,188.82 540.54,188.29 540.85,186.59 541.16,185.31 541.47,183.51 541.77,182.11 542.08,181.32 542.39,179.86 542.70,180.55 543.02,180.46 543.33,181.83 543.65,183.68 543.96,186.30 544.28,187.30 544.59,189.35 544.91,190.11 545.22,191.59 545.54,191.97 545.85,193.37 546.17,192.99 546.48,193.31 546.80,193.37 547.11,193.47 547.42,193.28 547.72,192.52 548.03,192.82 548.34,192.41 548.65,191.96 548.95,191.13 549.26,190.67 549.57,189.87 549.88,189.03 550.18,187.99 550.49,187.77 550.80,187.78 551.11,188.18 551.41,189.49 551.72,190.34 552.03,190.85 552.34,193.06 552.64,193.53 552.95,195.61 553.26,196.21 553.56,197.88 553.87,198.55 554.18,199.86 554.49,201.05 554.79,201.55 555.10,202.76 555.41,202.98 555.71,203.96 556.02,204.15 556.33,205.37 556.64,205.08 556.94,205.00 557.25,205.77 557.56,206.21 557.86,206.26 558.17,205.84 558.48,206.55 558.79,206.82 559.09,206.67 559.40,205.88 559.72,206.58 560.04,205.84 560.35,206.19 560.67,206.69 560.99,205.38 561.31,205.27 561.62,204.04 561.94,202.46 562.26,202.12 562.58,200.97 562.89,199.56 563.21,197.23 563.53,196.40 563.85,194.90 564.16,193.22 564.48,192.90 564.80,191.87 565.11,192.22 565.43,193.72 565.74,194.95 566.06,197.23 566.37,199.33 566.69,200.47 567.00,202.48 567.31,202.88 567.63,204.05 567.94,204.45 568.26,204.16 568.57,205.28 568.89,205.06 569.20,205.63" fill="none" stroke="#111" stroke-width="1.1" stroke-linejoin="round" />
<circle cx="45.60" cy="209.77" r="2.15" fill="none" stroke="#111" stroke-width="0.85"/>
<circle cx="56.80" cy="208.83" r="2.15" fill="none" stroke="#111" stroke-width="0.85"/>
<circle cx="68.10" cy="207.51" r="2.15" fill="none" stroke="#111" stroke-width="0.85"/>
<circle cx="80.80" cy="211.85" r="2.15" fill="none" stroke="#111" stroke-width="0.85"/>
<circle cx="91.60" cy="207.13" r="2.15" fill="none" stroke="#111" stroke-width="0.85"/>
<circle cx="102.90" cy="199.78" r="2.15" fill="none" stroke="#111" stroke-width="0.85"/>
<circle cx="114.20" cy="203.55" r="2.15" fill="none" stroke="#111" stroke-width="0.85"/>
<circle cx="126.40" cy="204.12" r="2.15" fill="none" stroke="#111" stroke-width="0.85"/>
<circle cx="137.80" cy="206.38" r="2.15" fill="none" stroke="#111" stroke-width="0.85"/>
<circle cx="149.50" cy="194.88" r="2.15" fill="none" stroke="#111" stroke-width="0.85"/>
<circle cx="160.40" cy="206.38" r="2.15" fill="none" stroke="#111" stroke-width="0.85"/>
<circle cx="172.00" cy="206.76" r="2.15" fill="none" stroke="#111" stroke-width="0.85"/>
<circle cx="183.90" cy="209.21" r="2.15" fill="none" stroke="#111" stroke-width="0.85"/>
<circle cx="195.20" cy="204.49" r="2.15" fill="none" stroke="#111" stroke-width="0.85"/>
<circle cx="206.80" cy="200.53" r="2.15" fill="none" stroke="#111" stroke-width="0.85"/>
<circle cx="217.80" cy="203.55" r="2.15" fill="none" stroke="#111" stroke-width="0.85"/>
<circle cx="229.90" cy="203.55" r="2.15" fill="none" stroke="#111" stroke-width="0.85"/>
<circle cx="241.20" cy="204.12" r="2.15" fill="none" stroke="#111" stroke-width="0.85"/>
<circle cx="252.50" cy="201.48" r="2.15" fill="none" stroke="#111" stroke-width="0.85"/>
<circle cx="264.30" cy="194.12" r="2.15" fill="none" stroke="#111" stroke-width="0.85"/>
<circle cx="275.90" cy="201.48" r="2.15" fill="none" stroke="#111" stroke-width="0.85"/>
<circle cx="286.50" cy="204.12" r="2.15" fill="none" stroke="#111" stroke-width="0.85"/>
<circle cx="298.80" cy="202.80" r="2.15" fill="none" stroke="#111" stroke-width="0.85"/>
<circle cx="310.40" cy="202.80" r="2.15" fill="none" stroke="#111" stroke-width="0.85"/>
<circle cx="321.70" cy="195.44" r="2.15" fill="none" stroke="#111" stroke-width="0.85"/>
<circle cx="333.30" cy="202.23" r="2.15" fill="none" stroke="#111" stroke-width="0.85"/>
<circle cx="344.60" cy="195.82" r="2.15" fill="none" stroke="#111" stroke-width="0.85"/>
<circle cx="356.00" cy="188.09" r="2.15" fill="none" stroke="#111" stroke-width="0.85"/>
<circle cx="366.80" cy="197.71" r="2.15" fill="none" stroke="#111" stroke-width="0.85"/>
<circle cx="379.00" cy="195.44" r="2.15" fill="none" stroke="#111" stroke-width="0.85"/>
<circle cx="390.50" cy="184.51" r="2.15" fill="none" stroke="#111" stroke-width="0.85"/>
<circle cx="402.10" cy="195.44" r="2.15" fill="none" stroke="#111" stroke-width="0.85"/>
<circle cx="413.80" cy="194.50" r="2.15" fill="none" stroke="#111" stroke-width="0.85"/>
<circle cx="425.20" cy="188.47" r="2.15" fill="none" stroke="#111" stroke-width="0.85"/>
<circle cx="436.50" cy="192.80" r="2.15" fill="none" stroke="#111" stroke-width="0.85"/>
<circle cx="447.80" cy="192.24" r="2.15" fill="none" stroke="#111" stroke-width="0.85"/>
<circle cx="459.40" cy="193.75" r="2.15" fill="none" stroke="#111" stroke-width="0.85"/>
<circle cx="471.00" cy="194.88" r="2.15" fill="none" stroke="#111" stroke-width="0.85"/>
<circle cx="482.90" cy="193.56" r="2.15" fill="none" stroke="#111" stroke-width="0.85"/>
<circle cx="494.40" cy="199.21" r="2.15" fill="none" stroke="#111" stroke-width="0.85"/>
<circle cx="505.90" cy="197.14" r="2.15" fill="none" stroke="#111" stroke-width="0.85"/>
<circle cx="517.60" cy="196.20" r="2.15" fill="none" stroke="#111" stroke-width="0.85"/>
<circle cx="528.40" cy="195.44" r="2.15" fill="none" stroke="#111" stroke-width="0.85"/>
<circle cx="540.60" cy="190.92" r="2.15" fill="none" stroke="#111" stroke-width="0.85"/>
<circle cx="551.40" cy="196.95" r="2.15" fill="none" stroke="#111" stroke-width="0.85"/>
<circle cx="563.80" cy="200.35" r="2.15" fill="none" stroke="#111" stroke-width="0.85"/>
<polyline points="40.00,308.33 40.83,306.79 41.67,307.50 42.50,304.02 43.33,305.00 44.00,303.47 44.67,300.00 45.25,291.43 45.83,288.33 46.25,291.90 46.67,295.00 47.08,297.47 47.50,301.67 47.92,300.50 48.33,305.00 48.75,299.21 49.17,293.33 49.58,297.04 50.00,306.67 50.42,307.49 50.83,309.17 51.42,307.66 52.00,311.67 52.67,310.30 53.33,314.17 54.00,312.02 54.67,310.83 55.25,311.68 55.83,308.33 56.25,304.68 56.67,305.83 57.08,305.73 57.50,309.17 57.92,310.82 58.33,310.83 58.75,311.62 59.17,306.67 59.58,309.66 60.00,311.67 60.42,309.76 60.83,309.17 61.25,314.71 61.67,314.17 62.08,307.51 62.50,306.67 62.92,310.63 63.33,310.00 63.75,304.90 64.17,302.50 64.58,304.39 65.00,310.83 65.42,302.97 65.83,300.00 66.25,303.77 66.67,310.00 67.08,312.86 67.50,311.67 67.92,310.87 68.33,314.17 68.75,311.77 69.17,308.33 69.58,311.72 70.00,313.33 70.42,308.77 70.83,305.83 71.25,307.39 71.67,308.33 72.08,304.70 72.50,306.67 72.92,307.18 73.33,313.33 73.75,308.53 74.17,307.50 74.58,310.32 75.00,310.83 75.42,308.29 75.83,306.67 76.25,306.73 76.67,309.17 77.08,310.55 77.50,310.83 77.92,308.45 78.33,306.67 78.75,306.64 79.17,309.17 79.58,310.22 80.00,307.50 80.42,309.19 80.83,308.33 81.25,307.95 81.67,310.83 82.08,308.39 82.50,305.00 82.92,304.33 83.33,303.33 83.75,307.82 84.17,307.50 84.58,311.89 85.00,313.33 85.42,311.14 85.83,311.67 86.25,313.49 86.67,309.17 87.08,307.56 87.50,310.83 87.92,310.73 88.33,311.67 88.75,312.48 89.17,310.00 89.58,306.94 90.00,308.33 90.42,306.60 90.83,305.00 91.25,302.88 91.67,306.67 92.08,304.41 92.50,300.00 92.92,303.36 93.33,303.33 93.75,302.13 94.17,300.00 94.58,304.90 95.00,305.00 95.42,301.72 95.83,300.83 96.25,306.25 96.67,309.17 97.08,312.27 97.50,314.17 97.92,311.34 98.33,307.50 98.75,305.14 99.17,303.33 99.58,306.34 100.00,305.00 100.42,308.26 100.83,305.83 101.25,307.33 101.67,309.17 102.08,308.13 102.50,305.00 102.92,303.44 103.33,307.50 103.75,307.54 104.17,305.00 104.58,308.44 105.00,310.00 105.42,309.82 105.83,303.33 106.25,306.23 106.67,305.00 107.08,304.45 107.50,306.67 107.92,307.60 108.33,310.00 108.75,311.08 109.17,310.00 109.58,307.78 110.00,311.67 110.42,312.25 110.83,313.33 111.25,309.96 111.67,310.83 112.08,308.80 112.50,311.67 112.92,310.09 113.33,314.17 113.75,315.05 114.17,312.50 114.58,310.54 115.00,313.33 115.42,310.47 115.83,310.83 116.25,309.30 116.67,309.17 117.08,310.71 117.50,307.50 117.92,304.40 118.33,306.67 118.75,307.59 119.17,309.17 119.58,307.40 120.00,305.00 120.42,306.62 120.83,303.33 121.25,306.21 121.67,305.00 122.08,308.16 122.50,306.67 122.92,303.58 123.33,303.33 123.75,301.96 124.17,301.67 124.58,298.26 125.00,296.67 125.42,292.04 125.83,282.50 126.33,288.33 126.67,293.76 127.00,293.33 127.42,292.77 127.83,296.67 128.25,296.26 128.67,300.00 129.08,297.45 129.50,298.33 129.92,299.13 130.33,303.33 130.75,301.57 131.17,300.00 131.67,313.33 132.08,308.49 132.50,302.50 132.92,302.23 133.33,305.00 133.75,299.74 134.17,300.83 134.58,306.56 135.00,313.33 135.42,306.66 135.83,301.67 136.25,303.76 136.67,305.00 137.08,309.15 137.50,307.50 137.92,309.14 138.33,308.33 138.75,308.85 139.17,309.17 140.00,309.17 140.42,308.67 140.83,306.67 141.25,306.13 141.67,303.33 142.08,302.98 142.50,308.33 142.92,307.97 143.33,302.50 143.75,306.79 144.17,307.50 144.58,308.65 145.00,305.00 145.42,310.24 145.83,311.67 146.25,306.81 146.67,303.33 147.08,301.44 147.50,300.83 147.92,294.96 148.33,294.17 148.75,295.44 149.17,295.00 149.67,301.67 150.00,301.37 150.33,306.67 150.83,303.33 151.25,303.48 151.67,309.17 152.08,308.55 152.50,311.67 152.92,306.17 153.33,305.00 153.75,301.06 154.17,299.17 154.58,299.22 155.00,305.00 155.42,305.97 155.83,313.33 156.25,306.10 156.67,303.33 157.08,303.28 157.50,308.33 157.92,308.71 158.33,310.83 158.75,307.38 159.17,310.00 159.58,311.98 160.00,309.17 160.42,311.15 160.83,311.67 161.25,308.58 161.67,310.00 162.08,308.83 162.50,310.83 162.92,309.02 163.33,309.17 163.75,307.05 164.17,306.67 164.58,305.92 165.00,310.00 165.42,311.40 165.83,308.33 166.25,313.99 166.67,313.33 167.08,310.20 167.50,307.50 167.92,309.06 168.33,310.83 168.75,307.77 169.17,310.00 169.58,307.04 170.00,309.17 170.42,309.41 170.83,311.67 171.25,309.74 171.67,310.83 172.08,312.10 172.50,309.17 172.92,308.25 173.33,311.67 173.75,306.95 174.17,308.33 174.58,312.05 175.00,310.00 175.42,310.60 175.83,310.83 176.25,309.40 176.67,312.50 177.08,312.36 177.50,311.67 177.92,309.47 178.33,313.33 178.75,312.26 179.17,310.83 179.58,314.73 180.00,312.50 180.42,314.41 180.83,311.67 181.25,311.26 181.67,308.33 182.08,303.89 182.50,302.50 182.92,302.06 183.33,303.33 183.75,302.04 184.17,305.00 184.58,305.49 185.00,302.50 185.42,305.63 185.83,308.33 186.25,308.04 186.67,304.17 187.08,305.58 187.50,309.17 187.92,305.31 188.33,305.00 188.75,310.74 189.17,312.50 189.58,312.27 190.00,305.83 190.42,309.34 190.83,308.33 191.25,312.79 191.67,313.33 192.08,311.62 192.50,305.83 192.92,308.20 193.33,307.50 193.75,304.50 194.17,305.00 194.58,307.20 195.00,309.17 195.42,306.99 195.83,306.67 196.25,302.40 196.67,304.17 197.08,301.98 197.50,305.83 197.92,302.34 198.33,301.67 198.75,301.79 199.17,305.00 199.58,308.73 200.00,310.00 200.42,311.26 200.83,306.67 201.25,304.66 201.67,303.33 202.08,307.38 202.50,305.83 202.92,311.46 203.33,310.83 203.75,310.83 204.17,305.00 204.58,305.80 205.00,308.33 205.42,308.21 205.83,311.67 206.25,307.42 206.67,306.67 207.08,303.06 207.50,303.33 208.00,295.00 208.33,295.61 208.67,300.00 209.17,309.17 209.58,308.29 210.00,305.83 210.42,309.23 210.83,307.50 211.25,310.93 211.67,310.00 212.08,309.04 212.50,308.33 212.92,311.81 213.33,313.33 213.75,314.00 214.17,310.83 214.58,307.34 215.00,309.17 215.42,310.61 215.83,310.00 216.25,311.79 216.67,308.33 217.08,310.56 217.50,309.17 217.92,309.52 218.33,306.67 218.75,306.94 219.17,307.50 219.58,304.19 220.00,305.00 220.42,306.02 220.83,303.33 221.25,301.43 221.67,301.67 222.08,306.51 222.50,307.50 222.92,311.77 223.33,310.00 223.75,308.92 224.17,309.17 224.58,310.20 225.00,312.50 225.42,314.53 225.83,310.83 226.25,311.02 226.67,308.33 227.08,305.39 227.50,306.67 227.92,304.70 228.33,307.50 228.75,303.18 229.17,303.33 229.58,298.84 230.00,289.17 230.50,301.67 230.92,306.13 231.33,306.67 231.67,303.57 232.00,305.00 232.33,305.84 232.67,302.50 233.00,306.82 233.33,305.00 233.75,308.51 234.17,310.00 234.58,308.63 235.00,309.17 235.42,310.73 235.83,311.67 236.25,308.05 236.67,309.17 237.08,306.47 237.50,310.00 237.92,311.35 238.33,306.67 238.75,308.46 239.17,308.33 240.00,309.17 240.42,308.50 240.83,307.50 241.25,310.69 241.67,308.33 242.08,306.66 242.50,305.83 242.92,309.05 243.33,307.50 243.75,307.92 244.17,304.17 244.58,301.90 245.00,303.33 245.42,303.41 245.83,306.67 246.25,306.59 246.67,309.17 247.08,309.59 247.50,313.33 247.92,312.64 248.33,310.83 248.75,308.04 249.17,308.33 249.58,308.23 250.00,309.17 250.42,305.97 250.83,307.50 251.25,310.54 251.67,308.33 252.08,306.56 252.50,306.67 252.92,308.07 253.33,310.00 253.75,311.37 254.17,311.67 254.58,312.17 255.00,307.50 255.42,303.66 255.83,300.83 256.25,304.76 256.67,303.33 257.08,305.84 257.50,308.33 257.92,311.45 258.33,314.17 258.75,309.73 259.17,305.00 259.58,297.75 260.00,296.67 260.42,287.12 260.83,278.33 261.33,266.67 261.67,275.47 262.00,288.33 262.33,287.66 262.67,293.33 263.00,293.58 263.33,290.00 263.75,284.57 264.17,283.33 264.58,281.91 265.00,280.83 265.42,279.36 265.83,275.00 266.33,271.67 266.67,273.69 267.00,275.00 267.33,278.05 267.67,283.33 268.00,286.78 268.33,290.00 268.75,294.52 269.17,298.33 269.58,303.49 270.00,305.00 270.42,299.98 270.83,300.00 271.25,302.05 271.67,303.33 272.08,303.39 272.50,306.67 272.92,303.99 273.33,304.17 273.75,307.99 274.17,308.33 274.58,309.22 275.00,310.00 275.42,304.56 275.83,298.33 276.25,303.75 276.67,305.83 277.08,306.39 277.50,301.67 277.92,298.80 278.33,296.67 278.75,293.22 279.17,288.33 279.58,294.20 280.00,300.00 280.42,304.66 280.83,309.17 281.25,312.48 281.67,313.33 282.08,309.70 282.50,306.67 282.92,308.55 283.33,310.00 283.75,303.19 284.17,296.67 284.58,301.16 285.00,300.00 285.42,306.27 285.83,310.00 286.25,309.08 286.67,303.33 287.08,300.33 287.50,291.67 287.92,284.29 288.33,280.00 288.83,269.67 289.17,276.88 289.50,283.33 290.00,296.67 290.42,301.17 290.83,300.00 291.25,303.84 291.67,303.33 292.08,302.26 292.50,305.83 292.92,304.66 293.33,308.33 293.75,302.96 294.17,298.33 294.58,299.76 295.00,306.67 295.42,302.51 295.83,301.67 296.25,302.68 296.67,309.17 297.08,305.67 297.50,300.00 297.92,296.82 298.33,290.00 298.75,294.21 299.17,293.33 299.58,295.29 300.00,301.67 300.42,305.97 300.83,307.50 301.25,307.28 301.67,305.00 302.08,299.38 302.50,298.33 302.92,303.28 303.33,303.33 303.75,308.83 304.17,308.33 304.58,306.12 305.00,307.50 305.42,311.65 305.83,310.00 306.25,307.68 306.67,306.67 307.08,307.84 307.50,309.17 307.92,314.39 308.33,313.33 308.75,312.54 309.17,307.50 309.58,304.08 310.00,305.00 310.42,303.31 310.83,302.50 311.25,305.10 311.67,307.50 312.08,307.72 312.50,310.00 312.92,305.97 313.33,305.83 313.75,299.67 314.17,295.83 314.58,301.01 315.00,303.33 315.42,303.59 315.83,310.00 316.25,311.60 316.67,312.50 317.08,309.62 317.50,307.50 317.92,303.58 318.33,305.83 318.75,302.67 319.17,301.67 319.58,304.96 320.00,306.67 320.42,305.08 320.83,303.33 321.25,298.88 321.67,300.00 322.08,306.44 322.50,306.67 322.92,307.68 323.33,305.00 323.75,307.19 324.17,303.33 324.58,296.22 325.00,294.17 325.42,295.58 325.83,300.00 326.25,300.39 326.67,306.67 327.08,310.12 327.50,310.00 327.92,310.20 328.33,313.33 328.75,308.05 329.17,307.50 329.58,309.09 330.00,311.67 330.42,313.05 330.83,309.17 331.25,313.29 331.67,313.33 332.08,308.87 332.50,307.50 332.92,304.01 333.33,305.00 333.75,305.18 334.17,300.00 334.58,297.95 335.00,295.00 335.42,298.78 335.83,300.00 336.25,300.71 336.67,306.67 337.08,304.67 337.50,308.33 337.92,309.12 338.33,307.50 338.75,308.27 339.17,310.00 340.00,307.50 340.42,306.85 340.83,311.67 341.25,313.22 341.67,309.17 342.08,308.78 342.50,306.67 342.92,305.68 343.33,300.83 343.75,300.25 344.17,305.00 344.58,308.95 345.00,308.33 345.42,304.73 345.83,306.67 346.25,307.74 346.67,304.17 347.08,303.45 347.50,303.33 347.92,301.47 348.33,301.67 348.75,305.76 349.17,309.17 349.58,313.56 350.00,312.50 350.42,307.26 350.83,305.00 351.25,303.88 351.67,307.50 352.08,305.59 352.50,303.33 352.92,302.91 353.33,305.83 353.75,301.25 354.17,301.67 354.58,298.67 355.00,300.00 355.42,300.46 355.83,306.67 356.25,305.59 356.67,308.33 357.08,302.96 357.50,300.00 357.92,299.59 358.33,301.67 358.75,304.99 359.17,305.00 359.58,305.74 360.00,309.17 360.42,307.92 360.83,306.67 361.25,305.02 361.67,307.50 362.08,304.44 362.50,303.33 362.92,302.33 363.33,307.50 363.75,302.15 364.17,300.00 364.58,293.98 365.00,294.17 365.42,299.41 365.83,301.67 366.25,304.49 366.67,306.67 367.08,303.43 367.50,304.17 367.92,306.09 368.33,308.33 368.75,308.62 369.17,303.33 369.58,302.48 370.00,306.67 370.42,306.21 370.83,301.67 371.25,300.82 371.67,300.83 372.08,304.55 372.50,308.33 372.92,312.14 373.33,311.67 373.75,308.07 374.17,305.83 374.58,308.38 375.00,310.83 375.42,310.78 375.83,308.33 376.25,312.25 376.67,310.00 377.08,307.74 377.50,307.50 377.92,310.46 378.33,309.17 378.75,309.24 379.17,306.67 379.58,308.37 380.00,308.33 380.42,306.06 380.83,305.00 381.25,303.19 381.67,303.33 382.08,298.81 382.50,300.00 383.00,290.83 383.33,292.21 383.67,298.33 384.00,299.75 384.33,306.67 384.67,309.46 385.00,309.17 385.42,305.52 385.83,305.00 386.25,304.51 386.67,308.33 387.08,306.92 387.50,310.83 387.92,313.85 388.33,312.50 388.75,312.79 389.17,308.33 389.58,306.92 390.00,303.33 390.42,299.44 390.83,298.33 391.25,290.85 391.67,286.67 392.08,279.51 392.50,275.00 392.92,280.57 393.33,286.67 393.75,288.22 394.17,294.17 394.58,295.07 395.00,296.67 395.42,295.98 395.83,298.33 396.25,304.62 396.67,305.00 397.08,309.69 397.50,308.33 397.92,306.13 398.33,303.33 398.75,303.36 399.17,306.67 399.58,310.48 400.00,308.33 400.42,306.70 400.83,307.50 401.25,308.67 401.67,311.67 402.08,307.22 402.50,309.17 402.92,309.24 403.33,310.83 403.75,306.92 404.17,303.33 404.58,300.85 405.00,298.33 405.42,291.42 405.83,288.33 406.25,295.86 406.67,303.33 407.08,301.83 407.50,306.67 407.92,307.66 408.33,311.67 408.75,309.46 409.17,312.50 409.58,310.61 410.00,310.00 410.42,307.90 410.83,311.67 411.25,307.36 411.67,309.17 412.08,307.08 412.50,307.50 412.92,306.21 413.33,308.33 413.75,307.21 414.17,305.00 414.58,305.60 415.00,305.83 415.42,306.19 415.83,303.33 416.25,302.67 416.67,300.00 417.08,298.47 417.50,294.17 417.92,301.18 418.33,303.33 418.75,304.29 419.17,306.67 419.58,305.97 420.00,307.50 420.42,311.02 420.83,308.33 421.25,308.59 421.67,313.33 422.08,313.52 422.50,310.83 422.92,309.67 423.33,306.67 423.75,302.50 424.17,304.17 424.58,303.40 425.00,298.33 425.42,296.68 425.83,290.00 426.33,280.00 426.67,287.48 427.00,293.33 427.42,298.16 427.83,300.00 428.25,302.83 428.67,301.67 429.08,301.86 429.50,306.67 429.92,307.65 430.33,308.33 430.75,306.69 431.17,305.00 431.58,308.81 432.00,308.33 432.42,312.78 432.83,313.33 433.25,315.01 433.67,312.50 434.08,310.95 434.50,308.33 434.92,310.01 435.33,306.67 435.75,307.42 436.17,305.83 436.58,306.24 437.00,304.17 437.42,302.85 437.83,305.00 438.25,302.83 438.67,306.67 439.08,304.74 439.50,307.50 440.00,307.50 440.42,306.19 440.83,306.67 441.25,302.47 441.67,303.33 442.00,303.40 442.33,299.17 442.67,302.46 443.00,305.00 443.33,308.32 443.67,310.00 444.00,312.06 444.33,312.50 444.67,311.57 445.00,308.33 445.42,309.93 445.83,311.67 446.25,305.99 446.67,306.67 447.08,301.07 447.50,291.67 447.92,289.09 448.33,283.33 448.83,266.67 449.17,255.00 449.67,265.00 450.00,268.35 450.33,271.67 450.67,276.06 451.00,280.00 451.33,284.35 451.67,286.67 452.08,288.89 452.50,296.67 453.00,300.00 453.33,288.18 453.67,273.33 454.17,276.67 454.67,283.33 455.00,290.08 455.33,300.00 455.83,308.33 456.33,298.33 456.67,297.28 457.00,301.67 457.33,299.33 457.67,300.00 458.00,304.80 458.33,306.67 458.75,306.45 459.17,310.00 459.58,308.20 460.00,303.33 460.42,303.88 460.83,298.33 461.25,299.13 461.67,300.00 462.08,303.00 462.50,307.50 462.92,306.12 463.33,305.00 463.75,304.51 464.17,301.67 464.58,306.71 465.00,308.33 465.42,307.42 465.83,305.00 466.25,308.41 466.67,310.00 467.08,305.63 467.50,306.67 467.92,305.66 468.33,309.17 468.75,308.84 469.17,311.67 469.58,310.72 470.00,306.67 470.42,302.91 470.83,301.67 471.25,303.77 471.67,305.00 472.08,301.05 472.50,303.33 472.92,298.02 473.33,298.33 473.75,301.02 474.17,306.67 474.58,309.43 475.00,310.00 475.42,309.56 475.83,306.67 476.25,306.96 476.67,305.00 477.08,306.16 477.50,310.00 477.92,310.94 478.33,311.67 478.75,305.61 479.17,300.00 479.58,302.28 480.00,305.00 480.42,305.89 480.83,311.67 481.25,311.69 481.67,306.67 482.08,298.91 482.50,295.00 482.92,301.39 483.33,301.67 483.75,307.79 484.17,308.33 484.58,303.58 485.00,305.00 485.42,301.40 485.83,298.33 486.33,293.33 486.67,298.71 487.00,300.00 487.33,301.33 487.67,296.67 488.00,299.68 488.33,303.33 488.75,300.19 489.17,300.00 489.58,300.64 490.00,305.00 490.42,308.69 490.83,306.67 491.25,303.15 491.67,303.33 492.08,302.19 492.50,300.00 492.92,293.54 493.33,291.67 493.75,290.57 494.17,289.17 494.58,295.81 495.00,296.67 495.42,295.98 495.83,300.00 496.25,305.38 496.67,306.67 497.08,305.06 497.50,303.33 497.92,309.14 498.33,310.00 498.75,309.63 499.17,306.67 499.58,304.11 500.00,305.00 500.42,308.80 500.83,307.50 501.25,305.74 501.67,304.17 502.08,303.21 502.50,308.33 502.92,306.82 503.33,311.67 503.75,309.53 504.17,307.50 504.58,305.93 505.00,305.00 505.42,302.90 505.83,303.33 506.25,301.87 506.67,305.00 507.08,304.83 507.50,306.67 507.92,302.16 508.33,300.00 508.75,303.84 509.17,303.33 509.58,300.98 510.00,305.00 510.42,307.44 510.83,306.67 511.25,310.50 511.67,310.00 512.08,308.40 512.50,311.67 512.92,315.23 513.33,313.33 513.75,312.61 514.17,309.17 514.58,312.15 515.00,310.00 515.42,306.99 515.83,306.67 516.25,305.02 516.67,305.00 517.08,297.65 517.50,291.67 517.92,299.03 518.33,300.00 518.75,305.57 519.17,310.00 519.58,310.78 520.00,313.33 520.42,310.37 520.83,308.33 521.25,307.31 521.67,309.17 522.33,306.28 523.00,309.17" fill="none" stroke="#000" stroke-width="1.05" stroke-linejoin="miter" stroke-miterlimit="2"/>
<polyline points="529.17,297.50 529.58,295.78 530.00,299.17 530.42,302.56 530.83,301.67 531.25,299.46 531.67,300.00 532.08,306.12 532.50,306.67 532.92,308.40 533.33,313.33 533.75,307.67 534.17,305.00 534.58,306.32 535.00,307.50 535.42,304.27 535.83,305.00 536.25,305.86 536.67,308.33 537.08,312.92 537.50,311.67 537.92,312.88 538.33,309.17 538.75,310.75 539.17,308.33 539.58,306.67 540.00,303.33 540.42,304.73 540.83,300.83 541.25,305.74 541.67,305.00 542.08,304.07 542.50,302.50 542.92,308.91 543.33,312.50 543.75,303.37 544.17,300.00 544.58,297.32 545.00,291.67 545.33,293.85 545.67,296.67 546.00,302.45 546.33,305.00 546.67,307.59 547.00,308.33 547.33,304.47 547.67,303.33 548.00,302.53 548.33,307.50 548.75,312.31 549.17,311.67 549.58,308.03 550.00,309.17 550.42,306.91 550.83,305.00 551.25,301.50 551.67,300.00 552.08,302.87 552.50,308.33 552.92,311.11 553.33,310.83 553.75,311.38 554.17,305.83 554.58,305.13 555.00,307.50 555.42,307.25 555.83,305.00 556.25,306.23 556.67,310.00 557.08,307.03 557.50,303.33 557.92,301.82 558.33,301.67 558.75,301.20 559.17,305.00 559.58,304.08 560.00,307.50 560.42,303.55 560.83,303.33 561.25,308.85 561.67,309.17 562.08,307.48 562.50,305.83 562.92,306.96 563.33,311.67 563.75,311.77 564.17,306.67 564.58,310.68 565.00,308.33 565.42,306.35 565.83,305.00 566.25,301.86 566.67,303.33 567.17,295.00 567.50,298.86 567.83,306.67 568.33,305.00 568.83,306.67" fill="none" stroke="#000" stroke-width="1.05" stroke-linejoin="miter" stroke-miterlimit="2"/>
<rect x="79.00" y="341" width="3.00" height="62.5" fill="#6a6a6a"/><rect x="101.33" y="341" width="3.00" height="62.5" fill="#6a6a6a"/><rect x="216.17" y="341" width="3.50" height="62.5" fill="#6a6a6a"/><rect x="240.50" y="341" width="2.00" height="62.5" fill="#6a6a6a"/><rect x="250.50" y="341" width="4.00" height="62.5" fill="#6a6a6a"/><rect x="308.17" y="341" width="3.00" height="62.5" fill="#6a6a6a"/><rect x="377.33" y="341" width="4.00" height="62.5" fill="#6a6a6a"/><rect x="412.17" y="341" width="3.50" height="62.5" fill="#6a6a6a"/><rect x="470.17" y="341" width="4.50" height="62.5" fill="#6a6a6a"/>
<polyline points="40.00,371.83 40.33,369.96 40.67,373.00 41.17,369.33 41.67,362.67 42.00,374.33 42.33,386.00 42.83,354.33 43.25,352.14 43.67,351.83 44.08,348.21 44.50,349.50 44.83,347.93 45.17,349.50 45.67,345.33 46.17,343.80 46.67,345.17 47.25,345.58 47.83,345.17 48.17,391.00 48.67,386.00 49.00,385.41 49.33,380.17 49.67,381.25 50.00,379.33 50.33,377.98 50.67,377.67 51.00,374.65 51.33,372.67 51.67,370.31 52.00,367.67 52.33,367.34 52.67,368.50 53.00,361.28 53.33,356.00 53.75,350.87 54.17,351.00 54.67,359.33 55.17,342.67 55.50,382.67 55.83,342.67 56.17,386.00 56.50,341.83 56.83,379.33 57.17,342.67 57.67,403.30 58.00,402.67 58.50,391.00 59.00,386.00 59.33,383.42 59.67,383.50 60.00,385.47 60.33,381.83 60.75,378.76 61.17,380.17 61.50,378.94 61.83,377.67 62.25,375.53 62.67,371.83 63.00,369.43 63.33,362.67 63.83,347.67 64.33,351.00 64.67,360.96 65.00,374.33 65.33,346.00 65.83,386.00 66.33,349.33 66.83,384.33 67.33,347.67 67.83,343.50 68.17,341.29 68.50,341.83 68.92,340.16 69.33,341.50 69.83,340.98 70.33,341.67 70.67,341.51 71.00,342.00 71.33,403.30 71.83,402.67 72.08,392.06 72.33,376.00 72.67,379.34 73.00,378.50 73.33,377.40 73.67,371.83 74.00,371.05 74.33,376.00 74.67,369.03 75.00,367.67 75.33,373.92 75.67,377.67 76.00,375.87 76.33,369.33 76.67,371.67 77.00,374.33 77.33,370.69 77.67,366.00 78.00,353.00 78.33,346.00 78.67,343.27 79.00,341.83 80.50,344.81 82.00,342.67 82.50,381.00 82.92,383.37 83.33,381.83 83.83,384.13 84.33,382.17 84.83,384.92 85.33,382.00 85.83,380.16 86.33,381.33 86.75,378.40 87.17,380.17 87.50,375.18 87.83,374.33 88.33,371.00 88.83,386.00 89.33,403.30 89.83,403.30 90.33,379.33 90.83,341.83 91.33,403.30 91.83,341.00 92.33,351.00 92.83,341.00 93.33,346.00 93.83,403.30 94.33,341.00 94.83,369.33 95.17,372.80 95.50,376.00 95.83,379.18 96.17,380.17 96.50,383.23 96.83,381.00 97.17,381.66 97.50,379.67 97.83,382.05 98.17,382.67 98.50,384.67 98.83,383.50 99.17,383.66 99.50,384.33 99.83,385.48 100.17,386.00 100.50,379.90 100.83,379.33 101.33,341.00 102.83,343.11 104.33,341.83 104.83,361.00 105.33,366.83 105.67,365.65 106.00,367.67 106.33,369.35 106.67,366.00 107.00,371.04 107.33,374.33 107.67,376.49 108.00,381.00 108.33,367.10 108.67,357.67 109.17,386.00 109.67,377.67 110.00,378.26 110.33,381.83 110.75,381.82 111.17,380.17 111.50,383.86 111.83,385.17 112.17,383.26 112.50,386.00 112.83,382.59 113.17,384.33 113.50,381.56 113.83,378.50 114.17,377.75 114.50,376.00 115.00,341.83 115.50,344.33 115.83,403.30 116.33,342.67 116.83,381.00 117.17,382.00 117.50,384.33 117.83,383.51 118.17,386.00 118.50,383.44 118.83,379.67 119.17,374.90 119.50,376.00 119.83,371.48 120.17,369.33 120.67,354.33 121.17,389.33 121.67,376.00 122.00,372.43 122.33,369.33 122.67,364.59 123.00,354.33 123.42,353.12 123.83,350.17 124.25,352.05 124.67,349.33 125.67,349.19 126.67,349.33 127.17,347.91 127.67,349.67 127.92,349.23 128.17,351.83 128.67,399.33 129.17,386.00 129.50,387.10 129.83,382.67 130.25,383.64 130.67,382.17 131.08,380.93 131.50,382.00 131.92,379.46 132.33,382.67 132.75,383.49 133.17,384.33 133.50,382.05 133.83,377.67 134.17,374.27 134.50,371.83 134.83,369.13 135.17,369.33 135.50,369.50 135.83,367.67 136.33,346.00 136.67,403.30 137.17,386.00 137.50,392.72 137.83,394.33 138.17,388.53 138.50,386.00 138.83,381.54 139.17,382.67 140.00,386.00 140.33,383.36 140.67,382.67 141.00,383.02 141.33,384.33 141.67,383.76 142.00,381.00 142.33,380.02 142.67,382.67 143.00,382.78 143.33,379.33 143.67,382.43 144.00,382.67 144.33,381.86 144.67,381.00 145.00,378.40 145.33,379.33 145.67,377.15 146.00,369.33 146.33,354.33 146.83,361.00 147.33,369.33 147.67,369.04 148.00,371.00 148.33,372.09 148.67,369.33 149.17,374.33 149.67,361.00 150.00,349.38 150.33,341.00 150.83,354.33 151.33,386.00 151.83,346.00 152.33,403.30 152.83,386.00 153.33,369.33 153.83,377.67 154.33,349.33 154.83,361.00 155.33,352.67 155.83,366.00 156.33,381.00 156.83,374.33 157.33,386.00 157.83,391.00 158.33,377.67 158.83,341.00 159.33,366.00 159.83,403.30 160.33,386.00 160.67,382.66 161.00,382.67 161.33,381.73 161.67,377.67 162.00,379.77 162.33,384.33 162.83,362.67 163.33,379.33 163.67,383.71 164.00,382.67 164.33,384.31 164.67,386.00 165.00,382.04 165.33,381.83 165.67,380.59 166.00,382.67 166.33,383.84 166.67,386.00 167.00,386.16 167.33,384.33 167.67,385.78 168.00,381.83 168.33,381.79 168.67,386.00 169.00,387.03 169.33,389.33 169.67,385.11 170.00,384.33 170.33,365.51 170.67,341.00 171.00,341.83 171.33,403.30 171.83,402.67 172.17,394.68 172.50,391.00 172.83,384.98 173.17,384.33 173.50,379.19 173.83,379.33 174.17,382.03 174.50,386.00 175.00,384.33 175.33,390.06 175.67,391.00 176.00,389.13 176.33,382.67 176.67,383.23 177.00,381.00 177.33,384.40 177.67,381.83 178.00,384.42 178.33,381.83 178.67,380.39 179.00,381.00 179.33,367.45 179.67,357.67 180.17,349.33 180.67,354.33 181.17,364.33 181.67,359.33 182.17,369.33 182.67,361.00 183.17,366.00 183.67,371.00 184.17,376.00 184.67,384.33 185.17,377.67 185.67,381.00 186.17,386.00 186.67,391.00 187.17,377.67 187.50,379.45 187.83,376.00 188.33,381.00 188.83,379.33 189.17,379.14 189.50,376.00 189.83,374.02 190.17,377.67 190.67,380.17 191.17,380.17 191.50,381.57 191.83,381.00 192.17,380.69 192.50,381.83 192.83,381.49 193.17,382.67 193.67,341.00 194.17,342.67 194.67,403.30 195.00,401.97 195.33,402.67 195.67,398.18 196.00,397.67 196.33,391.35 196.67,391.00 197.00,387.18 197.33,386.00 197.67,383.44 198.00,382.67 198.33,384.57 198.67,381.00 199.00,380.41 199.33,384.33 199.67,384.62 200.00,379.33 200.50,386.00 201.00,381.00 201.33,380.91 201.67,384.33 202.00,382.64 202.33,382.67 202.67,386.26 203.00,386.00 203.33,387.10 203.67,384.33 204.00,384.76 204.33,386.00 204.67,380.80 205.00,381.00 205.33,360.84 205.67,341.00 206.17,352.67 206.67,344.33 207.17,361.00 207.67,403.30 208.17,356.00 208.67,362.67 209.00,365.24 209.33,369.33 209.67,374.35 210.00,374.33 210.33,374.99 210.67,379.33 211.00,379.35 211.33,381.00 211.67,384.22 212.00,382.67 212.33,378.18 212.67,379.33 213.00,381.30 213.33,384.33 213.67,385.37 214.00,382.67 214.33,387.60 214.67,389.33 215.17,346.00 215.67,361.00 216.17,403.30 217.92,369.39 219.67,341.00 220.17,361.00 220.67,376.00 221.00,377.38 221.33,384.33 221.67,374.21 222.00,369.33 222.33,370.19 222.67,366.00 223.17,374.33 223.67,381.00 224.00,380.38 224.33,382.67 224.67,382.48 225.00,379.33 225.33,377.56 225.67,371.00 226.00,373.37 226.33,377.67 226.83,384.33 227.17,385.47 227.50,389.33 228.00,386.00 228.33,386.66 228.67,381.83 229.17,384.33 229.67,346.00 230.17,403.30 230.67,346.00 231.17,403.30 231.67,349.33 232.17,384.33 232.67,381.00 233.00,382.54 233.33,382.67 233.67,382.91 234.00,386.00 234.33,388.97 234.67,389.33 235.00,385.73 235.33,384.33 235.67,380.49 236.00,379.33 236.33,373.86 236.67,374.33 237.17,366.00 237.67,369.33 238.00,374.20 238.33,376.00 238.67,377.67 239.00,374.33 239.33,376.80 239.67,377.67 240.00,377.67 240.50,341.00 241.50,343.66 242.50,341.00 243.00,386.00 243.50,341.00 244.00,374.33 244.50,379.33 245.00,376.00 245.50,382.67 246.00,371.00 246.33,367.31 246.67,369.33 247.00,376.07 247.33,386.00 247.83,391.00 248.33,377.67 248.83,346.00 249.33,382.67 249.67,382.52 250.00,382.67 250.50,342.67 252.50,345.41 254.50,342.67 255.00,346.00 255.50,386.00 255.83,388.72 256.17,386.00 256.50,384.49 256.83,384.33 257.33,352.67 257.83,364.33 258.33,386.00 258.67,382.01 259.00,381.00 259.33,378.08 259.67,376.00 260.00,375.13 260.33,374.33 260.67,377.74 261.00,376.00 261.33,373.68 261.67,375.17 262.00,377.82 262.33,376.83 262.67,377.01 263.00,374.33 263.33,377.10 263.67,376.00 264.00,378.05 264.33,376.83 264.67,376.64 265.00,375.17 265.33,375.38 265.67,377.67 266.00,375.75 266.33,376.00 266.67,375.59 267.00,376.83 267.33,377.69 267.67,375.17 268.00,373.89 268.33,377.67 268.67,374.18 269.00,374.33 269.50,364.33 270.00,349.33 270.50,361.00 271.00,369.33 271.50,381.00 272.00,366.00 272.50,376.00 273.00,377.67 273.50,367.67 274.00,354.33 274.50,341.00 275.00,356.00 275.50,379.33 276.00,386.00 276.50,391.00 277.00,386.00 277.50,399.33 278.00,345.17 278.50,386.00 279.00,391.00 279.50,387.67 280.00,384.33 280.33,384.18 280.67,381.00 281.00,378.65 281.33,379.33 281.67,382.56 282.00,391.00 282.50,396.00 283.00,386.00 283.33,381.54 283.67,382.67 284.00,380.48 284.33,377.67 284.83,361.00 285.33,357.67 285.83,346.00 286.17,344.95 286.50,346.00 286.83,350.55 287.17,349.33 287.50,351.22 287.83,348.50 288.17,351.84 288.50,349.33 288.83,347.76 289.17,349.00 289.50,347.50 289.83,351.00 290.33,361.00 290.67,362.75 291.00,369.33 291.33,370.16 291.67,371.00 292.00,371.43 292.33,369.33 292.67,371.52 293.00,374.33 293.33,369.41 293.67,367.67 294.00,366.33 294.33,366.00 294.67,369.22 295.00,371.00 295.33,373.71 295.67,374.33 296.00,381.65 296.33,386.00 296.67,383.08 297.00,376.00 297.50,350.17 298.00,352.67 298.50,354.33 299.00,357.67 299.50,369.33 300.00,386.00 300.50,394.33 301.00,399.33 301.50,403.30 302.00,399.33 302.33,393.65 302.67,386.00 303.00,382.89 303.33,384.33 303.67,387.21 304.00,386.00 304.33,381.43 304.67,379.33 305.00,381.40 305.33,382.67 305.67,383.57 306.00,386.00 306.33,389.10 306.67,389.33 307.17,386.00 307.67,382.67 308.17,403.30 309.67,401.18 311.17,402.67 311.67,386.00 312.00,391.15 312.33,399.33 312.83,391.00 313.33,377.67 313.83,371.00 314.33,366.00 314.67,359.47 315.00,356.00 315.50,350.17 316.00,356.00 316.33,358.09 316.67,364.33 317.00,368.31 317.33,367.67 317.83,374.33 318.33,367.67 318.83,361.00 319.33,371.00 319.83,341.00 320.33,359.33 320.83,366.00 321.33,374.33 321.83,377.67 322.33,381.00 322.83,389.33 323.33,394.33 323.67,391.47 324.00,387.67 324.33,384.12 324.67,382.67 325.00,382.88 325.33,384.33 325.67,384.79 326.00,379.33 326.33,380.21 326.67,381.00 327.00,377.72 327.33,377.67 327.67,383.68 328.00,386.00 328.33,388.59 328.67,389.33 329.00,388.95 329.33,382.67 329.67,361.95 330.00,346.00 330.50,374.33 331.00,377.67 331.50,357.67 332.00,356.00 332.50,354.33 333.00,352.67 333.50,354.33 334.00,359.33 334.50,369.33 335.00,367.67 335.33,367.52 335.67,367.67 336.17,372.67 336.67,374.33 337.00,377.91 337.33,377.67 337.67,380.54 338.00,379.33 338.33,380.15 338.67,376.00 339.00,374.91 339.33,379.33 340.00,377.67 340.33,374.76 340.67,374.33 341.00,367.88 341.33,366.00 341.83,344.33 342.33,391.00 342.83,357.67 343.33,352.67 343.67,355.80 344.00,362.67 344.33,362.17 344.67,356.00 345.00,351.08 345.33,345.17 345.67,353.16 346.00,356.00 346.50,345.17 347.00,377.67 347.50,399.33 348.00,386.00 348.33,381.90 348.67,379.33 349.00,380.70 349.33,377.67 349.67,381.53 350.00,386.00 350.33,380.39 350.67,377.67 351.17,357.67 351.67,376.00 352.17,386.00 352.67,376.00 353.17,379.33 353.67,377.67 354.17,369.33 354.67,361.00 355.17,349.33 355.67,346.00 356.17,342.67 356.67,341.00 357.17,346.00 357.67,403.30 358.17,386.00 358.50,386.00 358.83,382.67 359.17,383.67 359.50,379.33 359.83,377.80 360.17,381.00 360.50,382.41 360.83,382.67 361.17,379.22 361.50,374.33 361.83,375.97 362.17,381.00 362.50,381.88 362.83,384.33 363.17,383.01 363.50,386.00 363.83,382.56 364.17,382.67 364.50,382.86 364.83,386.00 365.17,384.10 365.50,381.00 365.83,377.74 366.17,372.67 366.67,354.33 367.17,364.33 367.67,386.00 368.17,389.33 368.67,382.67 369.17,381.00 369.67,377.67 370.17,369.33 370.67,366.00 371.17,376.00 371.67,382.67 372.17,389.33 372.67,394.33 373.00,388.39 373.33,386.00 373.83,379.33 374.33,382.67 374.83,377.67 375.33,382.67 375.83,387.67 376.33,374.33 376.83,389.33 377.33,341.00 379.33,338.90 381.33,342.67 381.83,382.67 382.33,386.00 382.67,384.13 383.00,384.33 383.33,386.24 383.67,386.00 384.00,381.61 384.33,381.00 384.67,382.37 385.00,386.00 385.33,382.55 385.67,382.67 386.00,381.94 386.33,377.67 386.67,376.29 387.00,374.33 387.33,370.05 387.67,371.00 388.00,371.11 388.33,376.00 388.67,372.04 389.00,369.33 389.33,367.97 389.67,366.00 390.17,362.67 390.67,369.33 391.00,372.67 391.33,374.33 391.67,372.71 392.00,376.00 392.33,374.82 392.67,377.67 393.00,378.01 393.33,376.00 393.67,376.71 394.00,378.50 394.33,375.12 394.67,374.33 395.00,372.35 395.33,372.67 395.67,373.72 396.00,369.33 396.33,362.37 396.67,357.67 397.17,346.00 397.67,372.67 398.17,384.33 398.67,389.33 399.17,391.00 399.67,369.33 400.17,357.67 400.67,352.67 401.17,361.00 401.67,346.00 402.17,361.00 402.67,366.00 403.17,352.67 403.67,341.00 404.17,346.00 404.67,403.30 405.17,386.00 405.67,381.00 406.17,382.67 406.67,384.33 407.00,385.57 407.33,386.00 407.67,382.64 408.00,381.00 408.33,378.83 408.67,377.67 409.00,380.69 409.33,379.33 409.67,383.98 410.00,382.67 410.33,379.35 410.67,377.67 411.17,351.00 411.67,346.00 412.17,341.00 413.92,370.33 415.67,403.30 416.17,384.33 416.67,386.00 417.00,385.70 417.33,382.67 417.67,380.06 418.00,381.00 418.33,380.54 418.67,386.00 419.00,386.74 419.33,382.67 419.67,380.54 420.00,379.33 420.33,380.42 420.67,377.67 421.00,376.27 421.33,376.00 421.67,366.63 422.00,352.67 422.50,349.33 423.00,356.00 423.33,354.93 423.67,354.33 424.00,348.14 424.33,346.00 424.67,344.76 425.00,349.33 425.33,351.31 425.67,352.67 426.00,354.34 426.33,354.33 426.67,357.63 427.00,356.00 427.33,354.37 427.67,357.67 428.00,360.90 428.33,362.67 428.83,374.33 429.33,386.00 429.67,383.56 430.00,382.67 430.33,383.53 430.67,384.33 431.00,380.54 431.33,381.00 431.67,378.87 432.00,379.33 432.33,378.63 432.67,377.67 433.00,379.39 433.33,376.00 433.83,357.67 434.33,346.00 434.83,342.67 435.33,341.00 435.83,344.33 436.33,346.00 436.67,341.15 437.00,341.00 437.50,369.33 438.00,379.33 438.50,377.67 439.00,399.33 439.50,386.00 440.00,391.00 440.50,387.67 441.00,386.00 441.33,385.11 441.67,384.33 442.00,385.33 442.33,382.67 442.67,385.47 443.00,382.67 443.33,381.27 443.67,383.50 444.00,381.68 444.33,384.33 444.67,389.49 445.00,389.33 445.33,390.52 445.67,386.00 446.00,363.40 446.33,341.00 446.83,346.00 447.33,361.00 447.83,374.33 448.17,373.32 448.50,377.67 448.83,380.64 449.17,378.50 449.50,377.41 449.83,377.67 450.17,379.68 450.50,376.83 450.83,377.97 451.17,377.67 451.50,378.78 451.83,376.00 452.17,371.04 452.50,370.17 452.83,372.71 453.17,371.83 453.50,370.58 453.83,372.67 454.17,372.93 454.50,374.33 454.83,374.74 455.17,371.00 455.50,372.56 455.83,370.17 456.17,368.68 456.50,371.00 456.83,368.48 457.17,369.33 457.67,366.00 458.17,372.67 458.67,376.00 459.17,386.00 459.67,394.33 460.17,341.00 460.67,344.33 461.17,346.00 461.67,347.67 462.17,354.33 462.67,364.33 463.17,374.33 463.67,381.00 464.00,379.57 464.33,379.33 464.67,381.11 465.00,382.67 465.33,383.63 465.67,386.00 466.00,382.91 466.33,384.33 466.67,381.15 467.00,381.00 467.33,384.85 467.67,386.00 468.17,399.33 468.67,341.00 469.17,382.67 469.67,369.33 470.17,341.00 472.42,374.53 474.67,403.30 475.17,382.67 475.67,386.00 476.00,381.58 476.33,382.67 476.67,387.21 477.00,391.00 477.33,391.71 477.67,389.33 478.00,384.90 478.33,386.00 478.67,384.70 479.00,379.33 479.33,375.37 479.67,376.00 480.00,375.76 480.33,374.33 480.67,378.80 481.00,382.67 481.33,387.60 481.67,391.00 482.17,341.00 482.67,352.67 483.17,357.67 483.67,364.33 484.17,369.33 484.67,371.00 485.17,362.67 485.67,354.33 486.17,351.00 486.67,349.33 487.17,352.67 487.67,356.00 488.17,349.33 488.67,366.00 489.17,382.67 489.67,386.00 490.17,382.67 490.67,374.33 491.17,357.67 491.67,352.67 492.17,349.33 492.67,349.00 493.00,348.00 493.33,349.33 493.75,348.85 494.17,349.33 494.67,369.33 495.17,341.00 495.67,403.30 496.17,396.00 496.67,389.33 497.00,388.16 497.33,386.00 497.67,384.72 498.00,384.33 498.33,383.62 498.67,381.00 499.00,379.85 499.33,379.33 500.00,379.33 500.42,379.80 500.83,381.00 501.25,378.97 501.67,382.67 502.08,385.05 502.50,386.00 502.92,387.60 503.33,389.33 503.75,363.58 504.17,341.00 504.67,341.00 505.00,342.58 505.33,341.00 505.67,342.68 506.00,341.00 506.33,340.75 506.67,341.00 507.17,403.30 507.67,403.30 508.00,397.73 508.33,396.00 508.75,391.67 509.17,387.67 509.58,384.48 510.00,386.00 510.42,382.94 510.83,384.33 511.25,383.08 511.67,382.67 512.08,376.05 512.50,374.33 513.00,386.00 513.33,387.32 513.67,389.33 514.17,387.73 514.67,386.00 515.00,361.58 515.33,342.67 515.67,342.65 516.00,341.00 516.33,340.16 516.67,344.33 517.17,403.30 517.67,346.00 518.00,349.90 518.33,351.00 518.67,355.17 519.00,356.00 519.33,360.24 519.67,364.33 520.00,359.99 520.33,361.00 520.67,355.19 521.00,349.33 521.33,358.60 521.67,369.33 522.08,378.71 522.50,382.67 522.92,377.98 523.33,377.67" fill="none" stroke="#111" stroke-width="1.0" stroke-linejoin="miter" stroke-miterlimit="2"/>
<polyline points="529.67,346.00 530.00,346.48 530.33,342.67 530.67,344.81 531.00,341.00 531.33,342.39 531.67,341.00 532.00,344.56 532.33,344.33 532.83,361.00 533.33,382.67 533.75,380.83 534.17,382.67 534.58,385.56 535.00,382.67 535.42,383.03 535.83,383.50 536.25,387.49 536.67,386.00 537.08,391.00 537.50,391.00 538.00,377.67 538.50,361.00 539.00,351.00 539.50,346.00 540.00,342.67 540.50,341.00 541.00,341.00 541.50,403.30 542.00,386.00 542.33,375.66 542.67,369.33 543.00,373.56 543.33,374.33 543.67,380.25 544.00,381.00 544.33,375.89 544.67,376.00 545.00,371.77 545.33,369.33 545.67,366.70 546.00,361.00 546.33,353.12 546.67,349.33 547.17,369.33 547.67,399.33 548.17,377.67 548.67,371.00 549.00,377.55 549.33,379.33 549.67,375.48 550.00,374.33 550.33,388.73 550.67,399.33 551.17,341.00 551.67,361.00 552.17,372.67 552.67,347.67 553.00,344.69 553.33,346.00 553.83,359.33 554.33,357.67 554.67,361.85 555.00,366.00 555.33,370.19 555.67,369.33 556.00,370.08 556.33,374.33 556.67,374.58 557.00,377.67 557.33,379.37 557.67,381.00 558.00,380.75 558.33,382.67 558.67,378.22 559.00,379.33 559.33,378.26 559.67,381.00 560.00,381.47 560.33,386.00 560.67,391.12 561.00,391.00 561.33,381.24 561.67,369.33 562.00,365.87 562.33,357.67 562.67,353.18 563.00,352.67 563.33,351.04 563.67,346.00 564.00,370.36 564.33,399.33 564.67,397.85 565.00,396.00 565.33,395.98 565.67,394.33 566.00,390.99 566.33,389.33 566.67,389.90 567.00,386.00 567.33,385.50 567.67,384.33 568.00,383.98 568.33,382.67 568.67,384.96 569.00,382.67" fill="none" stroke="#111" stroke-width="1.0" stroke-linejoin="miter" stroke-miterlimit="2"/>
<text x="48.6" y="19.2" font-size="9.6" font-weight="bold" fill="#111">a</text>
<text x="48.5" y="172.4" font-size="9.6" font-weight="bold" fill="#111">b</text>
<text x="48.6" y="259.7" font-size="9.6" font-weight="bold" fill="#111">c</text>
<text x="48.8" y="347.9" font-size="9.6" font-weight="bold" fill="#111">d</text>
<rect x="438.3" y="15" width="114" height="38.4" fill="#fff" stroke="#444" stroke-width="0.9"/>
<circle cx="451.2" cy="25.2" r="2.4" fill="none" stroke="#111" stroke-width="0.85"/>
<text x="465.1" y="28.2" font-size="8.6" fill="#222">Calculated snowmelt</text>
<text x="465.1" y="47.2" font-size="8.65" fill="#222">Measured snowmelt</text>
<rect x="438.2" y="59.3" width="51.1" height="58.4" fill="#fff" stroke="#444" stroke-width="0.9"/>
<path d="M446.2 69.2H461.8" stroke="#f22" stroke-width="0.9"/>
<path d="M446.2 88.5H461.8" stroke="#3a4aff" stroke-width="1.0"/>
<path d="M446.2 107.8H461.8" stroke="#333" stroke-width="0.9"/>
<text x="469.9" y="72.2" font-size="8.5" fill="#222">Rn</text>
<text x="469.9" y="91.5" font-size="8.5" fill="#222">λE</text>
<text x="470.2" y="110.8" font-size="8.5" fill="#222">H</text>
<rect x="450.7" y="163.4" width="40.5" height="18" fill="#fff" stroke="#555" stroke-width="0.9"/>
<rect x="494.4" y="163.4" width="43.4" height="18" fill="#fff" stroke="#555" stroke-width="0.9"/>
<path d="M458.7 172.7H471.7" stroke="#444" stroke-width="0.9"/><circle cx="465.2" cy="172.7" r="0.7" fill="#222"/>
<text x="478" y="175.8" font-size="8.5" fill="#222">T</text>
<circle cx="505.9" cy="172.7" r="2.4" fill="none" stroke="#111" stroke-width="0.85"/>
<text x="517" y="175.8" font-size="8.5" fill="#222">Tav</text>
<polygon points="451.20,41.70 451.91,43.42 453.77,43.57 452.36,44.78 452.79,46.58 451.20,45.62 449.61,46.58 450.04,44.78 448.63,43.57 450.49,43.42" fill="#000"/>
</svg></body></html>
